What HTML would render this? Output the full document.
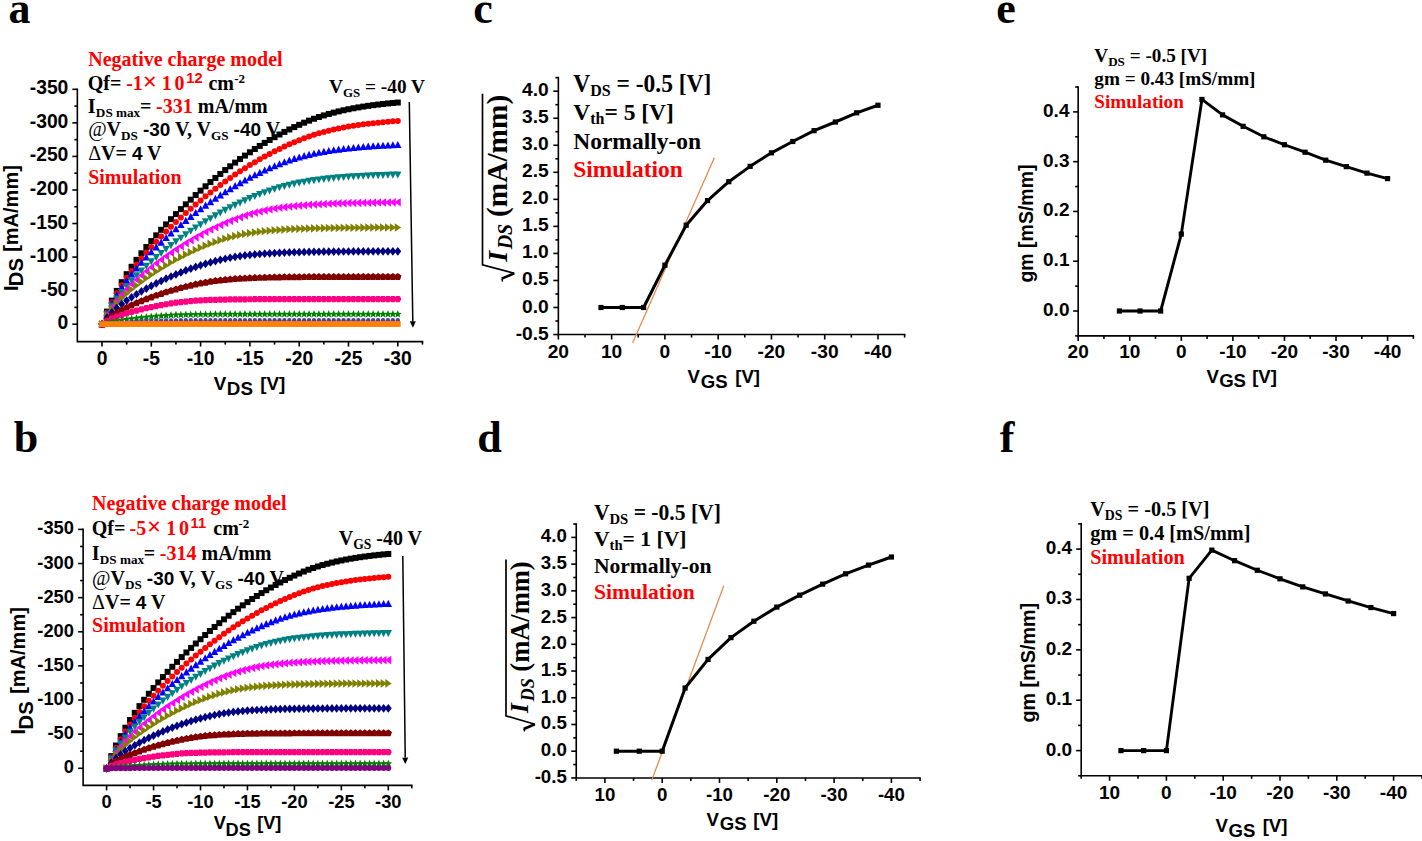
<!DOCTYPE html>
<html><head><meta charset="utf-8"><title>Figure</title>
<style>
html,body{margin:0;padding:0;background:#fff;}
body{width:1422px;height:841px;overflow:hidden;font-family:"Liberation Sans",sans-serif;}
svg{display:block;}
</style></head>
<body>
<svg width="1422" height="841" viewBox="0 0 1422 841">
<rect width="1422" height="841" fill="#fff"/>
<text x="8.58" y="23.3" font-family="'Liberation Serif', serif" font-size="44" font-weight="bold" font-style="normal" fill="#000" xml:space="preserve" >a</text>
<text x="13.74" y="452" font-family="'Liberation Serif', serif" font-size="44" font-weight="bold" font-style="normal" fill="#000" xml:space="preserve" >b</text>
<text x="473.3" y="23.3" font-family="'Liberation Serif', serif" font-size="44" font-weight="bold" font-style="normal" fill="#000" xml:space="preserve" >c</text>
<text x="477.32" y="451.5" font-family="'Liberation Serif', serif" font-size="44" font-weight="bold" font-style="normal" fill="#000" xml:space="preserve" >d</text>
<text x="996.3" y="23.3" font-family="'Liberation Serif', serif" font-size="44" font-weight="bold" font-style="normal" fill="#000" xml:space="preserve" >e</text>
<text x="999.78" y="452" font-family="'Liberation Serif', serif" font-size="44" font-weight="bold" font-style="normal" fill="#000" xml:space="preserve" >f</text>
<path d="M77.35,89.31 L77.35,341.58 L422.45,341.58" fill="none" stroke="#000" stroke-width="1.6" stroke-linecap="square"/>
<line x1="72.35" y1="324.2" x2="77.35" y2="324.2" stroke="#000" stroke-width="1.6" />
<text x="68.35" y="329.2" font-family="'Liberation Sans', sans-serif" font-size="19.3" font-weight="bold" fill="#000" text-anchor="end" >0</text>
<line x1="72.35" y1="290.64" x2="77.35" y2="290.64" stroke="#000" stroke-width="1.6" />
<text x="68.35" y="295.64" font-family="'Liberation Sans', sans-serif" font-size="19.3" font-weight="bold" fill="#000" text-anchor="end" >-50</text>
<line x1="72.35" y1="257.09" x2="77.35" y2="257.09" stroke="#000" stroke-width="1.6" />
<text x="68.35" y="262.09" font-family="'Liberation Sans', sans-serif" font-size="19.3" font-weight="bold" fill="#000" text-anchor="end" >-100</text>
<line x1="72.35" y1="223.53" x2="77.35" y2="223.53" stroke="#000" stroke-width="1.6" />
<text x="68.35" y="228.53" font-family="'Liberation Sans', sans-serif" font-size="19.3" font-weight="bold" fill="#000" text-anchor="end" >-150</text>
<line x1="72.35" y1="189.98" x2="77.35" y2="189.98" stroke="#000" stroke-width="1.6" />
<text x="68.35" y="194.98" font-family="'Liberation Sans', sans-serif" font-size="19.3" font-weight="bold" fill="#000" text-anchor="end" >-200</text>
<line x1="72.35" y1="156.42" x2="77.35" y2="156.42" stroke="#000" stroke-width="1.6" />
<text x="68.35" y="161.42" font-family="'Liberation Sans', sans-serif" font-size="19.3" font-weight="bold" fill="#000" text-anchor="end" >-250</text>
<line x1="72.35" y1="122.87" x2="77.35" y2="122.87" stroke="#000" stroke-width="1.6" />
<text x="68.35" y="127.87" font-family="'Liberation Sans', sans-serif" font-size="19.3" font-weight="bold" fill="#000" text-anchor="end" >-300</text>
<line x1="72.35" y1="89.31" x2="77.35" y2="89.31" stroke="#000" stroke-width="1.6" />
<text x="68.35" y="94.31" font-family="'Liberation Sans', sans-serif" font-size="19.3" font-weight="bold" fill="#000" text-anchor="end" >-350</text>
<line x1="74.35" y1="307.42" x2="77.35" y2="307.42" stroke="#000" stroke-width="1.6" />
<line x1="74.35" y1="273.87" x2="77.35" y2="273.87" stroke="#000" stroke-width="1.6" />
<line x1="74.35" y1="240.31" x2="77.35" y2="240.31" stroke="#000" stroke-width="1.6" />
<line x1="74.35" y1="206.76" x2="77.35" y2="206.76" stroke="#000" stroke-width="1.6" />
<line x1="74.35" y1="173.2" x2="77.35" y2="173.2" stroke="#000" stroke-width="1.6" />
<line x1="74.35" y1="139.65" x2="77.35" y2="139.65" stroke="#000" stroke-width="1.6" />
<line x1="74.35" y1="106.09" x2="77.35" y2="106.09" stroke="#000" stroke-width="1.6" />
<line x1="102" y1="341.58" x2="102" y2="346.58" stroke="#000" stroke-width="1.6" />
<text x="102" y="364.98" font-family="'Liberation Sans', sans-serif" font-size="19.3" font-weight="bold" fill="#000" text-anchor="middle" >0</text>
<line x1="151.3" y1="341.58" x2="151.3" y2="346.58" stroke="#000" stroke-width="1.6" />
<text x="151.3" y="364.98" font-family="'Liberation Sans', sans-serif" font-size="19.3" font-weight="bold" fill="#000" text-anchor="middle" >-5</text>
<line x1="200.6" y1="341.58" x2="200.6" y2="346.58" stroke="#000" stroke-width="1.6" />
<text x="200.6" y="364.98" font-family="'Liberation Sans', sans-serif" font-size="19.3" font-weight="bold" fill="#000" text-anchor="middle" >-10</text>
<line x1="249.9" y1="341.58" x2="249.9" y2="346.58" stroke="#000" stroke-width="1.6" />
<text x="249.9" y="364.98" font-family="'Liberation Sans', sans-serif" font-size="19.3" font-weight="bold" fill="#000" text-anchor="middle" >-15</text>
<line x1="299.2" y1="341.58" x2="299.2" y2="346.58" stroke="#000" stroke-width="1.6" />
<text x="299.2" y="364.98" font-family="'Liberation Sans', sans-serif" font-size="19.3" font-weight="bold" fill="#000" text-anchor="middle" >-20</text>
<line x1="348.5" y1="341.58" x2="348.5" y2="346.58" stroke="#000" stroke-width="1.6" />
<text x="348.5" y="364.98" font-family="'Liberation Sans', sans-serif" font-size="19.3" font-weight="bold" fill="#000" text-anchor="middle" >-25</text>
<line x1="397.8" y1="341.58" x2="397.8" y2="346.58" stroke="#000" stroke-width="1.6" />
<text x="397.8" y="364.98" font-family="'Liberation Sans', sans-serif" font-size="19.3" font-weight="bold" fill="#000" text-anchor="middle" >-30</text>
<line x1="126.65" y1="341.58" x2="126.65" y2="344.58" stroke="#000" stroke-width="1.6" />
<line x1="175.95" y1="341.58" x2="175.95" y2="344.58" stroke="#000" stroke-width="1.6" />
<line x1="225.25" y1="341.58" x2="225.25" y2="344.58" stroke="#000" stroke-width="1.6" />
<line x1="274.55" y1="341.58" x2="274.55" y2="344.58" stroke="#000" stroke-width="1.6" />
<line x1="323.85" y1="341.58" x2="323.85" y2="344.58" stroke="#000" stroke-width="1.6" />
<line x1="373.15" y1="341.58" x2="373.15" y2="344.58" stroke="#000" stroke-width="1.6" />
<line x1="422.45" y1="341.58" x2="422.45" y2="344.58" stroke="#000" stroke-width="1.6" />
<g>
<rect x="99" y="321.2" width="6" height="6" fill="#000000"/>
<rect x="103.93" y="308.61" width="6" height="6" fill="#000000"/>
<rect x="108.86" y="297.64" width="6" height="6" fill="#000000"/>
<rect x="113.79" y="287.93" width="6" height="6" fill="#000000"/>
<rect x="118.72" y="279.18" width="6" height="6" fill="#000000"/>
<rect x="123.65" y="271.19" width="6" height="6" fill="#000000"/>
<rect x="128.58" y="263.78" width="6" height="6" fill="#000000"/>
<rect x="133.51" y="256.85" width="6" height="6" fill="#000000"/>
<rect x="138.44" y="250.3" width="6" height="6" fill="#000000"/>
<rect x="143.37" y="244.06" width="6" height="6" fill="#000000"/>
<rect x="148.3" y="238.09" width="6" height="6" fill="#000000"/>
<rect x="153.23" y="232.34" width="6" height="6" fill="#000000"/>
<rect x="158.16" y="226.78" width="6" height="6" fill="#000000"/>
<rect x="163.09" y="221.4" width="6" height="6" fill="#000000"/>
<rect x="168.02" y="216.18" width="6" height="6" fill="#000000"/>
<rect x="172.95" y="211.1" width="6" height="6" fill="#000000"/>
<rect x="177.88" y="206.15" width="6" height="6" fill="#000000"/>
<rect x="182.81" y="201.34" width="6" height="6" fill="#000000"/>
<rect x="187.74" y="196.65" width="6" height="6" fill="#000000"/>
<rect x="192.67" y="192.08" width="6" height="6" fill="#000000"/>
<rect x="197.6" y="187.63" width="6" height="6" fill="#000000"/>
<rect x="202.53" y="183.29" width="6" height="6" fill="#000000"/>
<rect x="207.46" y="179.07" width="6" height="6" fill="#000000"/>
<rect x="212.39" y="174.96" width="6" height="6" fill="#000000"/>
<rect x="217.32" y="170.96" width="6" height="6" fill="#000000"/>
<rect x="222.25" y="167.07" width="6" height="6" fill="#000000"/>
<rect x="227.18" y="163.29" width="6" height="6" fill="#000000"/>
<rect x="232.11" y="159.62" width="6" height="6" fill="#000000"/>
<rect x="237.04" y="156.06" width="6" height="6" fill="#000000"/>
<rect x="241.97" y="152.61" width="6" height="6" fill="#000000"/>
<rect x="246.9" y="149.27" width="6" height="6" fill="#000000"/>
<rect x="251.83" y="146.04" width="6" height="6" fill="#000000"/>
<rect x="256.76" y="142.91" width="6" height="6" fill="#000000"/>
<rect x="261.69" y="139.9" width="6" height="6" fill="#000000"/>
<rect x="266.62" y="136.99" width="6" height="6" fill="#000000"/>
<rect x="271.55" y="134.19" width="6" height="6" fill="#000000"/>
<rect x="276.48" y="131.5" width="6" height="6" fill="#000000"/>
<rect x="281.41" y="128.92" width="6" height="6" fill="#000000"/>
<rect x="286.34" y="126.45" width="6" height="6" fill="#000000"/>
<rect x="291.27" y="124.09" width="6" height="6" fill="#000000"/>
<rect x="296.2" y="121.83" width="6" height="6" fill="#000000"/>
<rect x="301.13" y="119.69" width="6" height="6" fill="#000000"/>
<rect x="306.06" y="117.65" width="6" height="6" fill="#000000"/>
<rect x="310.99" y="115.76" width="6" height="6" fill="#000000"/>
<rect x="315.92" y="114.03" width="6" height="6" fill="#000000"/>
<rect x="320.85" y="112.43" width="6" height="6" fill="#000000"/>
<rect x="325.78" y="110.97" width="6" height="6" fill="#000000"/>
<rect x="330.71" y="109.63" width="6" height="6" fill="#000000"/>
<rect x="335.64" y="108.4" width="6" height="6" fill="#000000"/>
<rect x="340.57" y="107.27" width="6" height="6" fill="#000000"/>
<rect x="345.5" y="106.23" width="6" height="6" fill="#000000"/>
<rect x="350.43" y="105.27" width="6" height="6" fill="#000000"/>
<rect x="355.36" y="104.4" width="6" height="6" fill="#000000"/>
<rect x="360.29" y="103.59" width="6" height="6" fill="#000000"/>
<rect x="365.22" y="102.85" width="6" height="6" fill="#000000"/>
<rect x="370.15" y="102.18" width="6" height="6" fill="#000000"/>
<rect x="375.08" y="101.56" width="6" height="6" fill="#000000"/>
<rect x="380.01" y="100.98" width="6" height="6" fill="#000000"/>
<rect x="384.94" y="100.46" width="6" height="6" fill="#000000"/>
<rect x="389.87" y="99.98" width="6" height="6" fill="#000000"/>
<rect x="394.8" y="99.54" width="6" height="6" fill="#000000"/>
</g>
<g>
<circle cx="102" cy="324.2" r="3" fill="#ff0000"/>
<circle cx="106.93" cy="312.46" r="3" fill="#ff0000"/>
<circle cx="111.86" cy="302.27" r="3" fill="#ff0000"/>
<circle cx="116.79" cy="293.25" r="3" fill="#ff0000"/>
<circle cx="121.72" cy="285.14" r="3" fill="#ff0000"/>
<circle cx="126.65" cy="277.73" r="3" fill="#ff0000"/>
<circle cx="131.58" cy="270.88" r="3" fill="#ff0000"/>
<circle cx="136.51" cy="264.46" r="3" fill="#ff0000"/>
<circle cx="141.44" cy="258.39" r="3" fill="#ff0000"/>
<circle cx="146.37" cy="252.61" r="3" fill="#ff0000"/>
<circle cx="151.3" cy="247.08" r="3" fill="#ff0000"/>
<circle cx="156.23" cy="241.75" r="3" fill="#ff0000"/>
<circle cx="161.16" cy="236.61" r="3" fill="#ff0000"/>
<circle cx="166.09" cy="231.62" r="3" fill="#ff0000"/>
<circle cx="171.02" cy="226.78" r="3" fill="#ff0000"/>
<circle cx="175.95" cy="222.08" r="3" fill="#ff0000"/>
<circle cx="180.88" cy="217.5" r="3" fill="#ff0000"/>
<circle cx="185.81" cy="213.05" r="3" fill="#ff0000"/>
<circle cx="190.74" cy="208.71" r="3" fill="#ff0000"/>
<circle cx="195.67" cy="204.49" r="3" fill="#ff0000"/>
<circle cx="200.6" cy="200.38" r="3" fill="#ff0000"/>
<circle cx="205.53" cy="196.37" r="3" fill="#ff0000"/>
<circle cx="210.46" cy="192.48" r="3" fill="#ff0000"/>
<circle cx="215.39" cy="188.68" r="3" fill="#ff0000"/>
<circle cx="220.32" cy="185" r="3" fill="#ff0000"/>
<circle cx="225.25" cy="181.42" r="3" fill="#ff0000"/>
<circle cx="230.18" cy="177.95" r="3" fill="#ff0000"/>
<circle cx="235.11" cy="174.58" r="3" fill="#ff0000"/>
<circle cx="240.04" cy="171.31" r="3" fill="#ff0000"/>
<circle cx="244.97" cy="168.15" r="3" fill="#ff0000"/>
<circle cx="249.9" cy="165.09" r="3" fill="#ff0000"/>
<circle cx="254.83" cy="162.13" r="3" fill="#ff0000"/>
<circle cx="259.76" cy="159.28" r="3" fill="#ff0000"/>
<circle cx="264.69" cy="156.53" r="3" fill="#ff0000"/>
<circle cx="269.62" cy="153.89" r="3" fill="#ff0000"/>
<circle cx="274.55" cy="151.35" r="3" fill="#ff0000"/>
<circle cx="279.48" cy="148.91" r="3" fill="#ff0000"/>
<circle cx="284.41" cy="146.57" r="3" fill="#ff0000"/>
<circle cx="289.34" cy="144.34" r="3" fill="#ff0000"/>
<circle cx="294.27" cy="142.21" r="3" fill="#ff0000"/>
<circle cx="299.2" cy="140.19" r="3" fill="#ff0000"/>
<circle cx="304.13" cy="138.27" r="3" fill="#ff0000"/>
<circle cx="309.06" cy="136.48" r="3" fill="#ff0000"/>
<circle cx="313.99" cy="134.84" r="3" fill="#ff0000"/>
<circle cx="318.92" cy="133.34" r="3" fill="#ff0000"/>
<circle cx="323.85" cy="131.96" r="3" fill="#ff0000"/>
<circle cx="328.78" cy="130.7" r="3" fill="#ff0000"/>
<circle cx="333.71" cy="129.54" r="3" fill="#ff0000"/>
<circle cx="338.64" cy="128.48" r="3" fill="#ff0000"/>
<circle cx="343.57" cy="127.51" r="3" fill="#ff0000"/>
<circle cx="348.5" cy="126.62" r="3" fill="#ff0000"/>
<circle cx="353.43" cy="125.8" r="3" fill="#ff0000"/>
<circle cx="358.36" cy="125.05" r="3" fill="#ff0000"/>
<circle cx="363.29" cy="124.36" r="3" fill="#ff0000"/>
<circle cx="368.22" cy="123.74" r="3" fill="#ff0000"/>
<circle cx="373.15" cy="123.16" r="3" fill="#ff0000"/>
<circle cx="378.08" cy="122.63" r="3" fill="#ff0000"/>
<circle cx="383.01" cy="122.15" r="3" fill="#ff0000"/>
<circle cx="387.94" cy="121.7" r="3" fill="#ff0000"/>
<circle cx="392.87" cy="121.3" r="3" fill="#ff0000"/>
<circle cx="397.8" cy="120.92" r="3" fill="#ff0000"/>
</g>
<g>
<polygon points="102,320.24 105.7,327.33 98.3,327.33" fill="#0000ff"/>
<polygon points="106.93,309.06 110.63,316.15 103.23,316.15" fill="#0000ff"/>
<polygon points="111.86,299.46 115.56,306.55 108.16,306.55" fill="#0000ff"/>
<polygon points="116.79,291.04 120.49,298.13 113.09,298.13" fill="#0000ff"/>
<polygon points="121.72,283.5 125.42,290.6 118.02,290.6" fill="#0000ff"/>
<polygon points="126.65,276.64 130.35,283.73 122.95,283.73" fill="#0000ff"/>
<polygon points="131.58,270.29 135.28,277.39 127.88,277.39" fill="#0000ff"/>
<polygon points="136.51,264.35 140.21,271.45 132.81,271.45" fill="#0000ff"/>
<polygon points="141.44,258.74 145.14,265.83 137.74,265.83" fill="#0000ff"/>
<polygon points="146.37,253.39 150.07,260.49 142.67,260.49" fill="#0000ff"/>
<polygon points="151.3,248.26 155,255.36 147.6,255.36" fill="#0000ff"/>
<polygon points="156.23,243.33 159.93,250.42 152.53,250.42" fill="#0000ff"/>
<polygon points="161.16,238.56 164.86,245.66 157.46,245.66" fill="#0000ff"/>
<polygon points="166.09,233.95 169.79,241.04 162.39,241.04" fill="#0000ff"/>
<polygon points="171.02,229.47 174.72,236.57 167.32,236.57" fill="#0000ff"/>
<polygon points="175.95,225.13 179.65,232.22 172.25,232.22" fill="#0000ff"/>
<polygon points="180.88,220.91 184.58,228.01 177.18,228.01" fill="#0000ff"/>
<polygon points="185.81,216.82 189.51,223.91 182.11,223.91" fill="#0000ff"/>
<polygon points="190.74,212.84 194.44,219.93 187.04,219.93" fill="#0000ff"/>
<polygon points="195.67,208.97 199.37,216.07 191.97,216.07" fill="#0000ff"/>
<polygon points="200.6,205.22 204.3,212.32 196.9,212.32" fill="#0000ff"/>
<polygon points="205.53,201.58 209.23,208.68 201.83,208.68" fill="#0000ff"/>
<polygon points="210.46,198.05 214.16,205.15 206.76,205.15" fill="#0000ff"/>
<polygon points="215.39,194.64 219.09,201.73 211.69,201.73" fill="#0000ff"/>
<polygon points="220.32,191.33 224.02,198.42 216.62,198.42" fill="#0000ff"/>
<polygon points="225.25,188.13 228.95,195.23 221.55,195.23" fill="#0000ff"/>
<polygon points="230.18,185.04 233.88,192.14 226.48,192.14" fill="#0000ff"/>
<polygon points="235.11,182.06 238.81,189.16 231.41,189.16" fill="#0000ff"/>
<polygon points="240.04,179.19 243.74,186.29 236.34,186.29" fill="#0000ff"/>
<polygon points="244.97,176.43 248.67,183.53 241.27,183.53" fill="#0000ff"/>
<polygon points="249.9,173.78 253.6,180.87 246.2,180.87" fill="#0000ff"/>
<polygon points="254.83,171.23 258.53,178.33 251.13,178.33" fill="#0000ff"/>
<polygon points="259.76,168.8 263.46,175.89 256.06,175.89" fill="#0000ff"/>
<polygon points="264.69,166.47 268.39,173.57 260.99,173.57" fill="#0000ff"/>
<polygon points="269.62,164.26 273.32,171.35 265.92,171.35" fill="#0000ff"/>
<polygon points="274.55,162.15 278.25,169.24 270.85,169.24" fill="#0000ff"/>
<polygon points="279.48,160.15 283.18,167.24 275.78,167.24" fill="#0000ff"/>
<polygon points="284.41,158.25 288.11,165.35 280.71,165.35" fill="#0000ff"/>
<polygon points="289.34,156.48 293.04,163.58 285.64,163.58" fill="#0000ff"/>
<polygon points="294.27,154.87 297.97,161.96 290.57,161.96" fill="#0000ff"/>
<polygon points="299.2,153.4 302.9,160.49 295.5,160.49" fill="#0000ff"/>
<polygon points="304.13,152.07 307.83,159.16 300.43,159.16" fill="#0000ff"/>
<polygon points="309.06,150.85 312.76,157.95 305.36,157.95" fill="#0000ff"/>
<polygon points="313.99,149.75 317.69,156.85 310.29,156.85" fill="#0000ff"/>
<polygon points="318.92,148.75 322.62,155.84 315.22,155.84" fill="#0000ff"/>
<polygon points="323.85,147.84 327.55,154.93 320.15,154.93" fill="#0000ff"/>
<polygon points="328.78,147.01 332.48,154.11 325.08,154.11" fill="#0000ff"/>
<polygon points="333.71,146.26 337.41,153.35 330.01,153.35" fill="#0000ff"/>
<polygon points="338.64,145.57 342.34,152.67 334.94,152.67" fill="#0000ff"/>
<polygon points="343.57,144.95 347.27,152.05 339.87,152.05" fill="#0000ff"/>
<polygon points="348.5,144.39 352.2,151.48 344.8,151.48" fill="#0000ff"/>
<polygon points="353.43,143.88 357.13,150.97 349.73,150.97" fill="#0000ff"/>
<polygon points="358.36,143.41 362.06,150.5 354.66,150.5" fill="#0000ff"/>
<polygon points="363.29,142.98 366.99,150.08 359.59,150.08" fill="#0000ff"/>
<polygon points="368.22,142.6 371.92,149.69 364.52,149.69" fill="#0000ff"/>
<polygon points="373.15,142.25 376.85,149.34 369.45,149.34" fill="#0000ff"/>
<polygon points="378.08,141.93 381.78,149.03 374.38,149.03" fill="#0000ff"/>
<polygon points="383.01,141.64 386.71,148.74 379.31,148.74" fill="#0000ff"/>
<polygon points="387.94,141.38 391.64,148.47 384.24,148.47" fill="#0000ff"/>
<polygon points="392.87,141.14 396.57,148.23 389.17,148.23" fill="#0000ff"/>
<polygon points="397.8,140.92 401.5,148.02 394.1,148.02" fill="#0000ff"/>
</g>
<g>
<polygon points="102,328.16 105.7,321.06 98.3,321.06" fill="#008080"/>
<polygon points="106.93,318.27 110.63,311.17 103.23,311.17" fill="#008080"/>
<polygon points="111.86,309.85 115.56,302.76 108.16,302.76" fill="#008080"/>
<polygon points="116.79,302.51 120.49,295.42 113.09,295.42" fill="#008080"/>
<polygon points="121.72,295.97 125.42,288.88 118.02,288.88" fill="#008080"/>
<polygon points="126.65,290.03 130.35,282.93 122.95,282.93" fill="#008080"/>
<polygon points="131.58,284.53 135.28,277.44 127.88,277.44" fill="#008080"/>
<polygon points="136.51,279.39 140.21,272.29 132.81,272.29" fill="#008080"/>
<polygon points="141.44,274.52 145.14,267.43 137.74,267.43" fill="#008080"/>
<polygon points="146.37,269.89 150.07,262.79 142.67,262.79" fill="#008080"/>
<polygon points="151.3,265.44 155,258.35 147.6,258.35" fill="#008080"/>
<polygon points="156.23,261.17 159.93,254.07 152.53,254.07" fill="#008080"/>
<polygon points="161.16,257.04 164.86,249.94 157.46,249.94" fill="#008080"/>
<polygon points="166.09,253.04 169.79,245.95 162.39,245.95" fill="#008080"/>
<polygon points="171.02,249.17 174.72,242.08 167.32,242.08" fill="#008080"/>
<polygon points="175.95,245.43 179.65,238.33 172.25,238.33" fill="#008080"/>
<polygon points="180.88,241.79 184.58,234.7 177.18,234.7" fill="#008080"/>
<polygon points="185.81,238.27 189.51,231.17 182.11,231.17" fill="#008080"/>
<polygon points="190.74,234.86 194.44,227.76 187.04,227.76" fill="#008080"/>
<polygon points="195.67,231.55 199.37,224.45 191.97,224.45" fill="#008080"/>
<polygon points="200.6,228.35 204.3,221.25 196.9,221.25" fill="#008080"/>
<polygon points="205.53,225.26 209.23,218.16 201.83,218.16" fill="#008080"/>
<polygon points="210.46,222.27 214.16,215.17 206.76,215.17" fill="#008080"/>
<polygon points="215.39,219.38 219.09,212.29 211.69,212.29" fill="#008080"/>
<polygon points="220.32,216.6 224.02,209.51 216.62,209.51" fill="#008080"/>
<polygon points="225.25,213.92 228.95,206.83 221.55,206.83" fill="#008080"/>
<polygon points="230.18,211.35 233.88,204.26 226.48,204.26" fill="#008080"/>
<polygon points="235.11,208.88 238.81,201.79 231.41,201.79" fill="#008080"/>
<polygon points="240.04,206.52 243.74,199.42 236.34,199.42" fill="#008080"/>
<polygon points="244.97,204.26 248.67,197.16 241.27,197.16" fill="#008080"/>
<polygon points="249.9,202.1 253.6,195 246.2,195" fill="#008080"/>
<polygon points="254.83,200.04 258.53,192.95 251.13,192.95" fill="#008080"/>
<polygon points="259.76,198.09 263.46,191 256.06,191" fill="#008080"/>
<polygon points="264.69,196.24 268.39,189.15 260.99,189.15" fill="#008080"/>
<polygon points="269.62,194.5 273.32,187.41 265.92,187.41" fill="#008080"/>
<polygon points="274.55,192.86 278.25,185.77 270.85,185.77" fill="#008080"/>
<polygon points="279.48,191.35 283.18,184.26 275.78,184.26" fill="#008080"/>
<polygon points="284.41,189.99 288.11,182.9 280.71,182.9" fill="#008080"/>
<polygon points="289.34,188.77 293.04,181.67 285.64,181.67" fill="#008080"/>
<polygon points="294.27,187.66 297.97,180.56 290.57,180.56" fill="#008080"/>
<polygon points="299.2,186.66 302.9,179.56 295.5,179.56" fill="#008080"/>
<polygon points="304.13,185.76 307.83,178.66 300.43,178.66" fill="#008080"/>
<polygon points="309.06,184.94 312.76,177.85 305.36,177.85" fill="#008080"/>
<polygon points="313.99,184.21 317.69,177.11 310.29,177.11" fill="#008080"/>
<polygon points="318.92,183.54 322.62,176.45 315.22,176.45" fill="#008080"/>
<polygon points="323.85,182.94 327.55,175.85 320.15,175.85" fill="#008080"/>
<polygon points="328.78,182.4 332.48,175.3 325.08,175.3" fill="#008080"/>
<polygon points="333.71,181.91 337.41,174.82 330.01,174.82" fill="#008080"/>
<polygon points="338.64,181.47 342.34,174.37 334.94,174.37" fill="#008080"/>
<polygon points="343.57,181.07 347.27,173.98 339.87,173.98" fill="#008080"/>
<polygon points="348.5,180.71 352.2,173.62 344.8,173.62" fill="#008080"/>
<polygon points="353.43,180.39 357.13,173.29 349.73,173.29" fill="#008080"/>
<polygon points="358.36,180.09 362.06,173 354.66,173" fill="#008080"/>
<polygon points="363.29,179.83 366.99,172.73 359.59,172.73" fill="#008080"/>
<polygon points="368.22,179.59 371.92,172.49 364.52,172.49" fill="#008080"/>
<polygon points="373.15,179.37 376.85,172.28 369.45,172.28" fill="#008080"/>
<polygon points="378.08,179.18 381.78,172.08 374.38,172.08" fill="#008080"/>
<polygon points="383.01,179 386.71,171.91 379.31,171.91" fill="#008080"/>
<polygon points="387.94,178.84 391.64,171.75 384.24,171.75" fill="#008080"/>
<polygon points="392.87,178.7 396.57,171.61 389.17,171.61" fill="#008080"/>
<polygon points="397.8,178.57 401.5,171.48 394.1,171.48" fill="#008080"/>
</g>
<g>
<polygon points="98.7,324.2 104.97,328.49 104.97,319.91" fill="#ff00ff"/>
<polygon points="103.63,314.87 109.9,319.16 109.9,310.58" fill="#ff00ff"/>
<polygon points="108.56,307.12 114.83,311.41 114.83,302.83" fill="#ff00ff"/>
<polygon points="113.49,300.47 119.76,304.76 119.76,296.18" fill="#ff00ff"/>
<polygon points="118.42,294.58 124.69,298.87 124.69,290.29" fill="#ff00ff"/>
<polygon points="123.35,289.25 129.62,293.54 129.62,284.96" fill="#ff00ff"/>
<polygon points="128.28,284.32 134.55,288.61 134.55,280.03" fill="#ff00ff"/>
<polygon points="133.21,279.71 139.48,284 139.48,275.42" fill="#ff00ff"/>
<polygon points="138.14,275.34 144.41,279.63 144.41,271.05" fill="#ff00ff"/>
<polygon points="143.07,271.18 149.34,275.47 149.34,266.89" fill="#ff00ff"/>
<polygon points="148,267.18 154.27,271.47 154.27,262.89" fill="#ff00ff"/>
<polygon points="152.93,263.35 159.2,267.64 159.2,259.06" fill="#ff00ff"/>
<polygon points="157.86,259.65 164.13,263.94 164.13,255.36" fill="#ff00ff"/>
<polygon points="162.79,256.1 169.06,260.39 169.06,251.81" fill="#ff00ff"/>
<polygon points="167.72,252.66 173.99,256.95 173.99,248.37" fill="#ff00ff"/>
<polygon points="172.65,249.36 178.92,253.65 178.92,245.07" fill="#ff00ff"/>
<polygon points="177.58,246.17 183.85,250.46 183.85,241.88" fill="#ff00ff"/>
<polygon points="182.51,243.11 188.78,247.4 188.78,238.82" fill="#ff00ff"/>
<polygon points="187.44,240.17 193.71,244.46 193.71,235.88" fill="#ff00ff"/>
<polygon points="192.37,237.34 198.64,241.63 198.64,233.05" fill="#ff00ff"/>
<polygon points="197.3,234.63 203.57,238.92 203.57,230.34" fill="#ff00ff"/>
<polygon points="202.23,232.04 208.5,236.33 208.5,227.75" fill="#ff00ff"/>
<polygon points="207.16,229.57 213.43,233.86 213.43,225.28" fill="#ff00ff"/>
<polygon points="212.09,227.21 218.36,231.5 218.36,222.92" fill="#ff00ff"/>
<polygon points="217.02,224.97 223.29,229.26 223.29,220.68" fill="#ff00ff"/>
<polygon points="221.95,222.85 228.22,227.14 228.22,218.56" fill="#ff00ff"/>
<polygon points="226.88,220.85 233.15,225.14 233.15,216.56" fill="#ff00ff"/>
<polygon points="231.81,218.96 238.08,223.25 238.08,214.67" fill="#ff00ff"/>
<polygon points="236.74,217.19 243.01,221.48 243.01,212.9" fill="#ff00ff"/>
<polygon points="241.67,215.54 247.94,219.83 247.94,211.25" fill="#ff00ff"/>
<polygon points="246.6,214.01 252.87,218.3 252.87,209.72" fill="#ff00ff"/>
<polygon points="251.53,212.64 257.8,216.93 257.8,208.35" fill="#ff00ff"/>
<polygon points="256.46,211.43 262.73,215.72 262.73,207.14" fill="#ff00ff"/>
<polygon points="261.39,210.36 267.66,214.65 267.66,206.07" fill="#ff00ff"/>
<polygon points="266.32,209.41 272.59,213.7 272.59,205.12" fill="#ff00ff"/>
<polygon points="271.25,208.57 277.52,212.86 277.52,204.28" fill="#ff00ff"/>
<polygon points="276.18,207.82 282.45,212.11 282.45,203.53" fill="#ff00ff"/>
<polygon points="281.11,207.16 287.38,211.45 287.38,202.87" fill="#ff00ff"/>
<polygon points="286.04,206.57 292.31,210.86 292.31,202.28" fill="#ff00ff"/>
<polygon points="290.97,206.05 297.24,210.34 297.24,201.76" fill="#ff00ff"/>
<polygon points="295.9,205.59 302.17,209.88 302.17,201.3" fill="#ff00ff"/>
<polygon points="300.83,205.19 307.1,209.48 307.1,200.9" fill="#ff00ff"/>
<polygon points="305.76,204.82 312.03,209.11 312.03,200.53" fill="#ff00ff"/>
<polygon points="310.69,204.5 316.96,208.79 316.96,200.21" fill="#ff00ff"/>
<polygon points="315.62,204.22 321.89,208.51 321.89,199.93" fill="#ff00ff"/>
<polygon points="320.55,203.97 326.82,208.26 326.82,199.68" fill="#ff00ff"/>
<polygon points="325.48,203.75 331.75,208.04 331.75,199.46" fill="#ff00ff"/>
<polygon points="330.41,203.55 336.68,207.84 336.68,199.26" fill="#ff00ff"/>
<polygon points="335.34,203.37 341.61,207.66 341.61,199.08" fill="#ff00ff"/>
<polygon points="340.27,203.22 346.54,207.51 346.54,198.93" fill="#ff00ff"/>
<polygon points="345.2,203.08 351.47,207.37 351.47,198.79" fill="#ff00ff"/>
<polygon points="350.13,202.96 356.4,207.25 356.4,198.67" fill="#ff00ff"/>
<polygon points="355.06,202.85 361.33,207.14 361.33,198.56" fill="#ff00ff"/>
<polygon points="359.99,202.75 366.26,207.04 366.26,198.46" fill="#ff00ff"/>
<polygon points="364.92,202.67 371.19,206.96 371.19,198.38" fill="#ff00ff"/>
<polygon points="369.85,202.59 376.12,206.88 376.12,198.3" fill="#ff00ff"/>
<polygon points="374.78,202.53 381.05,206.82 381.05,198.24" fill="#ff00ff"/>
<polygon points="379.71,202.47 385.98,206.76 385.98,198.18" fill="#ff00ff"/>
<polygon points="384.64,202.42 390.91,206.71 390.91,198.13" fill="#ff00ff"/>
<polygon points="389.57,202.37 395.84,206.66 395.84,198.08" fill="#ff00ff"/>
<polygon points="394.5,202.33 400.77,206.62 400.77,198.04" fill="#ff00ff"/>
</g>
<g>
<polygon points="105.3,324.2 99.03,328.49 99.03,319.91" fill="#808000"/>
<polygon points="110.23,315.89 103.96,320.18 103.96,311.6" fill="#808000"/>
<polygon points="115.16,309.14 108.89,313.43 108.89,304.85" fill="#808000"/>
<polygon points="120.09,303.4 113.82,307.69 113.82,299.11" fill="#808000"/>
<polygon points="125.02,298.35 118.75,302.64 118.75,294.06" fill="#808000"/>
<polygon points="129.95,293.78 123.68,298.07 123.68,289.49" fill="#808000"/>
<polygon points="134.88,289.56 128.61,293.85 128.61,285.27" fill="#808000"/>
<polygon points="139.81,285.59 133.54,289.88 133.54,281.3" fill="#808000"/>
<polygon points="144.74,281.84 138.47,286.13 138.47,277.55" fill="#808000"/>
<polygon points="149.67,278.27 143.4,282.56 143.4,273.98" fill="#808000"/>
<polygon points="154.6,274.85 148.33,279.14 148.33,270.56" fill="#808000"/>
<polygon points="159.53,271.58 153.26,275.87 153.26,267.29" fill="#808000"/>
<polygon points="164.46,268.43 158.19,272.72 158.19,264.14" fill="#808000"/>
<polygon points="169.39,265.42 163.12,269.71 163.12,261.13" fill="#808000"/>
<polygon points="174.32,262.54 168.05,266.83 168.05,258.25" fill="#808000"/>
<polygon points="179.25,259.77 172.98,264.06 172.98,255.48" fill="#808000"/>
<polygon points="184.18,257.13 177.91,261.42 177.91,252.84" fill="#808000"/>
<polygon points="189.11,254.62 182.84,258.91 182.84,250.33" fill="#808000"/>
<polygon points="194.04,252.22 187.77,256.51 187.77,247.93" fill="#808000"/>
<polygon points="198.97,249.94 192.7,254.23 192.7,245.65" fill="#808000"/>
<polygon points="203.9,247.79 197.63,252.08 197.63,243.5" fill="#808000"/>
<polygon points="208.83,245.75 202.56,250.04 202.56,241.46" fill="#808000"/>
<polygon points="213.76,243.83 207.49,248.12 207.49,239.54" fill="#808000"/>
<polygon points="218.69,242.04 212.42,246.33 212.42,237.75" fill="#808000"/>
<polygon points="223.62,240.36 217.35,244.65 217.35,236.07" fill="#808000"/>
<polygon points="228.55,238.81 222.28,243.1 222.28,234.52" fill="#808000"/>
<polygon points="233.48,237.37 227.21,241.66 227.21,233.08" fill="#808000"/>
<polygon points="238.41,236.09 232.14,240.38 232.14,231.8" fill="#808000"/>
<polygon points="243.34,234.98 237.07,239.27 237.07,230.69" fill="#808000"/>
<polygon points="248.27,234 242,238.29 242,229.71" fill="#808000"/>
<polygon points="253.2,233.15 246.93,237.44 246.93,228.86" fill="#808000"/>
<polygon points="258.13,232.42 251.86,236.71 251.86,228.13" fill="#808000"/>
<polygon points="263.06,231.77 256.79,236.06 256.79,227.48" fill="#808000"/>
<polygon points="267.99,231.21 261.72,235.5 261.72,226.92" fill="#808000"/>
<polygon points="272.92,230.72 266.65,235.01 266.65,226.43" fill="#808000"/>
<polygon points="277.85,230.29 271.58,234.58 271.58,226" fill="#808000"/>
<polygon points="282.78,229.92 276.51,234.21 276.51,225.63" fill="#808000"/>
<polygon points="287.71,229.6 281.44,233.89 281.44,225.31" fill="#808000"/>
<polygon points="292.64,229.32 286.37,233.61 286.37,225.03" fill="#808000"/>
<polygon points="297.57,229.07 291.3,233.36 291.3,224.78" fill="#808000"/>
<polygon points="302.5,228.86 296.23,233.15 296.23,224.57" fill="#808000"/>
<polygon points="307.43,228.67 301.16,232.96 301.16,224.38" fill="#808000"/>
<polygon points="312.36,228.51 306.09,232.8 306.09,224.22" fill="#808000"/>
<polygon points="317.29,228.36 311.02,232.65 311.02,224.07" fill="#808000"/>
<polygon points="322.22,228.24 315.95,232.53 315.95,223.95" fill="#808000"/>
<polygon points="327.15,228.13 320.88,232.42 320.88,223.84" fill="#808000"/>
<polygon points="332.08,228.04 325.81,232.33 325.81,223.75" fill="#808000"/>
<polygon points="337.01,227.96 330.74,232.25 330.74,223.67" fill="#808000"/>
<polygon points="341.94,227.89 335.67,232.18 335.67,223.6" fill="#808000"/>
<polygon points="346.87,227.82 340.6,232.11 340.6,223.53" fill="#808000"/>
<polygon points="351.8,227.77 345.53,232.06 345.53,223.48" fill="#808000"/>
<polygon points="356.73,227.72 350.46,232.01 350.46,223.43" fill="#808000"/>
<polygon points="361.66,227.68 355.39,231.97 355.39,223.39" fill="#808000"/>
<polygon points="366.59,227.64 360.32,231.93 360.32,223.35" fill="#808000"/>
<polygon points="371.52,227.61 365.25,231.9 365.25,223.32" fill="#808000"/>
<polygon points="376.45,227.59 370.18,231.88 370.18,223.3" fill="#808000"/>
<polygon points="381.38,227.56 375.11,231.85 375.11,223.27" fill="#808000"/>
<polygon points="386.31,227.54 380.04,231.83 380.04,223.25" fill="#808000"/>
<polygon points="391.24,227.52 384.97,231.81 384.97,223.23" fill="#808000"/>
<polygon points="396.17,227.51 389.9,231.8 389.9,223.22" fill="#808000"/>
<polygon points="401.1,227.49 394.83,231.78 394.83,223.2" fill="#808000"/>
</g>
<g>
<polygon points="102,319.85 105.45,324.2 102,328.55 98.55,324.2" fill="#000080"/>
<polygon points="106.93,313.36 110.38,317.71 106.93,322.06 103.48,317.71" fill="#000080"/>
<polygon points="111.86,308.11 115.31,312.46 111.86,316.81 108.41,312.46" fill="#000080"/>
<polygon points="116.79,303.67 120.24,308.02 116.79,312.37 113.34,308.02" fill="#000080"/>
<polygon points="121.72,299.77 125.17,304.12 121.72,308.47 118.27,304.12" fill="#000080"/>
<polygon points="126.65,296.24 130.1,300.59 126.65,304.94 123.2,300.59" fill="#000080"/>
<polygon points="131.58,292.98 135.03,297.33 131.58,301.68 128.13,297.33" fill="#000080"/>
<polygon points="136.51,289.91 139.96,294.26 136.51,298.61 133.06,294.26" fill="#000080"/>
<polygon points="141.44,287.01 144.89,291.36 141.44,295.71 137.99,291.36" fill="#000080"/>
<polygon points="146.37,284.25 149.82,288.6 146.37,292.95 142.92,288.6" fill="#000080"/>
<polygon points="151.3,281.61 154.75,285.96 151.3,290.31 147.85,285.96" fill="#000080"/>
<polygon points="156.23,279.09 159.68,283.44 156.23,287.79 152.78,283.44" fill="#000080"/>
<polygon points="161.16,276.67 164.61,281.02 161.16,285.37 157.71,281.02" fill="#000080"/>
<polygon points="166.09,274.36 169.54,278.71 166.09,283.06 162.64,278.71" fill="#000080"/>
<polygon points="171.02,272.15 174.47,276.5 171.02,280.85 167.57,276.5" fill="#000080"/>
<polygon points="175.95,270.04 179.4,274.39 175.95,278.74 172.5,274.39" fill="#000080"/>
<polygon points="180.88,268.03 184.33,272.38 180.88,276.73 177.43,272.38" fill="#000080"/>
<polygon points="185.81,266.12 189.26,270.47 185.81,274.82 182.36,270.47" fill="#000080"/>
<polygon points="190.74,264.3 194.19,268.65 190.74,273 187.29,268.65" fill="#000080"/>
<polygon points="195.67,262.59 199.12,266.94 195.67,271.29 192.22,266.94" fill="#000080"/>
<polygon points="200.6,260.98 204.05,265.33 200.6,269.68 197.15,265.33" fill="#000080"/>
<polygon points="205.53,259.46 208.98,263.81 205.53,268.16 202.08,263.81" fill="#000080"/>
<polygon points="210.46,258.04 213.91,262.39 210.46,266.74 207.01,262.39" fill="#000080"/>
<polygon points="215.39,256.72 218.84,261.07 215.39,265.42 211.94,261.07" fill="#000080"/>
<polygon points="220.32,255.5 223.77,259.85 220.32,264.2 216.87,259.85" fill="#000080"/>
<polygon points="225.25,254.38 228.7,258.73 225.25,263.08 221.8,258.73" fill="#000080"/>
<polygon points="230.18,253.38 233.63,257.73 230.18,262.08 226.73,257.73" fill="#000080"/>
<polygon points="235.11,252.52 238.56,256.87 235.11,261.22 231.66,256.87" fill="#000080"/>
<polygon points="240.04,251.77 243.49,256.12 240.04,260.47 236.59,256.12" fill="#000080"/>
<polygon points="244.97,251.12 248.42,255.47 244.97,259.82 241.52,255.47" fill="#000080"/>
<polygon points="249.9,250.56 253.35,254.91 249.9,259.26 246.45,254.91" fill="#000080"/>
<polygon points="254.83,250.07 258.28,254.42 254.83,258.77 251.38,254.42" fill="#000080"/>
<polygon points="259.76,249.65 263.21,254 259.76,258.35 256.31,254" fill="#000080"/>
<polygon points="264.69,249.29 268.14,253.64 264.69,257.99 261.24,253.64" fill="#000080"/>
<polygon points="269.62,248.97 273.07,253.32 269.62,257.67 266.17,253.32" fill="#000080"/>
<polygon points="274.55,248.7 278,253.05 274.55,257.4 271.1,253.05" fill="#000080"/>
<polygon points="279.48,248.46 282.93,252.81 279.48,257.16 276.03,252.81" fill="#000080"/>
<polygon points="284.41,248.25 287.86,252.6 284.41,256.95 280.96,252.6" fill="#000080"/>
<polygon points="289.34,248.08 292.79,252.43 289.34,256.78 285.89,252.43" fill="#000080"/>
<polygon points="294.27,247.92 297.72,252.27 294.27,256.62 290.82,252.27" fill="#000080"/>
<polygon points="299.2,247.79 302.65,252.14 299.2,256.49 295.75,252.14" fill="#000080"/>
<polygon points="304.13,247.67 307.58,252.02 304.13,256.37 300.68,252.02" fill="#000080"/>
<polygon points="309.06,247.57 312.51,251.92 309.06,256.27 305.61,251.92" fill="#000080"/>
<polygon points="313.99,247.48 317.44,251.83 313.99,256.18 310.54,251.83" fill="#000080"/>
<polygon points="318.92,247.41 322.37,251.76 318.92,256.11 315.47,251.76" fill="#000080"/>
<polygon points="323.85,247.34 327.3,251.69 323.85,256.04 320.4,251.69" fill="#000080"/>
<polygon points="328.78,247.29 332.23,251.64 328.78,255.99 325.33,251.64" fill="#000080"/>
<polygon points="333.71,247.24 337.16,251.59 333.71,255.94 330.26,251.59" fill="#000080"/>
<polygon points="338.64,247.19 342.09,251.54 338.64,255.89 335.19,251.54" fill="#000080"/>
<polygon points="343.57,247.16 347.02,251.51 343.57,255.86 340.12,251.51" fill="#000080"/>
<polygon points="348.5,247.13 351.95,251.48 348.5,255.83 345.05,251.48" fill="#000080"/>
<polygon points="353.43,247.1 356.88,251.45 353.43,255.8 349.98,251.45" fill="#000080"/>
<polygon points="358.36,247.07 361.81,251.42 358.36,255.77 354.91,251.42" fill="#000080"/>
<polygon points="363.29,247.05 366.74,251.4 363.29,255.75 359.84,251.4" fill="#000080"/>
<polygon points="368.22,247.04 371.67,251.39 368.22,255.74 364.77,251.39" fill="#000080"/>
<polygon points="373.15,247.02 376.6,251.37 373.15,255.72 369.7,251.37" fill="#000080"/>
<polygon points="378.08,247.01 381.53,251.36 378.08,255.71 374.63,251.36" fill="#000080"/>
<polygon points="383.01,247 386.46,251.35 383.01,255.7 379.56,251.35" fill="#000080"/>
<polygon points="387.94,246.98 391.39,251.33 387.94,255.68 384.49,251.33" fill="#000080"/>
<polygon points="392.87,246.98 396.32,251.33 392.87,255.68 389.42,251.33" fill="#000080"/>
<polygon points="397.8,246.97 401.25,251.32 397.8,255.67 394.35,251.32" fill="#000080"/>
</g>
<g>
<polygon points="102,320.66 105.65,323.31 104.26,327.61 99.74,327.61 98.35,323.31" fill="#800000"/>
<polygon points="106.93,315.91 110.58,318.56 109.19,322.85 104.67,322.85 103.28,318.56" fill="#800000"/>
<polygon points="111.86,312.15 115.51,314.8 114.12,319.1 109.6,319.1 108.21,314.8" fill="#800000"/>
<polygon points="116.79,309.01 120.44,311.66 119.05,315.95 114.53,315.95 113.14,311.66" fill="#800000"/>
<polygon points="121.72,306.25 125.37,308.9 123.98,313.2 119.46,313.2 118.07,308.9" fill="#800000"/>
<polygon points="126.65,303.75 130.3,306.41 128.91,310.7 124.39,310.7 123,306.41" fill="#800000"/>
<polygon points="131.58,301.45 135.23,304.1 133.84,308.39 129.32,308.39 127.93,304.1" fill="#800000"/>
<polygon points="136.51,299.28 140.16,301.93 138.77,306.22 134.25,306.22 132.86,301.93" fill="#800000"/>
<polygon points="141.44,297.23 145.09,299.88 143.7,304.18 139.18,304.18 137.79,299.88" fill="#800000"/>
<polygon points="146.37,295.28 150.02,297.94 148.63,302.23 144.11,302.23 142.72,297.94" fill="#800000"/>
<polygon points="151.3,293.43 154.95,296.08 153.56,300.38 149.04,300.38 147.65,296.08" fill="#800000"/>
<polygon points="156.23,291.67 159.88,294.32 158.49,298.61 153.97,298.61 152.58,294.32" fill="#800000"/>
<polygon points="161.16,289.99 164.81,292.65 163.42,296.94 158.9,296.94 157.51,292.65" fill="#800000"/>
<polygon points="166.09,288.4 169.74,291.06 168.35,295.35 163.83,295.35 162.44,291.06" fill="#800000"/>
<polygon points="171.02,286.9 174.67,289.55 173.28,293.84 168.76,293.84 167.37,289.55" fill="#800000"/>
<polygon points="175.95,285.47 179.6,288.13 178.21,292.42 173.69,292.42 172.3,288.13" fill="#800000"/>
<polygon points="180.88,284.13 184.53,286.79 183.14,291.08 178.62,291.08 177.23,286.79" fill="#800000"/>
<polygon points="185.81,282.88 189.46,285.53 188.07,289.82 183.55,289.82 182.16,285.53" fill="#800000"/>
<polygon points="190.74,281.7 194.39,284.36 193,288.65 188.48,288.65 187.09,284.36" fill="#800000"/>
<polygon points="195.67,280.61 199.32,283.27 197.93,287.56 193.41,287.56 192.02,283.27" fill="#800000"/>
<polygon points="200.6,279.61 204.25,282.26 202.86,286.55 198.34,286.55 196.95,282.26" fill="#800000"/>
<polygon points="205.53,278.68 209.18,281.34 207.79,285.63 203.27,285.63 201.88,281.34" fill="#800000"/>
<polygon points="210.46,277.84 214.11,280.49 212.72,284.79 208.2,284.79 206.81,280.49" fill="#800000"/>
<polygon points="215.39,277.1 219.04,279.76 217.65,284.05 213.13,284.05 211.74,279.76" fill="#800000"/>
<polygon points="220.32,276.48 223.97,279.13 222.58,283.42 218.06,283.42 216.67,279.13" fill="#800000"/>
<polygon points="225.25,275.95 228.9,278.6 227.51,282.89 222.99,282.89 221.6,278.6" fill="#800000"/>
<polygon points="230.18,275.49 233.83,278.15 232.44,282.44 227.92,282.44 226.53,278.15" fill="#800000"/>
<polygon points="235.11,275.11 238.76,277.76 237.37,282.06 232.85,282.06 231.46,277.76" fill="#800000"/>
<polygon points="240.04,274.78 243.69,277.44 242.3,281.73 237.78,281.73 236.39,277.44" fill="#800000"/>
<polygon points="244.97,274.51 248.62,277.16 247.23,281.45 242.71,281.45 241.32,277.16" fill="#800000"/>
<polygon points="249.9,274.27 253.55,276.92 252.16,281.22 247.64,281.22 246.25,276.92" fill="#800000"/>
<polygon points="254.83,274.07 258.48,276.72 257.09,281.02 252.57,281.02 251.18,276.72" fill="#800000"/>
<polygon points="259.76,273.9 263.41,276.55 262.02,280.85 257.5,280.85 256.11,276.55" fill="#800000"/>
<polygon points="264.69,273.75 268.34,276.41 266.95,280.7 262.43,280.7 261.04,276.41" fill="#800000"/>
<polygon points="269.62,273.63 273.27,276.28 271.88,280.58 267.36,280.58 265.97,276.28" fill="#800000"/>
<polygon points="274.55,273.53 278.2,276.18 276.81,280.47 272.29,280.47 270.9,276.18" fill="#800000"/>
<polygon points="279.48,273.44 283.13,276.09 281.74,280.38 277.22,280.38 275.83,276.09" fill="#800000"/>
<polygon points="284.41,273.36 288.06,276.02 286.67,280.31 282.15,280.31 280.76,276.02" fill="#800000"/>
<polygon points="289.34,273.3 292.99,275.95 291.6,280.24 287.08,280.24 285.69,275.95" fill="#800000"/>
<polygon points="294.27,273.24 297.92,275.9 296.53,280.19 292.01,280.19 290.62,275.9" fill="#800000"/>
<polygon points="299.2,273.2 302.85,275.85 301.46,280.14 296.94,280.14 295.55,275.85" fill="#800000"/>
<polygon points="304.13,273.16 307.78,275.81 306.39,280.1 301.87,280.1 300.48,275.81" fill="#800000"/>
<polygon points="309.06,273.12 312.71,275.78 311.32,280.07 306.8,280.07 305.41,275.78" fill="#800000"/>
<polygon points="313.99,273.1 317.64,275.75 316.25,280.04 311.73,280.04 310.34,275.75" fill="#800000"/>
<polygon points="318.92,273.07 322.57,275.72 321.18,280.02 316.66,280.02 315.27,275.72" fill="#800000"/>
<polygon points="323.85,273.05 327.5,275.7 326.11,280 321.59,280 320.2,275.7" fill="#800000"/>
<polygon points="328.78,273.03 332.43,275.69 331.04,279.98 326.52,279.98 325.13,275.69" fill="#800000"/>
<polygon points="333.71,273.02 337.36,275.67 335.97,279.97 331.45,279.97 330.06,275.67" fill="#800000"/>
<polygon points="338.64,273.01 342.29,275.66 340.9,279.95 336.38,279.95 334.99,275.66" fill="#800000"/>
<polygon points="343.57,273 347.22,275.65 345.83,279.94 341.31,279.94 339.92,275.65" fill="#800000"/>
<polygon points="348.5,272.99 352.15,275.64 350.76,279.93 346.24,279.93 344.85,275.64" fill="#800000"/>
<polygon points="353.43,272.98 357.08,275.63 355.69,279.93 351.17,279.93 349.78,275.63" fill="#800000"/>
<polygon points="358.36,272.97 362.01,275.63 360.62,279.92 356.1,279.92 354.71,275.63" fill="#800000"/>
<polygon points="363.29,272.97 366.94,275.62 365.55,279.91 361.03,279.91 359.64,275.62" fill="#800000"/>
<polygon points="368.22,272.96 371.87,275.61 370.48,279.91 365.96,279.91 364.57,275.61" fill="#800000"/>
<polygon points="373.15,272.96 376.8,275.61 375.41,279.9 370.89,279.9 369.5,275.61" fill="#800000"/>
<polygon points="378.08,272.95 381.73,275.61 380.34,279.9 375.82,279.9 374.43,275.61" fill="#800000"/>
<polygon points="383.01,272.95 386.66,275.6 385.27,279.9 380.75,279.9 379.36,275.6" fill="#800000"/>
<polygon points="387.94,272.95 391.59,275.6 390.2,279.9 385.68,279.9 384.29,275.6" fill="#800000"/>
<polygon points="392.87,272.95 396.52,275.6 395.13,279.89 390.61,279.89 389.22,275.6" fill="#800000"/>
<polygon points="397.8,272.94 401.45,275.6 400.06,279.89 395.54,279.89 394.15,275.6" fill="#800000"/>
</g>
<g>
<polygon points="105.6,324.2 103.8,327.32 100.2,327.32 98.4,324.2 100.2,321.08 103.8,321.08" fill="#ff0080"/>
<polygon points="110.53,321.03 108.73,324.15 105.13,324.15 103.33,321.03 105.13,317.91 108.73,317.91" fill="#ff0080"/>
<polygon points="115.46,318.65 113.66,321.76 110.06,321.76 108.26,318.65 110.06,315.53 113.66,315.53" fill="#ff0080"/>
<polygon points="120.39,316.69 118.59,319.8 114.99,319.8 113.19,316.69 114.99,313.57 118.59,313.57" fill="#ff0080"/>
<polygon points="125.32,314.97 123.52,318.09 119.92,318.09 118.12,314.97 119.92,311.85 123.52,311.85" fill="#ff0080"/>
<polygon points="130.25,313.42 128.45,316.53 124.85,316.53 123.05,313.42 124.85,310.3 128.45,310.3" fill="#ff0080"/>
<polygon points="135.18,311.98 133.38,315.09 129.78,315.09 127.98,311.98 129.78,308.86 133.38,308.86" fill="#ff0080"/>
<polygon points="140.11,310.63 138.31,313.75 134.71,313.75 132.91,310.63 134.71,307.51 138.31,307.51" fill="#ff0080"/>
<polygon points="145.04,309.37 143.24,312.49 139.64,312.49 137.84,309.37 139.64,306.25 143.24,306.25" fill="#ff0080"/>
<polygon points="149.97,308.19 148.17,311.31 144.57,311.31 142.77,308.19 144.57,305.07 148.17,305.07" fill="#ff0080"/>
<polygon points="154.9,307.09 153.1,310.21 149.5,310.21 147.7,307.09 149.5,303.97 153.1,303.97" fill="#ff0080"/>
<polygon points="159.83,306.07 158.03,309.18 154.43,309.18 152.63,306.07 154.43,302.95 158.03,302.95" fill="#ff0080"/>
<polygon points="164.76,305.12 162.96,308.24 159.36,308.24 157.56,305.12 159.36,302 162.96,302" fill="#ff0080"/>
<polygon points="169.69,304.25 167.89,307.36 164.29,307.36 162.49,304.25 164.29,301.13 167.89,301.13" fill="#ff0080"/>
<polygon points="174.62,303.45 172.82,306.57 169.22,306.57 167.42,303.45 169.22,300.33 172.82,300.33" fill="#ff0080"/>
<polygon points="179.55,302.73 177.75,305.85 174.15,305.85 172.35,302.73 174.15,299.61 177.75,299.61" fill="#ff0080"/>
<polygon points="184.48,302.08 182.68,305.2 179.08,305.2 177.28,302.08 179.08,298.97 182.68,298.97" fill="#ff0080"/>
<polygon points="189.41,301.52 187.61,304.63 184.01,304.63 182.21,301.52 184.01,298.4 187.61,298.4" fill="#ff0080"/>
<polygon points="194.34,301.05 192.54,304.17 188.94,304.17 187.14,301.05 188.94,297.93 192.54,297.93" fill="#ff0080"/>
<polygon points="199.27,300.67 197.47,303.79 193.87,303.79 192.07,300.67 193.87,297.56 197.47,297.56" fill="#ff0080"/>
<polygon points="204.2,300.37 202.4,303.49 198.8,303.49 197,300.37 198.8,297.25 202.4,297.25" fill="#ff0080"/>
<polygon points="209.13,300.13 207.33,303.24 203.73,303.24 201.93,300.13 203.73,297.01 207.33,297.01" fill="#ff0080"/>
<polygon points="214.06,299.93 212.26,303.05 208.66,303.05 206.86,299.93 208.66,296.81 212.26,296.81" fill="#ff0080"/>
<polygon points="218.99,299.77 217.19,302.89 213.59,302.89 211.79,299.77 213.59,296.65 217.19,296.65" fill="#ff0080"/>
<polygon points="223.92,299.64 222.12,302.76 218.52,302.76 216.72,299.64 218.52,296.52 222.12,296.52" fill="#ff0080"/>
<polygon points="228.85,299.54 227.05,302.65 223.45,302.65 221.65,299.54 223.45,296.42 227.05,296.42" fill="#ff0080"/>
<polygon points="233.78,299.45 231.98,302.57 228.38,302.57 226.58,299.45 228.38,296.33 231.98,296.33" fill="#ff0080"/>
<polygon points="238.71,299.38 236.91,302.5 233.31,302.5 231.51,299.38 233.31,296.27 236.91,296.27" fill="#ff0080"/>
<polygon points="243.64,299.33 241.84,302.45 238.24,302.45 236.44,299.33 238.24,296.21 241.84,296.21" fill="#ff0080"/>
<polygon points="248.57,299.29 246.77,302.4 243.17,302.4 241.37,299.29 243.17,296.17 246.77,296.17" fill="#ff0080"/>
<polygon points="253.5,299.25 251.7,302.37 248.1,302.37 246.3,299.25 248.1,296.13 251.7,296.13" fill="#ff0080"/>
<polygon points="258.43,299.22 256.63,302.34 253.03,302.34 251.23,299.22 253.03,296.1 256.63,296.1" fill="#ff0080"/>
<polygon points="263.36,299.2 261.56,302.32 257.96,302.32 256.16,299.2 257.96,296.08 261.56,296.08" fill="#ff0080"/>
<polygon points="268.29,299.18 266.49,302.3 262.89,302.3 261.09,299.18 262.89,296.06 266.49,296.06" fill="#ff0080"/>
<polygon points="273.22,299.16 271.42,302.28 267.82,302.28 266.02,299.16 267.82,296.05 271.42,296.05" fill="#ff0080"/>
<polygon points="278.15,299.15 276.35,302.27 272.75,302.27 270.95,299.15 272.75,296.03 276.35,296.03" fill="#ff0080"/>
<polygon points="283.08,299.14 281.28,302.26 277.68,302.26 275.88,299.14 277.68,296.02 281.28,296.02" fill="#ff0080"/>
<polygon points="288.01,299.13 286.21,302.25 282.61,302.25 280.81,299.13 282.61,296.02 286.21,296.02" fill="#ff0080"/>
<polygon points="292.94,299.13 291.14,302.25 287.54,302.25 285.74,299.13 287.54,296.01 291.14,296.01" fill="#ff0080"/>
<polygon points="297.87,299.12 296.07,302.24 292.47,302.24 290.67,299.12 292.47,296 296.07,296" fill="#ff0080"/>
<polygon points="302.8,299.12 301,302.24 297.4,302.24 295.6,299.12 297.4,296 301,296" fill="#ff0080"/>
<polygon points="307.73,299.11 305.93,302.23 302.33,302.23 300.53,299.11 302.33,296 305.93,296" fill="#ff0080"/>
<polygon points="312.66,299.11 310.86,302.23 307.26,302.23 305.46,299.11 307.26,295.99 310.86,295.99" fill="#ff0080"/>
<polygon points="317.59,299.11 315.79,302.23 312.19,302.23 310.39,299.11 312.19,295.99 315.79,295.99" fill="#ff0080"/>
<polygon points="322.52,299.11 320.72,302.23 317.12,302.23 315.32,299.11 317.12,295.99 320.72,295.99" fill="#ff0080"/>
<polygon points="327.45,299.11 325.65,302.22 322.05,302.22 320.25,299.11 322.05,295.99 325.65,295.99" fill="#ff0080"/>
<polygon points="332.38,299.11 330.58,302.22 326.98,302.22 325.18,299.11 326.98,295.99 330.58,295.99" fill="#ff0080"/>
<polygon points="337.31,299.1 335.51,302.22 331.91,302.22 330.11,299.1 331.91,295.99 335.51,295.99" fill="#ff0080"/>
<polygon points="342.24,299.1 340.44,302.22 336.84,302.22 335.04,299.1 336.84,295.99 340.44,295.99" fill="#ff0080"/>
<polygon points="347.17,299.1 345.37,302.22 341.77,302.22 339.97,299.1 341.77,295.99 345.37,295.99" fill="#ff0080"/>
<polygon points="352.1,299.1 350.3,302.22 346.7,302.22 344.9,299.1 346.7,295.98 350.3,295.98" fill="#ff0080"/>
<polygon points="357.03,299.1 355.23,302.22 351.63,302.22 349.83,299.1 351.63,295.98 355.23,295.98" fill="#ff0080"/>
<polygon points="361.96,299.1 360.16,302.22 356.56,302.22 354.76,299.1 356.56,295.98 360.16,295.98" fill="#ff0080"/>
<polygon points="366.89,299.1 365.09,302.22 361.49,302.22 359.69,299.1 361.49,295.98 365.09,295.98" fill="#ff0080"/>
<polygon points="371.82,299.1 370.02,302.22 366.42,302.22 364.62,299.1 366.42,295.98 370.02,295.98" fill="#ff0080"/>
<polygon points="376.75,299.1 374.95,302.22 371.35,302.22 369.55,299.1 371.35,295.98 374.95,295.98" fill="#ff0080"/>
<polygon points="381.68,299.1 379.88,302.22 376.28,302.22 374.48,299.1 376.28,295.98 379.88,295.98" fill="#ff0080"/>
<polygon points="386.61,299.1 384.81,302.22 381.21,302.22 379.41,299.1 381.21,295.98 384.81,295.98" fill="#ff0080"/>
<polygon points="391.54,299.1 389.74,302.22 386.14,302.22 384.34,299.1 386.14,295.98 389.74,295.98" fill="#ff0080"/>
<polygon points="396.47,299.1 394.67,302.22 391.07,302.22 389.27,299.1 391.07,295.98 394.67,295.98" fill="#ff0080"/>
<polygon points="401.4,299.1 399.6,302.22 396,302.22 394.2,299.1 396,295.98 399.6,295.98" fill="#ff0080"/>
</g>
<g>
<polygon points="102,320 103.06,322.74 105.99,322.9 103.71,324.76 104.47,327.6 102,326 99.53,327.6 100.29,324.76 98.01,322.9 100.94,322.74" fill="#008000"/>
<polygon points="106.93,318.55 107.99,321.3 110.92,321.46 108.64,323.31 109.4,326.15 106.93,324.55 104.46,326.15 105.22,323.31 102.94,321.46 105.87,321.3" fill="#008000"/>
<polygon points="111.86,317.5 112.92,320.25 115.85,320.4 113.57,322.26 114.33,325.1 111.86,323.5 109.39,325.1 110.15,322.26 107.87,320.4 110.8,320.25" fill="#008000"/>
<polygon points="116.79,316.64 117.85,319.38 120.78,319.54 118.5,321.4 119.26,324.24 116.79,322.64 114.32,324.24 115.08,321.4 112.8,319.54 115.73,319.38" fill="#008000"/>
<polygon points="121.72,315.89 122.78,318.63 125.71,318.79 123.43,320.64 124.19,323.49 121.72,321.89 119.25,323.49 120.01,320.64 117.73,318.79 120.66,318.63" fill="#008000"/>
<polygon points="126.65,315.2 127.71,317.95 130.64,318.1 128.36,319.96 129.12,322.8 126.65,321.2 124.18,322.8 124.94,319.96 122.66,318.1 125.59,317.95" fill="#008000"/>
<polygon points="131.58,314.57 132.64,317.32 135.57,317.47 133.29,319.33 134.05,322.17 131.58,320.57 129.11,322.17 129.87,319.33 127.59,317.47 130.52,317.32" fill="#008000"/>
<polygon points="136.51,313.99 137.57,316.73 140.5,316.89 138.22,318.74 138.98,321.59 136.51,319.99 134.04,321.59 134.8,318.74 132.52,316.89 135.45,316.73" fill="#008000"/>
<polygon points="141.44,313.45 142.5,316.19 145.43,316.35 143.15,318.2 143.91,321.05 141.44,319.45 138.97,321.05 139.73,318.2 137.45,316.35 140.38,316.19" fill="#008000"/>
<polygon points="146.37,312.95 147.43,315.69 150.36,315.85 148.08,317.71 148.84,320.55 146.37,318.95 143.9,320.55 144.66,317.71 142.38,315.85 145.31,315.69" fill="#008000"/>
<polygon points="151.3,312.49 152.36,315.24 155.29,315.4 153.01,317.25 153.77,320.09 151.3,318.49 148.83,320.09 149.59,317.25 147.31,315.4 150.24,315.24" fill="#008000"/>
<polygon points="156.23,312.08 157.29,314.82 160.22,314.98 157.94,316.84 158.7,319.68 156.23,318.08 153.76,319.68 154.52,316.84 152.24,314.98 155.17,314.82" fill="#008000"/>
<polygon points="161.16,311.71 162.22,314.45 165.15,314.61 162.87,316.46 163.63,319.31 161.16,317.71 158.69,319.31 159.45,316.46 157.17,314.61 160.1,314.45" fill="#008000"/>
<polygon points="166.09,311.38 167.15,314.12 170.08,314.28 167.8,316.13 168.56,318.97 166.09,317.38 163.62,318.97 164.38,316.13 162.1,314.28 165.03,314.12" fill="#008000"/>
<polygon points="171.02,311.09 172.08,313.83 175.01,313.99 172.73,315.84 173.49,318.69 171.02,317.09 168.55,318.69 169.31,315.84 167.03,313.99 169.96,313.83" fill="#008000"/>
<polygon points="175.95,310.85 177.01,313.59 179.94,313.75 177.66,315.6 178.42,318.44 175.95,316.85 173.48,318.44 174.24,315.6 171.96,313.75 174.89,313.59" fill="#008000"/>
<polygon points="180.88,310.66 181.94,313.4 184.87,313.56 182.59,315.41 183.35,318.26 180.88,316.66 178.41,318.26 179.17,315.41 176.89,313.56 179.82,313.4" fill="#008000"/>
<polygon points="185.81,310.51 186.87,313.26 189.8,313.41 187.52,315.27 188.28,318.11 185.81,316.51 183.34,318.11 184.1,315.27 181.82,313.41 184.75,313.26" fill="#008000"/>
<polygon points="190.74,310.4 191.8,313.14 194.73,313.3 192.45,315.15 193.21,318 190.74,316.4 188.27,318 189.03,315.15 186.75,313.3 189.68,313.14" fill="#008000"/>
<polygon points="195.67,310.31 196.73,313.05 199.66,313.21 197.38,315.07 198.14,317.91 195.67,316.31 193.2,317.91 193.96,315.07 191.68,313.21 194.61,313.05" fill="#008000"/>
<polygon points="200.6,310.24 201.66,312.98 204.59,313.14 202.31,315 203.07,317.84 200.6,316.24 198.13,317.84 198.89,315 196.61,313.14 199.54,312.98" fill="#008000"/>
<polygon points="205.53,310.19 206.59,312.93 209.52,313.09 207.24,314.94 208,317.79 205.53,316.19 203.06,317.79 203.82,314.94 201.54,313.09 204.47,312.93" fill="#008000"/>
<polygon points="210.46,310.15 211.52,312.89 214.45,313.05 212.17,314.9 212.93,317.74 210.46,316.15 207.99,317.74 208.75,314.9 206.47,313.05 209.4,312.89" fill="#008000"/>
<polygon points="215.39,310.11 216.45,312.86 219.38,313.02 217.1,314.87 217.86,317.71 215.39,316.11 212.92,317.71 213.68,314.87 211.4,313.02 214.33,312.86" fill="#008000"/>
<polygon points="220.32,310.09 221.38,312.83 224.31,312.99 222.03,314.84 222.79,317.69 220.32,316.09 217.85,317.69 218.61,314.84 216.33,312.99 219.26,312.83" fill="#008000"/>
<polygon points="225.25,310.07 226.31,312.81 229.24,312.97 226.96,314.83 227.72,317.67 225.25,316.07 222.78,317.67 223.54,314.83 221.26,312.97 224.19,312.81" fill="#008000"/>
<polygon points="230.18,310.05 231.24,312.8 234.17,312.96 231.89,314.81 232.65,317.65 230.18,316.05 227.71,317.65 228.47,314.81 226.19,312.96 229.12,312.8" fill="#008000"/>
<polygon points="235.11,310.04 236.17,312.79 239.1,312.94 236.82,314.8 237.58,317.64 235.11,316.04 232.64,317.64 233.4,314.8 231.12,312.94 234.05,312.79" fill="#008000"/>
<polygon points="240.04,310.03 241.1,312.78 244.03,312.93 241.75,314.79 242.51,317.63 240.04,316.03 237.57,317.63 238.33,314.79 236.05,312.93 238.98,312.78" fill="#008000"/>
<polygon points="244.97,310.03 246.03,312.77 248.96,312.93 246.68,314.78 247.44,317.62 244.97,316.03 242.5,317.62 243.26,314.78 240.98,312.93 243.91,312.77" fill="#008000"/>
<polygon points="249.9,310.02 250.96,312.76 253.89,312.92 251.61,314.78 252.37,317.62 249.9,316.02 247.43,317.62 248.19,314.78 245.91,312.92 248.84,312.76" fill="#008000"/>
<polygon points="254.83,310.02 255.89,312.76 258.82,312.92 256.54,314.77 257.3,317.61 254.83,316.02 252.36,317.61 253.12,314.77 250.84,312.92 253.77,312.76" fill="#008000"/>
<polygon points="259.76,310.01 260.82,312.76 263.75,312.91 261.47,314.77 262.23,317.61 259.76,316.01 257.29,317.61 258.05,314.77 255.77,312.91 258.7,312.76" fill="#008000"/>
<polygon points="264.69,310.01 265.75,312.75 268.68,312.91 266.4,314.77 267.16,317.61 264.69,316.01 262.22,317.61 262.98,314.77 260.7,312.91 263.63,312.75" fill="#008000"/>
<polygon points="269.62,310.01 270.68,312.75 273.61,312.91 271.33,314.76 272.09,317.61 269.62,316.01 267.15,317.61 267.91,314.76 265.63,312.91 268.56,312.75" fill="#008000"/>
<polygon points="274.55,310.01 275.61,312.75 278.54,312.91 276.26,314.76 277.02,317.6 274.55,316.01 272.08,317.6 272.84,314.76 270.56,312.91 273.49,312.75" fill="#008000"/>
<polygon points="279.48,310 280.54,312.75 283.47,312.91 281.19,314.76 281.95,317.6 279.48,316 277.01,317.6 277.77,314.76 275.49,312.91 278.42,312.75" fill="#008000"/>
<polygon points="284.41,310 285.47,312.75 288.4,312.91 286.12,314.76 286.88,317.6 284.41,316 281.94,317.6 282.7,314.76 280.42,312.91 283.35,312.75" fill="#008000"/>
<polygon points="289.34,310 290.4,312.75 293.33,312.91 291.05,314.76 291.81,317.6 289.34,316 286.87,317.6 287.63,314.76 285.35,312.91 288.28,312.75" fill="#008000"/>
<polygon points="294.27,310 295.33,312.75 298.26,312.9 295.98,314.76 296.74,317.6 294.27,316 291.8,317.6 292.56,314.76 290.28,312.9 293.21,312.75" fill="#008000"/>
<polygon points="299.2,310 300.26,312.75 303.19,312.9 300.91,314.76 301.67,317.6 299.2,316 296.73,317.6 297.49,314.76 295.21,312.9 298.14,312.75" fill="#008000"/>
<polygon points="304.13,310 305.19,312.75 308.12,312.9 305.84,314.76 306.6,317.6 304.13,316 301.66,317.6 302.42,314.76 300.14,312.9 303.07,312.75" fill="#008000"/>
<polygon points="309.06,310 310.12,312.75 313.05,312.9 310.77,314.76 311.53,317.6 309.06,316 306.59,317.6 307.35,314.76 305.07,312.9 308,312.75" fill="#008000"/>
<polygon points="313.99,310 315.05,312.75 317.98,312.9 315.7,314.76 316.46,317.6 313.99,316 311.52,317.6 312.28,314.76 310,312.9 312.93,312.75" fill="#008000"/>
<polygon points="318.92,310 319.98,312.74 322.91,312.9 320.63,314.76 321.39,317.6 318.92,316 316.45,317.6 317.21,314.76 314.93,312.9 317.86,312.74" fill="#008000"/>
<polygon points="323.85,310 324.91,312.74 327.84,312.9 325.56,314.76 326.32,317.6 323.85,316 321.38,317.6 322.14,314.76 319.86,312.9 322.79,312.74" fill="#008000"/>
<polygon points="328.78,310 329.84,312.74 332.77,312.9 330.49,314.76 331.25,317.6 328.78,316 326.31,317.6 327.07,314.76 324.79,312.9 327.72,312.74" fill="#008000"/>
<polygon points="333.71,310 334.77,312.74 337.7,312.9 335.42,314.76 336.18,317.6 333.71,316 331.24,317.6 332,314.76 329.72,312.9 332.65,312.74" fill="#008000"/>
<polygon points="338.64,310 339.7,312.74 342.63,312.9 340.35,314.76 341.11,317.6 338.64,316 336.17,317.6 336.93,314.76 334.65,312.9 337.58,312.74" fill="#008000"/>
<polygon points="343.57,310 344.63,312.74 347.56,312.9 345.28,314.76 346.04,317.6 343.57,316 341.1,317.6 341.86,314.76 339.58,312.9 342.51,312.74" fill="#008000"/>
<polygon points="348.5,310 349.56,312.74 352.49,312.9 350.21,314.76 350.97,317.6 348.5,316 346.03,317.6 346.79,314.76 344.51,312.9 347.44,312.74" fill="#008000"/>
<polygon points="353.43,310 354.49,312.74 357.42,312.9 355.14,314.76 355.9,317.6 353.43,316 350.96,317.6 351.72,314.76 349.44,312.9 352.37,312.74" fill="#008000"/>
<polygon points="358.36,310 359.42,312.74 362.35,312.9 360.07,314.76 360.83,317.6 358.36,316 355.89,317.6 356.65,314.76 354.37,312.9 357.3,312.74" fill="#008000"/>
<polygon points="363.29,310 364.35,312.74 367.28,312.9 365,314.76 365.76,317.6 363.29,316 360.82,317.6 361.58,314.76 359.3,312.9 362.23,312.74" fill="#008000"/>
<polygon points="368.22,310 369.28,312.74 372.21,312.9 369.93,314.76 370.69,317.6 368.22,316 365.75,317.6 366.51,314.76 364.23,312.9 367.16,312.74" fill="#008000"/>
<polygon points="373.15,310 374.21,312.74 377.14,312.9 374.86,314.76 375.62,317.6 373.15,316 370.68,317.6 371.44,314.76 369.16,312.9 372.09,312.74" fill="#008000"/>
<polygon points="378.08,310 379.14,312.74 382.07,312.9 379.79,314.76 380.55,317.6 378.08,316 375.61,317.6 376.37,314.76 374.09,312.9 377.02,312.74" fill="#008000"/>
<polygon points="383.01,310 384.07,312.74 387,312.9 384.72,314.76 385.48,317.6 383.01,316 380.54,317.6 381.3,314.76 379.02,312.9 381.95,312.74" fill="#008000"/>
<polygon points="387.94,310 389,312.74 391.93,312.9 389.65,314.76 390.41,317.6 387.94,316 385.47,317.6 386.23,314.76 383.95,312.9 386.88,312.74" fill="#008000"/>
<polygon points="392.87,310 393.93,312.74 396.86,312.9 394.58,314.76 395.34,317.6 392.87,316 390.4,317.6 391.16,314.76 388.88,312.9 391.81,312.74" fill="#008000"/>
<polygon points="397.8,310 398.86,312.74 401.79,312.9 399.51,314.76 400.27,317.6 397.8,316 395.33,317.6 396.09,314.76 393.81,312.9 396.74,312.74" fill="#008000"/>
</g>
<g>
<circle cx="102" cy="324.2" r="2.2" fill="#4b3fae"/>
<circle cx="106.93" cy="323.53" r="2.2" fill="#4b3fae"/>
<circle cx="111.86" cy="323.06" r="2.2" fill="#4b3fae"/>
<circle cx="116.79" cy="322.67" r="2.2" fill="#4b3fae"/>
<circle cx="121.72" cy="322.33" r="2.2" fill="#4b3fae"/>
<circle cx="126.65" cy="322.03" r="2.2" fill="#4b3fae"/>
<circle cx="131.58" cy="321.75" r="2.2" fill="#4b3fae"/>
<circle cx="136.51" cy="321.5" r="2.2" fill="#4b3fae"/>
<circle cx="141.44" cy="321.27" r="2.2" fill="#4b3fae"/>
<circle cx="146.37" cy="321.06" r="2.2" fill="#4b3fae"/>
<circle cx="151.3" cy="320.88" r="2.2" fill="#4b3fae"/>
<circle cx="156.23" cy="320.72" r="2.2" fill="#4b3fae"/>
<circle cx="161.16" cy="320.58" r="2.2" fill="#4b3fae"/>
<circle cx="166.09" cy="320.48" r="2.2" fill="#4b3fae"/>
<circle cx="171.02" cy="320.4" r="2.2" fill="#4b3fae"/>
<circle cx="175.95" cy="320.34" r="2.2" fill="#4b3fae"/>
<circle cx="180.88" cy="320.3" r="2.2" fill="#4b3fae"/>
<circle cx="185.81" cy="320.27" r="2.2" fill="#4b3fae"/>
<circle cx="190.74" cy="320.24" r="2.2" fill="#4b3fae"/>
<circle cx="195.67" cy="320.22" r="2.2" fill="#4b3fae"/>
<circle cx="200.6" cy="320.21" r="2.2" fill="#4b3fae"/>
<circle cx="205.53" cy="320.2" r="2.2" fill="#4b3fae"/>
<circle cx="210.46" cy="320.19" r="2.2" fill="#4b3fae"/>
<circle cx="215.39" cy="320.19" r="2.2" fill="#4b3fae"/>
<circle cx="220.32" cy="320.18" r="2.2" fill="#4b3fae"/>
<circle cx="225.25" cy="320.18" r="2.2" fill="#4b3fae"/>
<circle cx="230.18" cy="320.18" r="2.2" fill="#4b3fae"/>
<circle cx="235.11" cy="320.18" r="2.2" fill="#4b3fae"/>
<circle cx="240.04" cy="320.18" r="2.2" fill="#4b3fae"/>
<circle cx="244.97" cy="320.18" r="2.2" fill="#4b3fae"/>
<circle cx="249.9" cy="320.18" r="2.2" fill="#4b3fae"/>
<circle cx="254.83" cy="320.17" r="2.2" fill="#4b3fae"/>
<circle cx="259.76" cy="320.17" r="2.2" fill="#4b3fae"/>
<circle cx="264.69" cy="320.17" r="2.2" fill="#4b3fae"/>
<circle cx="269.62" cy="320.17" r="2.2" fill="#4b3fae"/>
<circle cx="274.55" cy="320.17" r="2.2" fill="#4b3fae"/>
<circle cx="279.48" cy="320.17" r="2.2" fill="#4b3fae"/>
<circle cx="284.41" cy="320.17" r="2.2" fill="#4b3fae"/>
<circle cx="289.34" cy="320.17" r="2.2" fill="#4b3fae"/>
<circle cx="294.27" cy="320.17" r="2.2" fill="#4b3fae"/>
<circle cx="299.2" cy="320.17" r="2.2" fill="#4b3fae"/>
<circle cx="304.13" cy="320.17" r="2.2" fill="#4b3fae"/>
<circle cx="309.06" cy="320.17" r="2.2" fill="#4b3fae"/>
<circle cx="313.99" cy="320.17" r="2.2" fill="#4b3fae"/>
<circle cx="318.92" cy="320.17" r="2.2" fill="#4b3fae"/>
<circle cx="323.85" cy="320.17" r="2.2" fill="#4b3fae"/>
<circle cx="328.78" cy="320.17" r="2.2" fill="#4b3fae"/>
<circle cx="333.71" cy="320.17" r="2.2" fill="#4b3fae"/>
<circle cx="338.64" cy="320.17" r="2.2" fill="#4b3fae"/>
<circle cx="343.57" cy="320.17" r="2.2" fill="#4b3fae"/>
<circle cx="348.5" cy="320.17" r="2.2" fill="#4b3fae"/>
<circle cx="353.43" cy="320.17" r="2.2" fill="#4b3fae"/>
<circle cx="358.36" cy="320.17" r="2.2" fill="#4b3fae"/>
<circle cx="363.29" cy="320.17" r="2.2" fill="#4b3fae"/>
<circle cx="368.22" cy="320.17" r="2.2" fill="#4b3fae"/>
<circle cx="373.15" cy="320.17" r="2.2" fill="#4b3fae"/>
<circle cx="378.08" cy="320.17" r="2.2" fill="#4b3fae"/>
<circle cx="383.01" cy="320.17" r="2.2" fill="#4b3fae"/>
<circle cx="387.94" cy="320.17" r="2.2" fill="#4b3fae"/>
<circle cx="392.87" cy="320.17" r="2.2" fill="#4b3fae"/>
<circle cx="397.8" cy="320.17" r="2.2" fill="#4b3fae"/>
</g>
<g>
<rect x="99.1" y="321.3" width="5.8" height="5.8" fill="#ff8000"/>
<rect x="104.03" y="321.26" width="5.8" height="5.8" fill="#ff8000"/>
<rect x="108.96" y="321.24" width="5.8" height="5.8" fill="#ff8000"/>
<rect x="113.89" y="321.22" width="5.8" height="5.8" fill="#ff8000"/>
<rect x="118.82" y="321.2" width="5.8" height="5.8" fill="#ff8000"/>
<rect x="123.75" y="321.18" width="5.8" height="5.8" fill="#ff8000"/>
<rect x="128.68" y="321.17" width="5.8" height="5.8" fill="#ff8000"/>
<rect x="133.61" y="321.15" width="5.8" height="5.8" fill="#ff8000"/>
<rect x="138.54" y="321.14" width="5.8" height="5.8" fill="#ff8000"/>
<rect x="143.47" y="321.13" width="5.8" height="5.8" fill="#ff8000"/>
<rect x="148.4" y="321.12" width="5.8" height="5.8" fill="#ff8000"/>
<rect x="153.33" y="321.12" width="5.8" height="5.8" fill="#ff8000"/>
<rect x="158.26" y="321.11" width="5.8" height="5.8" fill="#ff8000"/>
<rect x="163.19" y="321.11" width="5.8" height="5.8" fill="#ff8000"/>
<rect x="168.12" y="321.1" width="5.8" height="5.8" fill="#ff8000"/>
<rect x="173.05" y="321.1" width="5.8" height="5.8" fill="#ff8000"/>
<rect x="177.98" y="321.1" width="5.8" height="5.8" fill="#ff8000"/>
<rect x="182.91" y="321.1" width="5.8" height="5.8" fill="#ff8000"/>
<rect x="187.84" y="321.1" width="5.8" height="5.8" fill="#ff8000"/>
<rect x="192.77" y="321.1" width="5.8" height="5.8" fill="#ff8000"/>
<rect x="197.7" y="321.1" width="5.8" height="5.8" fill="#ff8000"/>
<rect x="202.63" y="321.1" width="5.8" height="5.8" fill="#ff8000"/>
<rect x="207.56" y="321.1" width="5.8" height="5.8" fill="#ff8000"/>
<rect x="212.49" y="321.1" width="5.8" height="5.8" fill="#ff8000"/>
<rect x="217.42" y="321.1" width="5.8" height="5.8" fill="#ff8000"/>
<rect x="222.35" y="321.1" width="5.8" height="5.8" fill="#ff8000"/>
<rect x="227.28" y="321.1" width="5.8" height="5.8" fill="#ff8000"/>
<rect x="232.21" y="321.1" width="5.8" height="5.8" fill="#ff8000"/>
<rect x="237.14" y="321.1" width="5.8" height="5.8" fill="#ff8000"/>
<rect x="242.07" y="321.1" width="5.8" height="5.8" fill="#ff8000"/>
<rect x="247" y="321.1" width="5.8" height="5.8" fill="#ff8000"/>
<rect x="251.93" y="321.1" width="5.8" height="5.8" fill="#ff8000"/>
<rect x="256.86" y="321.1" width="5.8" height="5.8" fill="#ff8000"/>
<rect x="261.79" y="321.1" width="5.8" height="5.8" fill="#ff8000"/>
<rect x="266.72" y="321.1" width="5.8" height="5.8" fill="#ff8000"/>
<rect x="271.65" y="321.1" width="5.8" height="5.8" fill="#ff8000"/>
<rect x="276.58" y="321.1" width="5.8" height="5.8" fill="#ff8000"/>
<rect x="281.51" y="321.1" width="5.8" height="5.8" fill="#ff8000"/>
<rect x="286.44" y="321.1" width="5.8" height="5.8" fill="#ff8000"/>
<rect x="291.37" y="321.1" width="5.8" height="5.8" fill="#ff8000"/>
<rect x="296.3" y="321.1" width="5.8" height="5.8" fill="#ff8000"/>
<rect x="301.23" y="321.1" width="5.8" height="5.8" fill="#ff8000"/>
<rect x="306.16" y="321.1" width="5.8" height="5.8" fill="#ff8000"/>
<rect x="311.09" y="321.1" width="5.8" height="5.8" fill="#ff8000"/>
<rect x="316.02" y="321.1" width="5.8" height="5.8" fill="#ff8000"/>
<rect x="320.95" y="321.1" width="5.8" height="5.8" fill="#ff8000"/>
<rect x="325.88" y="321.1" width="5.8" height="5.8" fill="#ff8000"/>
<rect x="330.81" y="321.1" width="5.8" height="5.8" fill="#ff8000"/>
<rect x="335.74" y="321.1" width="5.8" height="5.8" fill="#ff8000"/>
<rect x="340.67" y="321.1" width="5.8" height="5.8" fill="#ff8000"/>
<rect x="345.6" y="321.1" width="5.8" height="5.8" fill="#ff8000"/>
<rect x="350.53" y="321.1" width="5.8" height="5.8" fill="#ff8000"/>
<rect x="355.46" y="321.1" width="5.8" height="5.8" fill="#ff8000"/>
<rect x="360.39" y="321.1" width="5.8" height="5.8" fill="#ff8000"/>
<rect x="365.32" y="321.1" width="5.8" height="5.8" fill="#ff8000"/>
<rect x="370.25" y="321.1" width="5.8" height="5.8" fill="#ff8000"/>
<rect x="375.18" y="321.1" width="5.8" height="5.8" fill="#ff8000"/>
<rect x="380.11" y="321.1" width="5.8" height="5.8" fill="#ff8000"/>
<rect x="385.04" y="321.1" width="5.8" height="5.8" fill="#ff8000"/>
<rect x="389.97" y="321.1" width="5.8" height="5.8" fill="#ff8000"/>
<rect x="394.9" y="321.1" width="5.8" height="5.8" fill="#ff8000"/>
</g>
<path d="M83.12,529.39 L83.12,785.37 L411.77,785.37" fill="none" stroke="#000" stroke-width="1.6" stroke-linecap="square"/>
<line x1="78.12" y1="768.3" x2="83.12" y2="768.3" stroke="#000" stroke-width="1.6" />
<text x="73.92" y="773.3" font-family="'Liberation Sans', sans-serif" font-size="18.3" font-weight="bold" fill="#000" text-anchor="end" >0</text>
<line x1="78.12" y1="734.17" x2="83.12" y2="734.17" stroke="#000" stroke-width="1.6" />
<text x="73.92" y="739.17" font-family="'Liberation Sans', sans-serif" font-size="18.3" font-weight="bold" fill="#000" text-anchor="end" >-50</text>
<line x1="78.12" y1="700.04" x2="83.12" y2="700.04" stroke="#000" stroke-width="1.6" />
<text x="73.92" y="705.04" font-family="'Liberation Sans', sans-serif" font-size="18.3" font-weight="bold" fill="#000" text-anchor="end" >-100</text>
<line x1="78.12" y1="665.91" x2="83.12" y2="665.91" stroke="#000" stroke-width="1.6" />
<text x="73.92" y="670.91" font-family="'Liberation Sans', sans-serif" font-size="18.3" font-weight="bold" fill="#000" text-anchor="end" >-150</text>
<line x1="78.12" y1="631.78" x2="83.12" y2="631.78" stroke="#000" stroke-width="1.6" />
<text x="73.92" y="636.78" font-family="'Liberation Sans', sans-serif" font-size="18.3" font-weight="bold" fill="#000" text-anchor="end" >-200</text>
<line x1="78.12" y1="597.65" x2="83.12" y2="597.65" stroke="#000" stroke-width="1.6" />
<text x="73.92" y="602.65" font-family="'Liberation Sans', sans-serif" font-size="18.3" font-weight="bold" fill="#000" text-anchor="end" >-250</text>
<line x1="78.12" y1="563.52" x2="83.12" y2="563.52" stroke="#000" stroke-width="1.6" />
<text x="73.92" y="568.52" font-family="'Liberation Sans', sans-serif" font-size="18.3" font-weight="bold" fill="#000" text-anchor="end" >-300</text>
<line x1="78.12" y1="529.39" x2="83.12" y2="529.39" stroke="#000" stroke-width="1.6" />
<text x="73.92" y="534.39" font-family="'Liberation Sans', sans-serif" font-size="18.3" font-weight="bold" fill="#000" text-anchor="end" >-350</text>
<line x1="80.12" y1="751.23" x2="83.12" y2="751.23" stroke="#000" stroke-width="1.6" />
<line x1="80.12" y1="717.1" x2="83.12" y2="717.1" stroke="#000" stroke-width="1.6" />
<line x1="80.12" y1="682.97" x2="83.12" y2="682.97" stroke="#000" stroke-width="1.6" />
<line x1="80.12" y1="648.84" x2="83.12" y2="648.84" stroke="#000" stroke-width="1.6" />
<line x1="80.12" y1="614.71" x2="83.12" y2="614.71" stroke="#000" stroke-width="1.6" />
<line x1="80.12" y1="580.58" x2="83.12" y2="580.58" stroke="#000" stroke-width="1.6" />
<line x1="80.12" y1="546.45" x2="83.12" y2="546.45" stroke="#000" stroke-width="1.6" />
<line x1="106.6" y1="785.37" x2="106.6" y2="790.37" stroke="#000" stroke-width="1.6" />
<text x="106.6" y="808.37" font-family="'Liberation Sans', sans-serif" font-size="18.3" font-weight="bold" fill="#000" text-anchor="middle" >0</text>
<line x1="153.55" y1="785.37" x2="153.55" y2="790.37" stroke="#000" stroke-width="1.6" />
<text x="153.55" y="808.37" font-family="'Liberation Sans', sans-serif" font-size="18.3" font-weight="bold" fill="#000" text-anchor="middle" >-5</text>
<line x1="200.5" y1="785.37" x2="200.5" y2="790.37" stroke="#000" stroke-width="1.6" />
<text x="200.5" y="808.37" font-family="'Liberation Sans', sans-serif" font-size="18.3" font-weight="bold" fill="#000" text-anchor="middle" >-10</text>
<line x1="247.45" y1="785.37" x2="247.45" y2="790.37" stroke="#000" stroke-width="1.6" />
<text x="247.45" y="808.37" font-family="'Liberation Sans', sans-serif" font-size="18.3" font-weight="bold" fill="#000" text-anchor="middle" >-15</text>
<line x1="294.4" y1="785.37" x2="294.4" y2="790.37" stroke="#000" stroke-width="1.6" />
<text x="294.4" y="808.37" font-family="'Liberation Sans', sans-serif" font-size="18.3" font-weight="bold" fill="#000" text-anchor="middle" >-20</text>
<line x1="341.35" y1="785.37" x2="341.35" y2="790.37" stroke="#000" stroke-width="1.6" />
<text x="341.35" y="808.37" font-family="'Liberation Sans', sans-serif" font-size="18.3" font-weight="bold" fill="#000" text-anchor="middle" >-25</text>
<line x1="388.3" y1="785.37" x2="388.3" y2="790.37" stroke="#000" stroke-width="1.6" />
<text x="388.3" y="808.37" font-family="'Liberation Sans', sans-serif" font-size="18.3" font-weight="bold" fill="#000" text-anchor="middle" >-30</text>
<line x1="130.07" y1="785.37" x2="130.07" y2="788.37" stroke="#000" stroke-width="1.6" />
<line x1="177.03" y1="785.37" x2="177.03" y2="788.37" stroke="#000" stroke-width="1.6" />
<line x1="223.97" y1="785.37" x2="223.97" y2="788.37" stroke="#000" stroke-width="1.6" />
<line x1="270.93" y1="785.37" x2="270.93" y2="788.37" stroke="#000" stroke-width="1.6" />
<line x1="317.88" y1="785.37" x2="317.88" y2="788.37" stroke="#000" stroke-width="1.6" />
<line x1="364.83" y1="785.37" x2="364.83" y2="788.37" stroke="#000" stroke-width="1.6" />
<line x1="411.77" y1="785.37" x2="411.77" y2="788.37" stroke="#000" stroke-width="1.6" />
<g>
<rect x="103.6" y="765.3" width="6" height="6" fill="#000000"/>
<rect x="108.29" y="753.13" width="6" height="6" fill="#000000"/>
<rect x="112.99" y="742.54" width="6" height="6" fill="#000000"/>
<rect x="117.69" y="733.15" width="6" height="6" fill="#000000"/>
<rect x="122.38" y="724.7" width="6" height="6" fill="#000000"/>
<rect x="127.07" y="716.97" width="6" height="6" fill="#000000"/>
<rect x="131.77" y="709.82" width="6" height="6" fill="#000000"/>
<rect x="136.47" y="703.12" width="6" height="6" fill="#000000"/>
<rect x="141.16" y="696.79" width="6" height="6" fill="#000000"/>
<rect x="145.85" y="690.76" width="6" height="6" fill="#000000"/>
<rect x="150.55" y="684.98" width="6" height="6" fill="#000000"/>
<rect x="155.25" y="679.43" width="6" height="6" fill="#000000"/>
<rect x="159.94" y="674.06" width="6" height="6" fill="#000000"/>
<rect x="164.63" y="668.85" width="6" height="6" fill="#000000"/>
<rect x="169.33" y="663.81" width="6" height="6" fill="#000000"/>
<rect x="174.03" y="658.9" width="6" height="6" fill="#000000"/>
<rect x="178.72" y="654.12" width="6" height="6" fill="#000000"/>
<rect x="183.41" y="649.47" width="6" height="6" fill="#000000"/>
<rect x="188.11" y="644.93" width="6" height="6" fill="#000000"/>
<rect x="192.81" y="640.52" width="6" height="6" fill="#000000"/>
<rect x="197.5" y="636.22" width="6" height="6" fill="#000000"/>
<rect x="202.19" y="632.02" width="6" height="6" fill="#000000"/>
<rect x="206.89" y="627.94" width="6" height="6" fill="#000000"/>
<rect x="211.59" y="623.97" width="6" height="6" fill="#000000"/>
<rect x="216.28" y="620.1" width="6" height="6" fill="#000000"/>
<rect x="220.97" y="616.34" width="6" height="6" fill="#000000"/>
<rect x="225.67" y="612.69" width="6" height="6" fill="#000000"/>
<rect x="230.37" y="609.14" width="6" height="6" fill="#000000"/>
<rect x="235.06" y="605.7" width="6" height="6" fill="#000000"/>
<rect x="239.75" y="602.36" width="6" height="6" fill="#000000"/>
<rect x="244.45" y="599.13" width="6" height="6" fill="#000000"/>
<rect x="249.15" y="596" width="6" height="6" fill="#000000"/>
<rect x="253.84" y="592.98" width="6" height="6" fill="#000000"/>
<rect x="258.53" y="590.07" width="6" height="6" fill="#000000"/>
<rect x="263.23" y="587.25" width="6" height="6" fill="#000000"/>
<rect x="267.93" y="584.55" width="6" height="6" fill="#000000"/>
<rect x="272.62" y="581.95" width="6" height="6" fill="#000000"/>
<rect x="277.31" y="579.45" width="6" height="6" fill="#000000"/>
<rect x="282.01" y="577.06" width="6" height="6" fill="#000000"/>
<rect x="286.71" y="574.77" width="6" height="6" fill="#000000"/>
<rect x="291.4" y="572.59" width="6" height="6" fill="#000000"/>
<rect x="296.1" y="570.51" width="6" height="6" fill="#000000"/>
<rect x="300.79" y="568.54" width="6" height="6" fill="#000000"/>
<rect x="305.49" y="566.71" width="6" height="6" fill="#000000"/>
<rect x="310.18" y="565.02" width="6" height="6" fill="#000000"/>
<rect x="314.88" y="563.48" width="6" height="6" fill="#000000"/>
<rect x="319.57" y="562.06" width="6" height="6" fill="#000000"/>
<rect x="324.26" y="560.76" width="6" height="6" fill="#000000"/>
<rect x="328.96" y="559.56" width="6" height="6" fill="#000000"/>
<rect x="333.65" y="558.47" width="6" height="6" fill="#000000"/>
<rect x="338.35" y="557.46" width="6" height="6" fill="#000000"/>
<rect x="343.05" y="556.53" width="6" height="6" fill="#000000"/>
<rect x="347.74" y="555.68" width="6" height="6" fill="#000000"/>
<rect x="352.44" y="554.9" width="6" height="6" fill="#000000"/>
<rect x="357.13" y="554.19" width="6" height="6" fill="#000000"/>
<rect x="361.83" y="553.53" width="6" height="6" fill="#000000"/>
<rect x="366.52" y="552.92" width="6" height="6" fill="#000000"/>
<rect x="371.22" y="552.37" width="6" height="6" fill="#000000"/>
<rect x="375.91" y="551.86" width="6" height="6" fill="#000000"/>
<rect x="380.61" y="551.39" width="6" height="6" fill="#000000"/>
<rect x="385.3" y="550.96" width="6" height="6" fill="#000000"/>
</g>
<g>
<circle cx="106.6" cy="768.3" r="3" fill="#ff0000"/>
<circle cx="111.29" cy="757.25" r="3" fill="#ff0000"/>
<circle cx="115.99" cy="747.64" r="3" fill="#ff0000"/>
<circle cx="120.69" cy="739.15" r="3" fill="#ff0000"/>
<circle cx="125.38" cy="731.51" r="3" fill="#ff0000"/>
<circle cx="130.07" cy="724.53" r="3" fill="#ff0000"/>
<circle cx="134.77" cy="718.08" r="3" fill="#ff0000"/>
<circle cx="139.47" cy="712.03" r="3" fill="#ff0000"/>
<circle cx="144.16" cy="706.31" r="3" fill="#ff0000"/>
<circle cx="148.85" cy="700.87" r="3" fill="#ff0000"/>
<circle cx="153.55" cy="695.66" r="3" fill="#ff0000"/>
<circle cx="158.25" cy="690.64" r="3" fill="#ff0000"/>
<circle cx="162.94" cy="685.79" r="3" fill="#ff0000"/>
<circle cx="167.63" cy="681.1" r="3" fill="#ff0000"/>
<circle cx="172.33" cy="676.54" r="3" fill="#ff0000"/>
<circle cx="177.03" cy="672.11" r="3" fill="#ff0000"/>
<circle cx="181.72" cy="667.8" r="3" fill="#ff0000"/>
<circle cx="186.41" cy="663.61" r="3" fill="#ff0000"/>
<circle cx="191.11" cy="659.52" r="3" fill="#ff0000"/>
<circle cx="195.81" cy="655.54" r="3" fill="#ff0000"/>
<circle cx="200.5" cy="651.67" r="3" fill="#ff0000"/>
<circle cx="205.19" cy="647.9" r="3" fill="#ff0000"/>
<circle cx="209.89" cy="644.23" r="3" fill="#ff0000"/>
<circle cx="214.59" cy="640.66" r="3" fill="#ff0000"/>
<circle cx="219.28" cy="637.19" r="3" fill="#ff0000"/>
<circle cx="223.97" cy="633.81" r="3" fill="#ff0000"/>
<circle cx="228.67" cy="630.54" r="3" fill="#ff0000"/>
<circle cx="233.37" cy="627.37" r="3" fill="#ff0000"/>
<circle cx="238.06" cy="624.29" r="3" fill="#ff0000"/>
<circle cx="242.75" cy="621.31" r="3" fill="#ff0000"/>
<circle cx="247.45" cy="618.43" r="3" fill="#ff0000"/>
<circle cx="252.15" cy="615.65" r="3" fill="#ff0000"/>
<circle cx="256.84" cy="612.96" r="3" fill="#ff0000"/>
<circle cx="261.53" cy="610.37" r="3" fill="#ff0000"/>
<circle cx="266.23" cy="607.88" r="3" fill="#ff0000"/>
<circle cx="270.93" cy="605.49" r="3" fill="#ff0000"/>
<circle cx="275.62" cy="603.19" r="3" fill="#ff0000"/>
<circle cx="280.31" cy="600.99" r="3" fill="#ff0000"/>
<circle cx="285.01" cy="598.89" r="3" fill="#ff0000"/>
<circle cx="289.71" cy="596.88" r="3" fill="#ff0000"/>
<circle cx="294.4" cy="594.98" r="3" fill="#ff0000"/>
<circle cx="299.1" cy="593.17" r="3" fill="#ff0000"/>
<circle cx="303.79" cy="591.48" r="3" fill="#ff0000"/>
<circle cx="308.49" cy="589.94" r="3" fill="#ff0000"/>
<circle cx="313.18" cy="588.52" r="3" fill="#ff0000"/>
<circle cx="317.88" cy="587.23" r="3" fill="#ff0000"/>
<circle cx="322.57" cy="586.04" r="3" fill="#ff0000"/>
<circle cx="327.26" cy="584.95" r="3" fill="#ff0000"/>
<circle cx="331.96" cy="583.95" r="3" fill="#ff0000"/>
<circle cx="336.65" cy="583.03" r="3" fill="#ff0000"/>
<circle cx="341.35" cy="582.19" r="3" fill="#ff0000"/>
<circle cx="346.05" cy="581.42" r="3" fill="#ff0000"/>
<circle cx="350.74" cy="580.72" r="3" fill="#ff0000"/>
<circle cx="355.44" cy="580.07" r="3" fill="#ff0000"/>
<circle cx="360.13" cy="579.48" r="3" fill="#ff0000"/>
<circle cx="364.83" cy="578.94" r="3" fill="#ff0000"/>
<circle cx="369.52" cy="578.44" r="3" fill="#ff0000"/>
<circle cx="374.22" cy="577.98" r="3" fill="#ff0000"/>
<circle cx="378.91" cy="577.56" r="3" fill="#ff0000"/>
<circle cx="383.61" cy="577.18" r="3" fill="#ff0000"/>
<circle cx="388.3" cy="576.83" r="3" fill="#ff0000"/>
</g>
<g>
<polygon points="106.6,764.34 110.3,771.43 102.9,771.43" fill="#0000ff"/>
<polygon points="111.29,753.9 114.99,761 107.6,761" fill="#0000ff"/>
<polygon points="115.99,744.96 119.69,752.06 112.29,752.06" fill="#0000ff"/>
<polygon points="120.69,737.14 124.38,744.23 116.99,744.23" fill="#0000ff"/>
<polygon points="125.38,730.14 129.08,737.24 121.68,737.24" fill="#0000ff"/>
<polygon points="130.07,723.78 133.77,730.87 126.38,730.87" fill="#0000ff"/>
<polygon points="134.77,717.89 138.47,724.99 131.07,724.99" fill="#0000ff"/>
<polygon points="139.47,712.38 143.16,719.48 135.77,719.48" fill="#0000ff"/>
<polygon points="144.16,707.17 147.86,714.27 140.46,714.27" fill="#0000ff"/>
<polygon points="148.85,702.21 152.55,709.31 145.16,709.31" fill="#0000ff"/>
<polygon points="153.55,697.45 157.25,704.55 149.85,704.55" fill="#0000ff"/>
<polygon points="158.25,692.87 161.94,699.97 154.55,699.97" fill="#0000ff"/>
<polygon points="162.94,688.45 166.64,695.55 159.24,695.55" fill="#0000ff"/>
<polygon points="167.63,684.17 171.33,691.27 163.94,691.27" fill="#0000ff"/>
<polygon points="172.33,680.02 176.03,687.12 168.63,687.12" fill="#0000ff"/>
<polygon points="177.03,676 180.72,683.09 173.33,683.09" fill="#0000ff"/>
<polygon points="181.72,672.09 185.42,679.19 178.02,679.19" fill="#0000ff"/>
<polygon points="186.41,668.3 190.11,675.39 182.72,675.39" fill="#0000ff"/>
<polygon points="191.11,664.62 194.81,671.71 187.41,671.71" fill="#0000ff"/>
<polygon points="195.81,661.04 199.5,668.14 192.11,668.14" fill="#0000ff"/>
<polygon points="200.5,657.58 204.2,664.67 196.8,664.67" fill="#0000ff"/>
<polygon points="205.19,654.22 208.89,661.32 201.5,661.32" fill="#0000ff"/>
<polygon points="209.89,650.97 213.59,658.06 206.19,658.06" fill="#0000ff"/>
<polygon points="214.59,647.82 218.28,654.91 210.89,654.91" fill="#0000ff"/>
<polygon points="219.28,644.78 222.98,651.87 215.58,651.87" fill="#0000ff"/>
<polygon points="223.97,641.84 227.67,648.93 220.28,648.93" fill="#0000ff"/>
<polygon points="228.67,639 232.37,646.1 224.97,646.1" fill="#0000ff"/>
<polygon points="233.37,636.27 237.06,643.37 229.67,643.37" fill="#0000ff"/>
<polygon points="238.06,633.65 241.76,640.74 234.36,640.74" fill="#0000ff"/>
<polygon points="242.75,631.13 246.45,638.22 239.06,638.22" fill="#0000ff"/>
<polygon points="247.45,628.71 251.15,635.8 243.75,635.8" fill="#0000ff"/>
<polygon points="252.15,626.39 255.84,633.49 248.45,633.49" fill="#0000ff"/>
<polygon points="256.84,624.18 260.54,631.28 253.14,631.28" fill="#0000ff"/>
<polygon points="261.53,622.07 265.23,629.17 257.84,629.17" fill="#0000ff"/>
<polygon points="266.23,620.07 269.93,627.16 262.53,627.16" fill="#0000ff"/>
<polygon points="270.93,618.17 274.62,625.26 267.23,625.26" fill="#0000ff"/>
<polygon points="275.62,616.37 279.32,623.47 271.92,623.47" fill="#0000ff"/>
<polygon points="280.31,614.68 284.01,621.78 276.62,621.78" fill="#0000ff"/>
<polygon points="285.01,613.14 288.71,620.24 281.31,620.24" fill="#0000ff"/>
<polygon points="289.71,611.74 293.4,618.84 286.01,618.84" fill="#0000ff"/>
<polygon points="294.4,610.47 298.1,617.57 290.7,617.57" fill="#0000ff"/>
<polygon points="299.1,609.32 302.79,616.41 295.4,616.41" fill="#0000ff"/>
<polygon points="303.79,608.27 307.49,615.37 300.09,615.37" fill="#0000ff"/>
<polygon points="308.49,607.33 312.18,614.42 304.79,614.42" fill="#0000ff"/>
<polygon points="313.18,606.47 316.88,613.56 309.48,613.56" fill="#0000ff"/>
<polygon points="317.88,605.69 321.57,612.78 314.18,612.78" fill="#0000ff"/>
<polygon points="322.57,604.98 326.27,612.07 318.87,612.07" fill="#0000ff"/>
<polygon points="327.26,604.34 330.96,611.43 323.57,611.43" fill="#0000ff"/>
<polygon points="331.96,603.75 335.66,610.85 328.26,610.85" fill="#0000ff"/>
<polygon points="336.65,603.23 340.35,610.32 332.96,610.32" fill="#0000ff"/>
<polygon points="341.35,602.75 345.05,609.84 337.65,609.84" fill="#0000ff"/>
<polygon points="346.05,602.31 349.74,609.41 342.35,609.41" fill="#0000ff"/>
<polygon points="350.74,601.92 354.44,609.01 347.04,609.01" fill="#0000ff"/>
<polygon points="355.44,601.56 359.13,608.66 351.74,608.66" fill="#0000ff"/>
<polygon points="360.13,601.24 363.83,608.33 356.43,608.33" fill="#0000ff"/>
<polygon points="364.83,600.94 368.52,608.04 361.13,608.04" fill="#0000ff"/>
<polygon points="369.52,600.68 373.22,607.77 365.82,607.77" fill="#0000ff"/>
<polygon points="374.22,600.43 377.91,607.53 370.52,607.53" fill="#0000ff"/>
<polygon points="378.91,600.21 382.61,607.31 375.21,607.31" fill="#0000ff"/>
<polygon points="383.61,600.01 387.3,607.11 379.91,607.11" fill="#0000ff"/>
<polygon points="388.3,599.83 392,606.93 384.6,606.93" fill="#0000ff"/>
</g>
<g>
<polygon points="106.6,772.26 110.3,765.16 102.9,765.16" fill="#008080"/>
<polygon points="111.29,762.69 114.99,755.6 107.6,755.6" fill="#008080"/>
<polygon points="115.99,754.64 119.69,747.55 112.29,747.55" fill="#008080"/>
<polygon points="120.69,747.67 124.38,740.58 116.99,740.58" fill="#008080"/>
<polygon points="125.38,741.48 129.08,734.39 121.68,734.39" fill="#008080"/>
<polygon points="130.07,735.87 133.77,728.77 126.38,728.77" fill="#008080"/>
<polygon points="134.77,730.68 138.47,723.58 131.07,723.58" fill="#008080"/>
<polygon points="139.47,725.82 143.16,718.73 135.77,718.73" fill="#008080"/>
<polygon points="144.16,721.22 147.86,714.13 140.46,714.13" fill="#008080"/>
<polygon points="148.85,716.84 152.55,709.75 145.16,709.75" fill="#008080"/>
<polygon points="153.55,712.64 157.25,705.55 149.85,705.55" fill="#008080"/>
<polygon points="158.25,708.6 161.94,701.5 154.55,701.5" fill="#008080"/>
<polygon points="162.94,704.7 166.64,697.61 159.24,697.61" fill="#008080"/>
<polygon points="167.63,700.94 171.33,693.84 163.94,693.84" fill="#008080"/>
<polygon points="172.33,697.3 176.03,690.2 168.63,690.2" fill="#008080"/>
<polygon points="177.03,693.78 180.72,686.68 173.33,686.68" fill="#008080"/>
<polygon points="181.72,690.37 185.42,683.28 178.02,683.28" fill="#008080"/>
<polygon points="186.41,687.09 190.11,679.99 182.72,679.99" fill="#008080"/>
<polygon points="191.11,683.91 194.81,676.82 187.41,676.82" fill="#008080"/>
<polygon points="195.81,680.85 199.5,673.75 192.11,673.75" fill="#008080"/>
<polygon points="200.5,677.89 204.2,670.8 196.8,670.8" fill="#008080"/>
<polygon points="205.19,675.05 208.89,667.96 201.5,667.96" fill="#008080"/>
<polygon points="209.89,672.32 213.59,665.22 206.19,665.22" fill="#008080"/>
<polygon points="214.59,669.69 218.28,662.6 210.89,662.6" fill="#008080"/>
<polygon points="219.28,667.18 222.98,660.08 215.58,660.08" fill="#008080"/>
<polygon points="223.97,664.77 227.67,657.68 220.28,657.68" fill="#008080"/>
<polygon points="228.67,662.48 232.37,655.38 224.97,655.38" fill="#008080"/>
<polygon points="233.37,660.29 237.06,653.19 229.67,653.19" fill="#008080"/>
<polygon points="238.06,658.21 241.76,651.12 234.36,651.12" fill="#008080"/>
<polygon points="242.75,656.24 246.45,649.15 239.06,649.15" fill="#008080"/>
<polygon points="247.45,654.38 251.15,647.29 243.75,647.29" fill="#008080"/>
<polygon points="252.15,652.63 255.84,645.54 248.45,645.54" fill="#008080"/>
<polygon points="256.84,650.99 260.54,643.89 253.14,643.89" fill="#008080"/>
<polygon points="261.53,649.47 265.23,642.37 257.84,642.37" fill="#008080"/>
<polygon points="266.23,648.11 269.93,641.01 262.53,641.01" fill="#008080"/>
<polygon points="270.93,646.89 274.62,639.79 267.23,639.79" fill="#008080"/>
<polygon points="275.62,645.79 279.32,638.7 271.92,638.7" fill="#008080"/>
<polygon points="280.31,644.82 284.01,637.72 276.62,637.72" fill="#008080"/>
<polygon points="285.01,643.94 288.71,636.84 281.31,636.84" fill="#008080"/>
<polygon points="289.71,643.16 293.4,636.06 286.01,636.06" fill="#008080"/>
<polygon points="294.4,642.45 298.1,635.36 290.7,635.36" fill="#008080"/>
<polygon points="299.1,641.82 302.79,634.73 295.4,634.73" fill="#008080"/>
<polygon points="303.79,641.26 307.49,634.17 300.09,634.17" fill="#008080"/>
<polygon points="308.49,640.76 312.18,633.66 304.79,633.66" fill="#008080"/>
<polygon points="313.18,640.31 316.88,633.21 309.48,633.21" fill="#008080"/>
<polygon points="317.88,639.9 321.57,632.81 314.18,632.81" fill="#008080"/>
<polygon points="322.57,639.54 326.27,632.45 318.87,632.45" fill="#008080"/>
<polygon points="327.26,639.22 330.96,632.12 323.57,632.12" fill="#008080"/>
<polygon points="331.96,638.93 335.66,631.83 328.26,631.83" fill="#008080"/>
<polygon points="336.65,638.67 340.35,631.57 332.96,631.57" fill="#008080"/>
<polygon points="341.35,638.44 345.05,631.34 337.65,631.34" fill="#008080"/>
<polygon points="346.05,638.23 349.74,631.13 342.35,631.13" fill="#008080"/>
<polygon points="350.74,638.04 354.44,630.95 347.04,630.95" fill="#008080"/>
<polygon points="355.44,637.87 359.13,630.78 351.74,630.78" fill="#008080"/>
<polygon points="360.13,637.72 363.83,630.63 356.43,630.63" fill="#008080"/>
<polygon points="364.83,637.59 368.52,630.5 361.13,630.5" fill="#008080"/>
<polygon points="369.52,637.47 373.22,630.38 365.82,630.38" fill="#008080"/>
<polygon points="374.22,637.36 377.91,630.27 370.52,630.27" fill="#008080"/>
<polygon points="378.91,637.27 382.61,630.17 375.21,630.17" fill="#008080"/>
<polygon points="383.61,637.18 387.3,630.09 379.91,630.09" fill="#008080"/>
<polygon points="388.3,637.11 392,630.01 384.6,630.01" fill="#008080"/>
</g>
<g>
<polygon points="103.3,768.3 109.57,772.59 109.57,764.01" fill="#ff00ff"/>
<polygon points="107.99,759.68 114.26,763.97 114.26,755.39" fill="#ff00ff"/>
<polygon points="112.69,752.57 118.96,756.86 118.96,748.28" fill="#ff00ff"/>
<polygon points="117.39,746.49 123.66,750.78 123.66,742.2" fill="#ff00ff"/>
<polygon points="122.08,741.12 128.35,745.41 128.35,736.83" fill="#ff00ff"/>
<polygon points="126.77,736.26 133.04,740.55 133.04,731.97" fill="#ff00ff"/>
<polygon points="131.47,731.77 137.74,736.06 137.74,727.48" fill="#ff00ff"/>
<polygon points="136.16,727.56 142.44,731.85 142.44,723.27" fill="#ff00ff"/>
<polygon points="140.86,723.58 147.13,727.87 147.13,719.29" fill="#ff00ff"/>
<polygon points="145.55,719.78 151.82,724.07 151.82,715.49" fill="#ff00ff"/>
<polygon points="150.25,716.14 156.52,720.43 156.52,711.85" fill="#ff00ff"/>
<polygon points="154.94,712.65 161.22,716.94 161.22,708.36" fill="#ff00ff"/>
<polygon points="159.64,709.29 165.91,713.58 165.91,705" fill="#ff00ff"/>
<polygon points="164.33,706.05 170.6,710.34 170.6,701.76" fill="#ff00ff"/>
<polygon points="169.03,702.94 175.3,707.23 175.3,698.65" fill="#ff00ff"/>
<polygon points="173.72,699.95 180,704.24 180,695.66" fill="#ff00ff"/>
<polygon points="178.42,697.07 184.69,701.36 184.69,692.78" fill="#ff00ff"/>
<polygon points="183.11,694.32 189.38,698.61 189.38,690.03" fill="#ff00ff"/>
<polygon points="187.81,691.67 194.08,695.96 194.08,687.38" fill="#ff00ff"/>
<polygon points="192.5,689.14 198.78,693.43 198.78,684.85" fill="#ff00ff"/>
<polygon points="197.2,686.73 203.47,691.02 203.47,682.44" fill="#ff00ff"/>
<polygon points="201.89,684.43 208.16,688.72 208.16,680.14" fill="#ff00ff"/>
<polygon points="206.59,682.24 212.86,686.53 212.86,677.95" fill="#ff00ff"/>
<polygon points="211.28,680.17 217.56,684.46 217.56,675.88" fill="#ff00ff"/>
<polygon points="215.98,678.21 222.25,682.5 222.25,673.92" fill="#ff00ff"/>
<polygon points="220.67,676.36 226.94,680.65 226.94,672.07" fill="#ff00ff"/>
<polygon points="225.37,674.63 231.64,678.92 231.64,670.34" fill="#ff00ff"/>
<polygon points="230.06,673.01 236.34,677.3 236.34,668.72" fill="#ff00ff"/>
<polygon points="234.76,671.51 241.03,675.8 241.03,667.22" fill="#ff00ff"/>
<polygon points="239.45,670.13 245.72,674.42 245.72,665.84" fill="#ff00ff"/>
<polygon points="244.15,668.92 250.42,673.21 250.42,664.63" fill="#ff00ff"/>
<polygon points="248.84,667.85 255.12,672.14 255.12,663.56" fill="#ff00ff"/>
<polygon points="253.54,666.9 259.81,671.19 259.81,662.61" fill="#ff00ff"/>
<polygon points="258.23,666.07 264.5,670.36 264.5,661.78" fill="#ff00ff"/>
<polygon points="262.93,665.34 269.2,669.63 269.2,661.05" fill="#ff00ff"/>
<polygon points="267.62,664.7 273.9,668.99 273.9,660.41" fill="#ff00ff"/>
<polygon points="272.32,664.13 278.59,668.42 278.59,659.84" fill="#ff00ff"/>
<polygon points="277.01,663.63 283.29,667.92 283.29,659.34" fill="#ff00ff"/>
<polygon points="281.71,663.18 287.98,667.47 287.98,658.89" fill="#ff00ff"/>
<polygon points="286.41,662.79 292.68,667.08 292.68,658.5" fill="#ff00ff"/>
<polygon points="291.1,662.45 297.37,666.74 297.37,658.16" fill="#ff00ff"/>
<polygon points="295.8,662.15 302.07,666.44 302.07,657.86" fill="#ff00ff"/>
<polygon points="300.49,661.88 306.76,666.17 306.76,657.59" fill="#ff00ff"/>
<polygon points="305.19,661.65 311.46,665.94 311.46,657.36" fill="#ff00ff"/>
<polygon points="309.88,661.44 316.15,665.73 316.15,657.15" fill="#ff00ff"/>
<polygon points="314.57,661.26 320.85,665.55 320.85,656.97" fill="#ff00ff"/>
<polygon points="319.27,661.1 325.54,665.39 325.54,656.81" fill="#ff00ff"/>
<polygon points="323.96,660.96 330.24,665.25 330.24,656.67" fill="#ff00ff"/>
<polygon points="328.66,660.83 334.93,665.12 334.93,656.54" fill="#ff00ff"/>
<polygon points="333.35,660.72 339.62,665.01 339.62,656.43" fill="#ff00ff"/>
<polygon points="338.05,660.62 344.32,664.91 344.32,656.33" fill="#ff00ff"/>
<polygon points="342.75,660.54 349.02,664.83 349.02,656.25" fill="#ff00ff"/>
<polygon points="347.44,660.46 353.71,664.75 353.71,656.17" fill="#ff00ff"/>
<polygon points="352.13,660.4 358.41,664.69 358.41,656.11" fill="#ff00ff"/>
<polygon points="356.83,660.34 363.1,664.63 363.1,656.05" fill="#ff00ff"/>
<polygon points="361.53,660.29 367.8,664.58 367.8,656" fill="#ff00ff"/>
<polygon points="366.22,660.24 372.49,664.53 372.49,655.95" fill="#ff00ff"/>
<polygon points="370.92,660.2 377.19,664.49 377.19,655.91" fill="#ff00ff"/>
<polygon points="375.61,660.17 381.88,664.46 381.88,655.88" fill="#ff00ff"/>
<polygon points="380.31,660.14 386.58,664.43 386.58,655.85" fill="#ff00ff"/>
<polygon points="385,660.11 391.27,664.4 391.27,655.82" fill="#ff00ff"/>
</g>
<g>
<polygon points="109.9,768.3 103.63,772.59 103.63,764.01" fill="#808000"/>
<polygon points="114.59,760.82 108.32,765.11 108.32,756.53" fill="#808000"/>
<polygon points="119.29,754.77 113.02,759.06 113.02,750.48" fill="#808000"/>
<polygon points="123.98,749.64 117.72,753.93 117.72,745.35" fill="#808000"/>
<polygon points="128.68,745.13 122.41,749.42 122.41,740.84" fill="#808000"/>
<polygon points="133.38,741.05 127.1,745.34 127.1,736.76" fill="#808000"/>
<polygon points="138.07,737.27 131.8,741.56 131.8,732.98" fill="#808000"/>
<polygon points="142.77,733.74 136.5,738.03 136.5,729.45" fill="#808000"/>
<polygon points="147.46,730.39 141.19,734.68 141.19,726.1" fill="#808000"/>
<polygon points="152.16,727.19 145.88,731.48 145.88,722.9" fill="#808000"/>
<polygon points="156.85,724.14 150.58,728.43 150.58,719.85" fill="#808000"/>
<polygon points="161.55,721.22 155.28,725.51 155.28,716.93" fill="#808000"/>
<polygon points="166.24,718.42 159.97,722.71 159.97,714.13" fill="#808000"/>
<polygon points="170.94,715.75 164.66,720.04 164.66,711.46" fill="#808000"/>
<polygon points="175.63,713.18 169.36,717.47 169.36,708.89" fill="#808000"/>
<polygon points="180.33,710.73 174.06,715.02 174.06,706.44" fill="#808000"/>
<polygon points="185.02,708.4 178.75,712.69 178.75,704.11" fill="#808000"/>
<polygon points="189.72,706.18 183.44,710.47 183.44,701.89" fill="#808000"/>
<polygon points="194.41,704.07 188.14,708.36 188.14,699.78" fill="#808000"/>
<polygon points="199.11,702.07 192.84,706.36 192.84,697.78" fill="#808000"/>
<polygon points="203.8,700.18 197.53,704.47 197.53,695.89" fill="#808000"/>
<polygon points="208.5,698.41 202.22,702.7 202.22,694.12" fill="#808000"/>
<polygon points="213.19,696.74 206.92,701.03 206.92,692.45" fill="#808000"/>
<polygon points="217.89,695.19 211.62,699.48 211.62,690.9" fill="#808000"/>
<polygon points="222.58,693.75 216.31,698.04 216.31,689.46" fill="#808000"/>
<polygon points="227.28,692.42 221,696.71 221,688.13" fill="#808000"/>
<polygon points="231.97,691.23 225.7,695.52 225.7,686.94" fill="#808000"/>
<polygon points="236.67,690.18 230.4,694.47 230.4,685.89" fill="#808000"/>
<polygon points="241.36,689.28 235.09,693.57 235.09,684.99" fill="#808000"/>
<polygon points="246.06,688.49 239.78,692.78 239.78,684.2" fill="#808000"/>
<polygon points="250.75,687.81 244.48,692.1 244.48,683.52" fill="#808000"/>
<polygon points="255.45,687.22 249.18,691.51 249.18,682.93" fill="#808000"/>
<polygon points="260.14,686.7 253.87,690.99 253.87,682.41" fill="#808000"/>
<polygon points="264.83,686.26 258.56,690.55 258.56,681.97" fill="#808000"/>
<polygon points="269.53,685.87 263.26,690.16 263.26,681.58" fill="#808000"/>
<polygon points="274.23,685.53 267.95,689.82 267.95,681.24" fill="#808000"/>
<polygon points="278.92,685.24 272.65,689.53 272.65,680.95" fill="#808000"/>
<polygon points="283.62,684.99 277.34,689.28 277.34,680.7" fill="#808000"/>
<polygon points="288.31,684.77 282.04,689.06 282.04,680.48" fill="#808000"/>
<polygon points="293.01,684.58 286.74,688.87 286.74,680.29" fill="#808000"/>
<polygon points="297.7,684.41 291.43,688.7 291.43,680.12" fill="#808000"/>
<polygon points="302.4,684.27 296.12,688.56 296.12,679.98" fill="#808000"/>
<polygon points="307.09,684.14 300.82,688.43 300.82,679.85" fill="#808000"/>
<polygon points="311.79,684.03 305.51,688.32 305.51,679.74" fill="#808000"/>
<polygon points="316.48,683.94 310.21,688.23 310.21,679.65" fill="#808000"/>
<polygon points="321.18,683.86 314.9,688.15 314.9,679.57" fill="#808000"/>
<polygon points="325.87,683.79 319.6,688.08 319.6,679.5" fill="#808000"/>
<polygon points="330.56,683.73 324.29,688.02 324.29,679.44" fill="#808000"/>
<polygon points="335.26,683.67 328.99,687.96 328.99,679.38" fill="#808000"/>
<polygon points="339.95,683.63 333.68,687.92 333.68,679.34" fill="#808000"/>
<polygon points="344.65,683.59 338.38,687.88 338.38,679.3" fill="#808000"/>
<polygon points="349.35,683.55 343.07,687.84 343.07,679.26" fill="#808000"/>
<polygon points="354.04,683.52 347.77,687.81 347.77,679.23" fill="#808000"/>
<polygon points="358.74,683.49 352.46,687.78 352.46,679.2" fill="#808000"/>
<polygon points="363.43,683.47 357.16,687.76 357.16,679.18" fill="#808000"/>
<polygon points="368.13,683.45 361.86,687.74 361.86,679.16" fill="#808000"/>
<polygon points="372.82,683.43 366.55,687.72 366.55,679.14" fill="#808000"/>
<polygon points="377.52,683.42 371.25,687.71 371.25,679.13" fill="#808000"/>
<polygon points="382.21,683.41 375.94,687.7 375.94,679.12" fill="#808000"/>
<polygon points="386.91,683.39 380.63,687.68 380.63,679.1" fill="#808000"/>
<polygon points="391.6,683.38 385.33,687.67 385.33,679.09" fill="#808000"/>
</g>
<g>
<polygon points="106.6,763.95 110.05,768.3 106.6,772.65 103.15,768.3" fill="#000080"/>
<polygon points="111.29,758.33 114.74,762.68 111.29,767.03 107.84,762.68" fill="#000080"/>
<polygon points="115.99,753.83 119.44,758.18 115.99,762.53 112.54,758.18" fill="#000080"/>
<polygon points="120.69,750.04 124.14,754.39 120.69,758.74 117.23,754.39" fill="#000080"/>
<polygon points="125.38,746.71 128.83,751.06 125.38,755.41 121.93,751.06" fill="#000080"/>
<polygon points="130.07,743.7 133.52,748.05 130.07,752.4 126.62,748.05" fill="#000080"/>
<polygon points="134.77,740.92 138.22,745.27 134.77,749.62 131.32,745.27" fill="#000080"/>
<polygon points="139.47,738.31 142.91,742.66 139.47,747.01 136.02,742.66" fill="#000080"/>
<polygon points="144.16,735.84 147.61,740.19 144.16,744.54 140.71,740.19" fill="#000080"/>
<polygon points="148.85,733.49 152.3,737.84 148.85,742.19 145.41,737.84" fill="#000080"/>
<polygon points="153.55,731.24 157,735.59 153.55,739.94 150.1,735.59" fill="#000080"/>
<polygon points="158.25,729.1 161.69,733.45 158.25,737.8 154.8,733.45" fill="#000080"/>
<polygon points="162.94,727.06 166.39,731.41 162.94,735.76 159.49,731.41" fill="#000080"/>
<polygon points="167.63,725.11 171.08,729.46 167.63,733.81 164.19,729.46" fill="#000080"/>
<polygon points="172.33,723.25 175.78,727.6 172.33,731.95 168.88,727.6" fill="#000080"/>
<polygon points="177.03,721.48 180.47,725.83 177.03,730.18 173.58,725.83" fill="#000080"/>
<polygon points="181.72,719.81 185.17,724.16 181.72,728.51 178.27,724.16" fill="#000080"/>
<polygon points="186.41,718.23 189.86,722.58 186.41,726.93 182.97,722.58" fill="#000080"/>
<polygon points="191.11,716.74 194.56,721.09 191.11,725.44 187.66,721.09" fill="#000080"/>
<polygon points="195.81,715.34 199.25,719.69 195.81,724.04 192.36,719.69" fill="#000080"/>
<polygon points="200.5,714.03 203.95,718.38 200.5,722.73 197.05,718.38" fill="#000080"/>
<polygon points="205.19,712.81 208.64,717.16 205.19,721.51 201.75,717.16" fill="#000080"/>
<polygon points="209.89,711.68 213.34,716.03 209.89,720.38 206.44,716.03" fill="#000080"/>
<polygon points="214.59,710.65 218.03,715 214.59,719.35 211.14,715" fill="#000080"/>
<polygon points="219.28,709.71 222.73,714.06 219.28,718.41 215.83,714.06" fill="#000080"/>
<polygon points="223.97,708.89 227.42,713.24 223.97,717.59 220.53,713.24" fill="#000080"/>
<polygon points="228.67,708.19 232.12,712.54 228.67,716.89 225.22,712.54" fill="#000080"/>
<polygon points="233.37,707.59 236.81,711.94 233.37,716.29 229.92,711.94" fill="#000080"/>
<polygon points="238.06,707.08 241.51,711.43 238.06,715.78 234.61,711.43" fill="#000080"/>
<polygon points="242.75,706.63 246.2,710.98 242.75,715.33 239.31,710.98" fill="#000080"/>
<polygon points="247.45,706.25 250.9,710.6 247.45,714.95 244,710.6" fill="#000080"/>
<polygon points="252.15,705.92 255.59,710.27 252.15,714.62 248.7,710.27" fill="#000080"/>
<polygon points="256.84,705.64 260.29,709.99 256.84,714.34 253.39,709.99" fill="#000080"/>
<polygon points="261.53,705.4 264.98,709.75 261.53,714.1 258.08,709.75" fill="#000080"/>
<polygon points="266.23,705.19 269.68,709.54 266.23,713.89 262.78,709.54" fill="#000080"/>
<polygon points="270.93,705.01 274.38,709.36 270.93,713.71 267.48,709.36" fill="#000080"/>
<polygon points="275.62,704.86 279.07,709.21 275.62,713.56 272.17,709.21" fill="#000080"/>
<polygon points="280.31,704.73 283.76,709.08 280.31,713.43 276.87,709.08" fill="#000080"/>
<polygon points="285.01,704.62 288.46,708.97 285.01,713.32 281.56,708.97" fill="#000080"/>
<polygon points="289.71,704.52 293.16,708.87 289.71,713.22 286.26,708.87" fill="#000080"/>
<polygon points="294.4,704.43 297.85,708.78 294.4,713.13 290.95,708.78" fill="#000080"/>
<polygon points="299.1,704.36 302.55,708.71 299.1,713.06 295.65,708.71" fill="#000080"/>
<polygon points="303.79,704.3 307.24,708.65 303.79,713 300.34,708.65" fill="#000080"/>
<polygon points="308.49,704.25 311.94,708.6 308.49,712.95 305.04,708.6" fill="#000080"/>
<polygon points="313.18,704.2 316.63,708.55 313.18,712.9 309.73,708.55" fill="#000080"/>
<polygon points="317.88,704.16 321.32,708.51 317.88,712.86 314.43,708.51" fill="#000080"/>
<polygon points="322.57,704.13 326.02,708.48 322.57,712.83 319.12,708.48" fill="#000080"/>
<polygon points="327.26,704.1 330.71,708.45 327.26,712.8 323.81,708.45" fill="#000080"/>
<polygon points="331.96,704.08 335.41,708.43 331.96,712.78 328.51,708.43" fill="#000080"/>
<polygon points="336.65,704.05 340.1,708.4 336.65,712.75 333.2,708.4" fill="#000080"/>
<polygon points="341.35,704.04 344.8,708.39 341.35,712.74 337.9,708.39" fill="#000080"/>
<polygon points="346.05,704.02 349.5,708.37 346.05,712.72 342.6,708.37" fill="#000080"/>
<polygon points="350.74,704.01 354.19,708.36 350.74,712.71 347.29,708.36" fill="#000080"/>
<polygon points="355.44,704 358.88,708.35 355.44,712.7 351.99,708.35" fill="#000080"/>
<polygon points="360.13,703.99 363.58,708.34 360.13,712.69 356.68,708.34" fill="#000080"/>
<polygon points="364.83,703.98 368.28,708.33 364.83,712.68 361.38,708.33" fill="#000080"/>
<polygon points="369.52,703.97 372.97,708.32 369.52,712.67 366.07,708.32" fill="#000080"/>
<polygon points="374.22,703.96 377.67,708.31 374.22,712.66 370.77,708.31" fill="#000080"/>
<polygon points="378.91,703.96 382.36,708.31 378.91,712.66 375.46,708.31" fill="#000080"/>
<polygon points="383.61,703.95 387.06,708.3 383.61,712.65 380.16,708.3" fill="#000080"/>
<polygon points="388.3,703.95 391.75,708.3 388.3,712.65 384.85,708.3" fill="#000080"/>
</g>
<g>
<polygon points="106.6,764.76 110.25,767.41 108.86,771.71 104.34,771.71 102.95,767.41" fill="#800000"/>
<polygon points="111.29,760.84 114.95,763.49 113.55,767.78 109.04,767.78 107.64,763.49" fill="#800000"/>
<polygon points="115.99,757.8 119.64,760.46 118.25,764.75 113.73,764.75 112.34,760.46" fill="#800000"/>
<polygon points="120.69,755.29 124.34,757.94 122.94,762.23 118.43,762.23 117.03,757.94" fill="#800000"/>
<polygon points="125.38,753.09 129.03,755.74 127.64,760.03 123.12,760.03 121.73,755.74" fill="#800000"/>
<polygon points="130.07,751.09 133.73,753.74 132.33,758.04 127.82,758.04 126.42,753.74" fill="#800000"/>
<polygon points="134.77,749.24 138.42,751.89 137.03,756.19 132.51,756.19 131.12,751.89" fill="#800000"/>
<polygon points="139.47,747.51 143.12,750.16 141.72,754.45 137.21,754.45 135.81,750.16" fill="#800000"/>
<polygon points="144.16,745.87 147.81,748.53 146.42,752.82 141.9,752.82 140.51,748.53" fill="#800000"/>
<polygon points="148.85,744.33 152.51,746.98 151.11,751.28 146.6,751.28 145.2,746.98" fill="#800000"/>
<polygon points="153.55,742.87 157.2,745.52 155.81,749.81 151.29,749.81 149.9,745.52" fill="#800000"/>
<polygon points="158.25,741.49 161.9,744.14 160.5,748.44 155.99,748.44 154.59,744.14" fill="#800000"/>
<polygon points="162.94,740.19 166.59,742.84 165.2,747.14 160.68,747.14 159.29,742.84" fill="#800000"/>
<polygon points="167.63,738.97 171.29,741.62 169.89,745.92 165.38,745.92 163.98,741.62" fill="#800000"/>
<polygon points="172.33,737.83 175.98,740.48 174.59,744.78 170.07,744.78 168.68,740.48" fill="#800000"/>
<polygon points="177.03,736.77 180.68,739.42 179.28,743.71 174.77,743.71 173.37,739.42" fill="#800000"/>
<polygon points="181.72,735.78 185.37,738.44 183.98,742.73 179.46,742.73 178.07,738.44" fill="#800000"/>
<polygon points="186.41,734.88 190.07,737.53 188.67,741.83 184.16,741.83 182.76,737.53" fill="#800000"/>
<polygon points="191.11,734.05 194.76,736.71 193.37,741 188.85,741 187.46,736.71" fill="#800000"/>
<polygon points="195.81,733.31 199.46,735.96 198.06,740.25 193.55,740.25 192.15,735.96" fill="#800000"/>
<polygon points="200.5,732.64 204.15,735.3 202.76,739.59 198.24,739.59 196.85,735.3" fill="#800000"/>
<polygon points="205.19,732.09 208.85,734.74 207.45,739.03 202.94,739.03 201.54,734.74" fill="#800000"/>
<polygon points="209.89,731.62 213.54,734.28 212.15,738.57 207.63,738.57 206.24,734.28" fill="#800000"/>
<polygon points="214.59,731.24 218.24,733.89 216.84,738.19 212.33,738.19 210.93,733.89" fill="#800000"/>
<polygon points="219.28,730.92 222.93,733.57 221.54,737.87 217.02,737.87 215.63,733.57" fill="#800000"/>
<polygon points="223.97,730.65 227.63,733.31 226.23,737.6 221.72,737.6 220.32,733.31" fill="#800000"/>
<polygon points="228.67,730.43 232.32,733.08 230.93,737.38 226.41,737.38 225.02,733.08" fill="#800000"/>
<polygon points="233.37,730.25 237.02,732.9 235.62,737.19 231.11,737.19 229.71,732.9" fill="#800000"/>
<polygon points="238.06,730.09 241.71,732.75 240.32,737.04 235.8,737.04 234.41,732.75" fill="#800000"/>
<polygon points="242.75,729.96 246.41,732.62 245.01,736.91 240.5,736.91 239.1,732.62" fill="#800000"/>
<polygon points="247.45,729.86 251.1,732.51 249.71,736.81 245.19,736.81 243.8,732.51" fill="#800000"/>
<polygon points="252.15,729.77 255.8,732.42 254.4,736.72 249.89,736.72 248.49,732.42" fill="#800000"/>
<polygon points="256.84,729.7 260.49,732.35 259.1,736.64 254.58,736.64 253.19,732.35" fill="#800000"/>
<polygon points="261.53,729.63 265.19,732.29 263.79,736.58 259.28,736.58 257.88,732.29" fill="#800000"/>
<polygon points="266.23,729.58 269.88,732.24 268.49,736.53 263.97,736.53 262.58,732.24" fill="#800000"/>
<polygon points="270.93,729.54 274.58,732.19 273.18,736.49 268.67,736.49 267.27,732.19" fill="#800000"/>
<polygon points="275.62,729.51 279.27,732.16 277.88,736.45 273.36,736.45 271.97,732.16" fill="#800000"/>
<polygon points="280.31,729.48 283.97,732.13 282.57,736.42 278.06,736.42 276.66,732.13" fill="#800000"/>
<polygon points="285.01,729.45 288.66,732.11 287.27,736.4 282.75,736.4 281.36,732.11" fill="#800000"/>
<polygon points="289.71,729.43 293.36,732.09 291.96,736.38 287.45,736.38 286.05,732.09" fill="#800000"/>
<polygon points="294.4,729.41 298.05,732.07 296.66,736.36 292.14,736.36 290.75,732.07" fill="#800000"/>
<polygon points="299.1,729.4 302.75,732.05 301.35,736.35 296.84,736.35 295.44,732.05" fill="#800000"/>
<polygon points="303.79,729.39 307.44,732.04 306.05,736.34 301.53,736.34 300.14,732.04" fill="#800000"/>
<polygon points="308.49,729.38 312.14,732.03 310.74,736.33 306.23,736.33 304.83,732.03" fill="#800000"/>
<polygon points="313.18,729.37 316.83,732.02 315.44,736.32 310.92,736.32 309.53,732.02" fill="#800000"/>
<polygon points="317.88,729.36 321.53,732.02 320.13,736.31 315.62,736.31 314.22,732.02" fill="#800000"/>
<polygon points="322.57,729.36 326.22,732.01 324.83,736.31 320.31,736.31 318.92,732.01" fill="#800000"/>
<polygon points="327.26,729.35 330.92,732.01 329.52,736.3 325.01,736.3 323.61,732.01" fill="#800000"/>
<polygon points="331.96,729.35 335.61,732 334.22,736.3 329.7,736.3 328.31,732" fill="#800000"/>
<polygon points="336.65,729.35 340.31,732 338.91,736.29 334.4,736.29 333,732" fill="#800000"/>
<polygon points="341.35,729.34 345,732 343.61,736.29 339.09,736.29 337.7,732" fill="#800000"/>
<polygon points="346.05,729.34 349.7,732 348.3,736.29 343.79,736.29 342.39,732" fill="#800000"/>
<polygon points="350.74,729.34 354.39,731.99 353,736.29 348.48,736.29 347.09,731.99" fill="#800000"/>
<polygon points="355.44,729.34 359.09,731.99 357.69,736.29 353.18,736.29 351.78,731.99" fill="#800000"/>
<polygon points="360.13,729.34 363.78,731.99 362.39,736.28 357.87,736.28 356.48,731.99" fill="#800000"/>
<polygon points="364.83,729.34 368.48,731.99 367.08,736.28 362.57,736.28 361.17,731.99" fill="#800000"/>
<polygon points="369.52,729.34 373.17,731.99 371.78,736.28 367.26,736.28 365.87,731.99" fill="#800000"/>
<polygon points="374.22,729.33 377.87,731.99 376.47,736.28 371.96,736.28 370.56,731.99" fill="#800000"/>
<polygon points="378.91,729.33 382.56,731.99 381.17,736.28 376.65,736.28 375.26,731.99" fill="#800000"/>
<polygon points="383.61,729.33 387.26,731.99 385.86,736.28 381.35,736.28 379.95,731.99" fill="#800000"/>
<polygon points="388.3,729.33 391.95,731.99 390.56,736.28 386.04,736.28 384.65,731.99" fill="#800000"/>
</g>
<g>
<polygon points="110.2,768.3 108.4,771.42 104.8,771.42 103,768.3 104.8,765.18 108.4,765.18" fill="#ff0080"/>
<polygon points="114.89,766.08 113.09,769.2 109.49,769.2 107.69,766.08 109.49,762.96 113.09,762.96" fill="#ff0080"/>
<polygon points="119.59,764.45 117.79,767.56 114.19,767.56 112.39,764.45 114.19,761.33 117.79,761.33" fill="#ff0080"/>
<polygon points="124.28,763.11 122.48,766.22 118.89,766.22 117.09,763.11 118.89,759.99 122.48,759.99" fill="#ff0080"/>
<polygon points="128.98,761.93 127.18,765.05 123.58,765.05 121.78,761.93 123.58,758.82 127.18,758.82" fill="#ff0080"/>
<polygon points="133.67,760.87 131.88,763.99 128.27,763.99 126.47,760.87 128.27,757.75 131.88,757.75" fill="#ff0080"/>
<polygon points="138.37,759.89 136.57,763 132.97,763 131.17,759.89 132.97,756.77 136.57,756.77" fill="#ff0080"/>
<polygon points="143.06,758.97 141.27,762.09 137.66,762.09 135.87,758.97 137.66,755.85 141.27,755.85" fill="#ff0080"/>
<polygon points="147.76,758.12 145.96,761.24 142.36,761.24 140.56,758.12 142.36,755 145.96,755" fill="#ff0080"/>
<polygon points="152.45,757.33 150.66,760.45 147.05,760.45 145.25,757.33 147.05,754.21 150.66,754.21" fill="#ff0080"/>
<polygon points="157.15,756.6 155.35,759.72 151.75,759.72 149.95,756.6 151.75,753.48 155.35,753.48" fill="#ff0080"/>
<polygon points="161.84,755.93 160.05,759.05 156.44,759.05 154.65,755.93 156.44,752.81 160.05,752.81" fill="#ff0080"/>
<polygon points="166.54,755.32 164.74,758.44 161.14,758.44 159.34,755.32 161.14,752.2 164.74,752.2" fill="#ff0080"/>
<polygon points="171.23,754.77 169.44,757.89 165.83,757.89 164.03,754.77 165.83,751.65 169.44,751.65" fill="#ff0080"/>
<polygon points="175.93,754.28 174.13,757.4 170.53,757.4 168.73,754.28 170.53,751.16 174.13,751.16" fill="#ff0080"/>
<polygon points="180.62,753.85 178.83,756.96 175.22,756.96 173.43,753.85 175.22,750.73 178.83,750.73" fill="#ff0080"/>
<polygon points="185.32,753.48 183.52,756.6 179.92,756.6 178.12,753.48 179.92,750.37 183.52,750.37" fill="#ff0080"/>
<polygon points="190.01,753.2 188.22,756.32 184.61,756.32 182.81,753.2 184.61,750.08 188.22,750.08" fill="#ff0080"/>
<polygon points="194.71,752.97 192.91,756.09 189.31,756.09 187.51,752.97 189.31,749.85 192.91,749.85" fill="#ff0080"/>
<polygon points="199.41,752.79 197.61,755.91 194,755.91 192.21,752.79 194,749.68 197.61,749.68" fill="#ff0080"/>
<polygon points="204.1,752.65 202.3,755.77 198.7,755.77 196.9,752.65 198.7,749.53 202.3,749.53" fill="#ff0080"/>
<polygon points="208.79,752.54 207,755.66 203.39,755.66 201.59,752.54 203.39,749.42 207,749.42" fill="#ff0080"/>
<polygon points="213.49,752.45 211.69,755.57 208.09,755.57 206.29,752.45 208.09,749.33 211.69,749.33" fill="#ff0080"/>
<polygon points="218.19,752.38 216.39,755.5 212.78,755.5 210.99,752.38 212.78,749.27 216.39,749.27" fill="#ff0080"/>
<polygon points="222.88,752.33 221.08,755.45 217.48,755.45 215.68,752.33 217.48,749.21 221.08,749.21" fill="#ff0080"/>
<polygon points="227.57,752.28 225.78,755.4 222.17,755.4 220.38,752.28 222.17,749.17 225.78,749.17" fill="#ff0080"/>
<polygon points="232.27,752.25 230.47,755.37 226.87,755.37 225.07,752.25 226.87,749.13 230.47,749.13" fill="#ff0080"/>
<polygon points="236.97,752.22 235.17,755.34 231.56,755.34 229.77,752.22 231.56,749.11 235.17,749.11" fill="#ff0080"/>
<polygon points="241.66,752.2 239.86,755.32 236.26,755.32 234.46,752.2 236.26,749.08 239.86,749.08" fill="#ff0080"/>
<polygon points="246.35,752.19 244.56,755.3 240.95,755.3 239.16,752.19 240.95,749.07 244.56,749.07" fill="#ff0080"/>
<polygon points="251.05,752.17 249.25,755.29 245.65,755.29 243.85,752.17 245.65,749.05 249.25,749.05" fill="#ff0080"/>
<polygon points="255.75,752.16 253.95,755.28 250.34,755.28 248.55,752.16 250.34,749.04 253.95,749.04" fill="#ff0080"/>
<polygon points="260.44,752.15 258.64,755.27 255.04,755.27 253.24,752.15 255.04,749.04 258.64,749.04" fill="#ff0080"/>
<polygon points="265.13,752.15 263.33,755.26 259.73,755.26 257.93,752.15 259.73,749.03 263.33,749.03" fill="#ff0080"/>
<polygon points="269.83,752.14 268.03,755.26 264.43,755.26 262.63,752.14 264.43,749.02 268.03,749.02" fill="#ff0080"/>
<polygon points="274.53,752.14 272.73,755.26 269.12,755.26 267.32,752.14 269.12,749.02 272.73,749.02" fill="#ff0080"/>
<polygon points="279.22,752.13 277.42,755.25 273.82,755.25 272.02,752.13 273.82,749.02 277.42,749.02" fill="#ff0080"/>
<polygon points="283.92,752.13 282.12,755.25 278.51,755.25 276.71,752.13 278.51,749.01 282.12,749.01" fill="#ff0080"/>
<polygon points="288.61,752.13 286.81,755.25 283.21,755.25 281.41,752.13 283.21,749.01 286.81,749.01" fill="#ff0080"/>
<polygon points="293.31,752.13 291.51,755.25 287.91,755.25 286.11,752.13 287.91,749.01 291.51,749.01" fill="#ff0080"/>
<polygon points="298,752.13 296.2,755.24 292.6,755.24 290.8,752.13 292.6,749.01 296.2,749.01" fill="#ff0080"/>
<polygon points="302.7,752.13 300.9,755.24 297.3,755.24 295.5,752.13 297.3,749.01 300.9,749.01" fill="#ff0080"/>
<polygon points="307.39,752.13 305.59,755.24 301.99,755.24 300.19,752.13 301.99,749.01 305.59,749.01" fill="#ff0080"/>
<polygon points="312.09,752.12 310.29,755.24 306.69,755.24 304.88,752.12 306.69,749.01 310.29,749.01" fill="#ff0080"/>
<polygon points="316.78,752.12 314.98,755.24 311.38,755.24 309.58,752.12 311.38,749.01 314.98,749.01" fill="#ff0080"/>
<polygon points="321.48,752.12 319.68,755.24 316.07,755.24 314.27,752.12 316.07,749.01 319.68,749.01" fill="#ff0080"/>
<polygon points="326.17,752.12 324.37,755.24 320.77,755.24 318.97,752.12 320.77,749.01 324.37,749.01" fill="#ff0080"/>
<polygon points="330.87,752.12 329.06,755.24 325.46,755.24 323.66,752.12 325.46,749.01 329.06,749.01" fill="#ff0080"/>
<polygon points="335.56,752.12 333.76,755.24 330.16,755.24 328.36,752.12 330.16,749.01 333.76,749.01" fill="#ff0080"/>
<polygon points="340.25,752.12 338.45,755.24 334.85,755.24 333.05,752.12 334.85,749.01 338.45,749.01" fill="#ff0080"/>
<polygon points="344.95,752.12 343.15,755.24 339.55,755.24 337.75,752.12 339.55,749.01 343.15,749.01" fill="#ff0080"/>
<polygon points="349.65,752.12 347.85,755.24 344.25,755.24 342.44,752.12 344.25,749 347.85,749" fill="#ff0080"/>
<polygon points="354.34,752.12 352.54,755.24 348.94,755.24 347.14,752.12 348.94,749 352.54,749" fill="#ff0080"/>
<polygon points="359.04,752.12 357.24,755.24 353.63,755.24 351.83,752.12 353.63,749 357.24,749" fill="#ff0080"/>
<polygon points="363.73,752.12 361.93,755.24 358.33,755.24 356.53,752.12 358.33,749 361.93,749" fill="#ff0080"/>
<polygon points="368.43,752.12 366.63,755.24 363.03,755.24 361.23,752.12 363.03,749 366.63,749" fill="#ff0080"/>
<polygon points="373.12,752.12 371.32,755.24 367.72,755.24 365.92,752.12 367.72,749 371.32,749" fill="#ff0080"/>
<polygon points="377.82,752.12 376.02,755.24 372.42,755.24 370.62,752.12 372.42,749 376.02,749" fill="#ff0080"/>
<polygon points="382.51,752.12 380.71,755.24 377.11,755.24 375.31,752.12 377.11,749 380.71,749" fill="#ff0080"/>
<polygon points="387.21,752.12 385.41,755.24 381.81,755.24 380,752.12 381.81,749 385.41,749" fill="#ff0080"/>
<polygon points="391.9,752.12 390.1,755.24 386.5,755.24 384.7,752.12 386.5,749 390.1,749" fill="#ff0080"/>
</g>
<g>
<polygon points="106.6,764.1 107.66,766.84 110.59,767 108.31,768.86 109.07,771.7 106.6,770.1 104.13,771.7 104.89,768.86 102.61,767 105.54,766.84" fill="#008000"/>
<polygon points="111.29,763.37 112.35,766.12 115.29,766.28 113.01,768.13 113.76,770.97 111.29,769.37 108.83,770.97 109.58,768.13 107.3,766.28 110.24,766.12" fill="#008000"/>
<polygon points="115.99,762.86 117.05,765.6 119.98,765.76 117.7,767.61 118.46,770.45 115.99,768.86 113.52,770.45 114.28,767.61 112,765.76 114.93,765.6" fill="#008000"/>
<polygon points="120.69,762.43 121.74,765.18 124.68,765.34 122.4,767.19 123.15,770.03 120.69,768.43 118.22,770.03 118.97,767.19 116.69,765.34 119.63,765.18" fill="#008000"/>
<polygon points="125.38,762.06 126.44,764.81 129.37,764.97 127.09,766.82 127.85,769.66 125.38,768.06 122.91,769.66 123.67,766.82 121.39,764.97 124.32,764.81" fill="#008000"/>
<polygon points="130.07,761.73 131.13,764.47 134.07,764.63 131.79,766.49 132.54,769.33 130.07,767.73 127.61,769.33 128.36,766.49 126.08,764.63 129.02,764.47" fill="#008000"/>
<polygon points="134.77,761.42 135.83,764.17 138.76,764.32 136.48,766.18 137.24,769.02 134.77,767.42 132.3,769.02 133.06,766.18 130.78,764.32 133.71,764.17" fill="#008000"/>
<polygon points="139.47,761.14 140.52,763.88 143.46,764.04 141.18,765.9 141.93,768.74 139.47,767.14 137,768.74 137.75,765.9 135.47,764.04 138.41,763.88" fill="#008000"/>
<polygon points="144.16,760.88 145.22,763.63 148.15,763.79 145.87,765.64 146.63,768.48 144.16,766.88 141.69,768.48 142.45,765.64 140.17,763.79 143.1,763.63" fill="#008000"/>
<polygon points="148.85,760.65 149.91,763.39 152.85,763.55 150.57,765.41 151.32,768.25 148.85,766.65 146.39,768.25 147.14,765.41 144.86,763.55 147.8,763.39" fill="#008000"/>
<polygon points="153.55,760.44 154.61,763.18 157.54,763.34 155.26,765.2 156.02,768.04 153.55,766.44 151.08,768.04 151.84,765.2 149.56,763.34 152.49,763.18" fill="#008000"/>
<polygon points="158.25,760.26 159.3,763 162.24,763.16 159.96,765.01 160.71,767.85 158.25,766.26 155.78,767.85 156.53,765.01 154.25,763.16 157.19,763" fill="#008000"/>
<polygon points="162.94,760.09 164,762.84 166.93,763 164.65,764.85 165.41,767.69 162.94,766.09 160.47,767.69 161.23,764.85 158.95,763 161.88,762.84" fill="#008000"/>
<polygon points="167.63,759.96 168.69,762.7 171.63,762.86 169.35,764.71 170.1,767.56 167.63,765.96 165.17,767.56 165.92,764.71 163.64,762.86 166.58,762.7" fill="#008000"/>
<polygon points="172.33,759.85 173.39,762.6 176.32,762.75 174.04,764.61 174.8,767.45 172.33,765.85 169.86,767.45 170.62,764.61 168.34,762.75 171.27,762.6" fill="#008000"/>
<polygon points="177.03,759.77 178.08,762.52 181.02,762.67 178.74,764.53 179.49,767.37 177.03,765.77 174.56,767.37 175.31,764.53 173.03,762.67 175.97,762.52" fill="#008000"/>
<polygon points="181.72,759.71 182.78,762.46 185.71,762.61 183.43,764.47 184.19,767.31 181.72,765.71 179.25,767.31 180.01,764.47 177.73,762.61 180.66,762.46" fill="#008000"/>
<polygon points="186.41,759.67 187.47,762.41 190.41,762.57 188.13,764.42 188.88,767.26 186.41,765.67 183.95,767.26 184.7,764.42 182.42,762.57 185.36,762.41" fill="#008000"/>
<polygon points="191.11,759.63 192.17,762.38 195.1,762.53 192.82,764.39 193.58,767.23 191.11,765.63 188.64,767.23 189.4,764.39 187.12,762.53 190.05,762.38" fill="#008000"/>
<polygon points="195.81,759.61 196.86,762.35 199.8,762.51 197.52,764.36 198.27,767.2 195.81,765.61 193.34,767.2 194.09,764.36 191.81,762.51 194.75,762.35" fill="#008000"/>
<polygon points="200.5,759.59 201.56,762.33 204.49,762.49 202.21,764.34 202.97,767.18 200.5,765.59 198.03,767.18 198.79,764.34 196.51,762.49 199.44,762.33" fill="#008000"/>
<polygon points="205.19,759.57 206.25,762.32 209.19,762.47 206.91,764.33 207.66,767.17 205.19,765.57 202.73,767.17 203.48,764.33 201.2,762.47 204.14,762.32" fill="#008000"/>
<polygon points="209.89,759.56 210.95,762.3 213.88,762.46 211.6,764.32 212.36,767.16 209.89,765.56 207.42,767.16 208.18,764.32 205.9,762.46 208.83,762.3" fill="#008000"/>
<polygon points="214.59,759.55 215.64,762.3 218.58,762.45 216.3,764.31 217.05,767.15 214.59,765.55 212.12,767.15 212.87,764.31 210.59,762.45 213.53,762.3" fill="#008000"/>
<polygon points="219.28,759.55 220.34,762.29 223.27,762.45 220.99,764.3 221.75,767.14 219.28,765.55 216.81,767.14 217.57,764.3 215.29,762.45 218.22,762.29" fill="#008000"/>
<polygon points="223.97,759.54 225.03,762.28 227.97,762.44 225.69,764.3 226.44,767.14 223.97,765.54 221.51,767.14 222.26,764.3 219.98,762.44 222.92,762.28" fill="#008000"/>
<polygon points="228.67,759.54 229.73,762.28 232.66,762.44 230.38,764.29 231.14,767.14 228.67,765.54 226.2,767.14 226.96,764.29 224.68,762.44 227.61,762.28" fill="#008000"/>
<polygon points="233.37,759.53 234.42,762.28 237.36,762.44 235.08,764.29 235.83,767.13 233.37,765.53 230.9,767.13 231.65,764.29 229.37,762.44 232.31,762.28" fill="#008000"/>
<polygon points="238.06,759.53 239.12,762.28 242.05,762.43 239.77,764.29 240.53,767.13 238.06,765.53 235.59,767.13 236.35,764.29 234.07,762.43 237,762.28" fill="#008000"/>
<polygon points="242.75,759.53 243.81,762.28 246.75,762.43 244.47,764.29 245.22,767.13 242.75,765.53 240.29,767.13 241.04,764.29 238.76,762.43 241.7,762.28" fill="#008000"/>
<polygon points="247.45,759.53 248.51,762.27 251.44,762.43 249.16,764.29 249.92,767.13 247.45,765.53 244.98,767.13 245.74,764.29 243.46,762.43 246.39,762.27" fill="#008000"/>
<polygon points="252.15,759.53 253.2,762.27 256.14,762.43 253.86,764.29 254.61,767.13 252.15,765.53 249.68,767.13 250.43,764.29 248.15,762.43 251.09,762.27" fill="#008000"/>
<polygon points="256.84,759.53 257.9,762.27 260.83,762.43 258.55,764.28 259.31,767.13 256.84,765.53 254.37,767.13 255.13,764.28 252.85,762.43 255.78,762.27" fill="#008000"/>
<polygon points="261.53,759.53 262.59,762.27 265.53,762.43 263.25,764.28 264,767.13 261.53,765.53 259.07,767.13 259.82,764.28 257.54,762.43 260.48,762.27" fill="#008000"/>
<polygon points="266.23,759.53 267.29,762.27 270.22,762.43 267.94,764.28 268.7,767.13 266.23,765.53 263.76,767.13 264.52,764.28 262.24,762.43 265.17,762.27" fill="#008000"/>
<polygon points="270.93,759.53 271.98,762.27 274.92,762.43 272.64,764.28 273.39,767.13 270.93,765.53 268.46,767.13 269.21,764.28 266.93,762.43 269.87,762.27" fill="#008000"/>
<polygon points="275.62,759.53 276.68,762.27 279.61,762.43 277.33,764.28 278.09,767.13 275.62,765.53 273.15,767.13 273.91,764.28 271.63,762.43 274.56,762.27" fill="#008000"/>
<polygon points="280.31,759.53 281.37,762.27 284.31,762.43 282.03,764.28 282.78,767.12 280.31,765.53 277.85,767.12 278.6,764.28 276.32,762.43 279.26,762.27" fill="#008000"/>
<polygon points="285.01,759.53 286.07,762.27 289,762.43 286.72,764.28 287.48,767.12 285.01,765.53 282.54,767.12 283.3,764.28 281.02,762.43 283.95,762.27" fill="#008000"/>
<polygon points="289.71,759.53 290.76,762.27 293.7,762.43 291.42,764.28 292.17,767.12 289.71,765.53 287.24,767.12 287.99,764.28 285.71,762.43 288.65,762.27" fill="#008000"/>
<polygon points="294.4,759.53 295.46,762.27 298.39,762.43 296.11,764.28 296.87,767.12 294.4,765.53 291.93,767.12 292.69,764.28 290.41,762.43 293.34,762.27" fill="#008000"/>
<polygon points="299.1,759.53 300.15,762.27 303.09,762.43 300.81,764.28 301.56,767.12 299.1,765.53 296.63,767.12 297.38,764.28 295.1,762.43 298.04,762.27" fill="#008000"/>
<polygon points="303.79,759.53 304.85,762.27 307.78,762.43 305.5,764.28 306.26,767.12 303.79,765.53 301.32,767.12 302.08,764.28 299.8,762.43 302.73,762.27" fill="#008000"/>
<polygon points="308.49,759.53 309.54,762.27 312.48,762.43 310.2,764.28 310.95,767.12 308.49,765.53 306.02,767.12 306.77,764.28 304.49,762.43 307.43,762.27" fill="#008000"/>
<polygon points="313.18,759.53 314.24,762.27 317.17,762.43 314.89,764.28 315.65,767.12 313.18,765.53 310.71,767.12 311.47,764.28 309.19,762.43 312.12,762.27" fill="#008000"/>
<polygon points="317.88,759.53 318.93,762.27 321.87,762.43 319.59,764.28 320.34,767.12 317.88,765.53 315.41,767.12 316.16,764.28 313.88,762.43 316.82,762.27" fill="#008000"/>
<polygon points="322.57,759.53 323.63,762.27 326.56,762.43 324.28,764.28 325.04,767.12 322.57,765.53 320.1,767.12 320.86,764.28 318.58,762.43 321.51,762.27" fill="#008000"/>
<polygon points="327.26,759.53 328.32,762.27 331.26,762.43 328.98,764.28 329.73,767.12 327.26,765.53 324.8,767.12 325.55,764.28 323.27,762.43 326.21,762.27" fill="#008000"/>
<polygon points="331.96,759.53 333.02,762.27 335.95,762.43 333.67,764.28 334.43,767.12 331.96,765.53 329.49,767.12 330.25,764.28 327.97,762.43 330.9,762.27" fill="#008000"/>
<polygon points="336.65,759.53 337.71,762.27 340.65,762.43 338.37,764.28 339.12,767.12 336.65,765.53 334.19,767.12 334.94,764.28 332.66,762.43 335.6,762.27" fill="#008000"/>
<polygon points="341.35,759.53 342.41,762.27 345.34,762.43 343.06,764.28 343.82,767.12 341.35,765.53 338.88,767.12 339.64,764.28 337.36,762.43 340.29,762.27" fill="#008000"/>
<polygon points="346.05,759.53 347.1,762.27 350.04,762.43 347.76,764.28 348.51,767.12 346.05,765.53 343.58,767.12 344.33,764.28 342.05,762.43 344.99,762.27" fill="#008000"/>
<polygon points="350.74,759.53 351.8,762.27 354.73,762.43 352.45,764.28 353.21,767.12 350.74,765.53 348.27,767.12 349.03,764.28 346.75,762.43 349.68,762.27" fill="#008000"/>
<polygon points="355.44,759.53 356.49,762.27 359.43,762.43 357.15,764.28 357.9,767.12 355.44,765.53 352.97,767.12 353.72,764.28 351.44,762.43 354.38,762.27" fill="#008000"/>
<polygon points="360.13,759.53 361.19,762.27 364.12,762.43 361.84,764.28 362.6,767.12 360.13,765.53 357.66,767.12 358.42,764.28 356.14,762.43 359.07,762.27" fill="#008000"/>
<polygon points="364.83,759.53 365.88,762.27 368.82,762.43 366.54,764.28 367.29,767.12 364.83,765.53 362.36,767.12 363.11,764.28 360.83,762.43 363.77,762.27" fill="#008000"/>
<polygon points="369.52,759.53 370.58,762.27 373.51,762.43 371.23,764.28 371.99,767.12 369.52,765.53 367.05,767.12 367.81,764.28 365.53,762.43 368.46,762.27" fill="#008000"/>
<polygon points="374.22,759.53 375.27,762.27 378.21,762.43 375.93,764.28 376.68,767.12 374.22,765.53 371.75,767.12 372.5,764.28 370.22,762.43 373.16,762.27" fill="#008000"/>
<polygon points="378.91,759.53 379.97,762.27 382.9,762.43 380.62,764.28 381.38,767.12 378.91,765.53 376.44,767.12 377.2,764.28 374.92,762.43 377.85,762.27" fill="#008000"/>
<polygon points="383.61,759.53 384.66,762.27 387.6,762.43 385.32,764.28 386.07,767.12 383.61,765.53 381.14,767.12 381.89,764.28 379.61,762.43 382.55,762.27" fill="#008000"/>
<polygon points="388.3,759.53 389.36,762.27 392.29,762.43 390.01,764.28 390.77,767.12 388.3,765.53 385.83,767.12 386.59,764.28 384.31,762.43 387.24,762.27" fill="#008000"/>
</g>
<g>
<circle cx="106.6" cy="768.3" r="3" fill="#800080"/>
<circle cx="111.29" cy="768.25" r="3" fill="#800080"/>
<circle cx="115.99" cy="768.21" r="3" fill="#800080"/>
<circle cx="120.69" cy="768.19" r="3" fill="#800080"/>
<circle cx="125.38" cy="768.16" r="3" fill="#800080"/>
<circle cx="130.07" cy="768.14" r="3" fill="#800080"/>
<circle cx="134.77" cy="768.12" r="3" fill="#800080"/>
<circle cx="139.47" cy="768.1" r="3" fill="#800080"/>
<circle cx="144.16" cy="768.09" r="3" fill="#800080"/>
<circle cx="148.85" cy="768.07" r="3" fill="#800080"/>
<circle cx="153.55" cy="768.06" r="3" fill="#800080"/>
<circle cx="158.25" cy="768.05" r="3" fill="#800080"/>
<circle cx="162.94" cy="768.04" r="3" fill="#800080"/>
<circle cx="167.63" cy="768.04" r="3" fill="#800080"/>
<circle cx="172.33" cy="768.04" r="3" fill="#800080"/>
<circle cx="177.03" cy="768.03" r="3" fill="#800080"/>
<circle cx="181.72" cy="768.03" r="3" fill="#800080"/>
<circle cx="186.41" cy="768.03" r="3" fill="#800080"/>
<circle cx="191.11" cy="768.03" r="3" fill="#800080"/>
<circle cx="195.81" cy="768.03" r="3" fill="#800080"/>
<circle cx="200.5" cy="768.03" r="3" fill="#800080"/>
<circle cx="205.19" cy="768.03" r="3" fill="#800080"/>
<circle cx="209.89" cy="768.03" r="3" fill="#800080"/>
<circle cx="214.59" cy="768.03" r="3" fill="#800080"/>
<circle cx="219.28" cy="768.03" r="3" fill="#800080"/>
<circle cx="223.97" cy="768.03" r="3" fill="#800080"/>
<circle cx="228.67" cy="768.03" r="3" fill="#800080"/>
<circle cx="233.37" cy="768.03" r="3" fill="#800080"/>
<circle cx="238.06" cy="768.03" r="3" fill="#800080"/>
<circle cx="242.75" cy="768.03" r="3" fill="#800080"/>
<circle cx="247.45" cy="768.03" r="3" fill="#800080"/>
<circle cx="252.15" cy="768.03" r="3" fill="#800080"/>
<circle cx="256.84" cy="768.03" r="3" fill="#800080"/>
<circle cx="261.53" cy="768.03" r="3" fill="#800080"/>
<circle cx="266.23" cy="768.03" r="3" fill="#800080"/>
<circle cx="270.93" cy="768.03" r="3" fill="#800080"/>
<circle cx="275.62" cy="768.03" r="3" fill="#800080"/>
<circle cx="280.31" cy="768.03" r="3" fill="#800080"/>
<circle cx="285.01" cy="768.03" r="3" fill="#800080"/>
<circle cx="289.71" cy="768.03" r="3" fill="#800080"/>
<circle cx="294.4" cy="768.03" r="3" fill="#800080"/>
<circle cx="299.1" cy="768.03" r="3" fill="#800080"/>
<circle cx="303.79" cy="768.03" r="3" fill="#800080"/>
<circle cx="308.49" cy="768.03" r="3" fill="#800080"/>
<circle cx="313.18" cy="768.03" r="3" fill="#800080"/>
<circle cx="317.88" cy="768.03" r="3" fill="#800080"/>
<circle cx="322.57" cy="768.03" r="3" fill="#800080"/>
<circle cx="327.26" cy="768.03" r="3" fill="#800080"/>
<circle cx="331.96" cy="768.03" r="3" fill="#800080"/>
<circle cx="336.65" cy="768.03" r="3" fill="#800080"/>
<circle cx="341.35" cy="768.03" r="3" fill="#800080"/>
<circle cx="346.05" cy="768.03" r="3" fill="#800080"/>
<circle cx="350.74" cy="768.03" r="3" fill="#800080"/>
<circle cx="355.44" cy="768.03" r="3" fill="#800080"/>
<circle cx="360.13" cy="768.03" r="3" fill="#800080"/>
<circle cx="364.83" cy="768.03" r="3" fill="#800080"/>
<circle cx="369.52" cy="768.03" r="3" fill="#800080"/>
<circle cx="374.22" cy="768.03" r="3" fill="#800080"/>
<circle cx="378.91" cy="768.03" r="3" fill="#800080"/>
<circle cx="383.61" cy="768.03" r="3" fill="#800080"/>
<circle cx="388.3" cy="768.03" r="3" fill="#800080"/>
</g>
<path d="M558.36,77.66 L558.36,334.54 L904.62,334.54" fill="none" stroke="#000" stroke-width="1.6" stroke-linecap="square"/>
<line x1="553.36" y1="334.54" x2="558.36" y2="334.54" stroke="#000" stroke-width="1.6" />
<text x="548.76" y="339.54" font-family="'Liberation Sans', sans-serif" font-size="19.2" font-weight="bold" fill="#000" text-anchor="end" >-0.5</text>
<line x1="553.36" y1="307.5" x2="558.36" y2="307.5" stroke="#000" stroke-width="1.6" />
<text x="548.76" y="312.5" font-family="'Liberation Sans', sans-serif" font-size="19.2" font-weight="bold" fill="#000" text-anchor="end" >0.0</text>
<line x1="553.36" y1="280.46" x2="558.36" y2="280.46" stroke="#000" stroke-width="1.6" />
<text x="548.76" y="285.46" font-family="'Liberation Sans', sans-serif" font-size="19.2" font-weight="bold" fill="#000" text-anchor="end" >0.5</text>
<line x1="553.36" y1="253.42" x2="558.36" y2="253.42" stroke="#000" stroke-width="1.6" />
<text x="548.76" y="258.42" font-family="'Liberation Sans', sans-serif" font-size="19.2" font-weight="bold" fill="#000" text-anchor="end" >1.0</text>
<line x1="553.36" y1="226.38" x2="558.36" y2="226.38" stroke="#000" stroke-width="1.6" />
<text x="548.76" y="231.38" font-family="'Liberation Sans', sans-serif" font-size="19.2" font-weight="bold" fill="#000" text-anchor="end" >1.5</text>
<line x1="553.36" y1="199.34" x2="558.36" y2="199.34" stroke="#000" stroke-width="1.6" />
<text x="548.76" y="204.34" font-family="'Liberation Sans', sans-serif" font-size="19.2" font-weight="bold" fill="#000" text-anchor="end" >2.0</text>
<line x1="553.36" y1="172.3" x2="558.36" y2="172.3" stroke="#000" stroke-width="1.6" />
<text x="548.76" y="177.3" font-family="'Liberation Sans', sans-serif" font-size="19.2" font-weight="bold" fill="#000" text-anchor="end" >2.5</text>
<line x1="553.36" y1="145.26" x2="558.36" y2="145.26" stroke="#000" stroke-width="1.6" />
<text x="548.76" y="150.26" font-family="'Liberation Sans', sans-serif" font-size="19.2" font-weight="bold" fill="#000" text-anchor="end" >3.0</text>
<line x1="553.36" y1="118.22" x2="558.36" y2="118.22" stroke="#000" stroke-width="1.6" />
<text x="548.76" y="123.22" font-family="'Liberation Sans', sans-serif" font-size="19.2" font-weight="bold" fill="#000" text-anchor="end" >3.5</text>
<line x1="553.36" y1="91.18" x2="558.36" y2="91.18" stroke="#000" stroke-width="1.6" />
<text x="548.76" y="96.18" font-family="'Liberation Sans', sans-serif" font-size="19.2" font-weight="bold" fill="#000" text-anchor="end" >4.0</text>
<line x1="555.36" y1="321.02" x2="558.36" y2="321.02" stroke="#000" stroke-width="1.6" />
<line x1="555.36" y1="293.98" x2="558.36" y2="293.98" stroke="#000" stroke-width="1.6" />
<line x1="555.36" y1="266.94" x2="558.36" y2="266.94" stroke="#000" stroke-width="1.6" />
<line x1="555.36" y1="239.9" x2="558.36" y2="239.9" stroke="#000" stroke-width="1.6" />
<line x1="555.36" y1="212.86" x2="558.36" y2="212.86" stroke="#000" stroke-width="1.6" />
<line x1="555.36" y1="185.82" x2="558.36" y2="185.82" stroke="#000" stroke-width="1.6" />
<line x1="555.36" y1="158.78" x2="558.36" y2="158.78" stroke="#000" stroke-width="1.6" />
<line x1="555.36" y1="131.74" x2="558.36" y2="131.74" stroke="#000" stroke-width="1.6" />
<line x1="555.36" y1="104.7" x2="558.36" y2="104.7" stroke="#000" stroke-width="1.6" />
<line x1="555.36" y1="77.66" x2="558.36" y2="77.66" stroke="#000" stroke-width="1.6" />
<line x1="558.36" y1="334.54" x2="558.36" y2="339.54" stroke="#000" stroke-width="1.6" />
<text x="558.36" y="358.14" font-family="'Liberation Sans', sans-serif" font-size="19.2" font-weight="bold" fill="#000" text-anchor="middle" >20</text>
<line x1="611.63" y1="334.54" x2="611.63" y2="339.54" stroke="#000" stroke-width="1.6" />
<text x="611.63" y="358.14" font-family="'Liberation Sans', sans-serif" font-size="19.2" font-weight="bold" fill="#000" text-anchor="middle" >10</text>
<line x1="664.9" y1="334.54" x2="664.9" y2="339.54" stroke="#000" stroke-width="1.6" />
<text x="664.9" y="358.14" font-family="'Liberation Sans', sans-serif" font-size="19.2" font-weight="bold" fill="#000" text-anchor="middle" >0</text>
<line x1="718.17" y1="334.54" x2="718.17" y2="339.54" stroke="#000" stroke-width="1.6" />
<text x="718.17" y="358.14" font-family="'Liberation Sans', sans-serif" font-size="19.2" font-weight="bold" fill="#000" text-anchor="middle" >-10</text>
<line x1="771.44" y1="334.54" x2="771.44" y2="339.54" stroke="#000" stroke-width="1.6" />
<text x="771.44" y="358.14" font-family="'Liberation Sans', sans-serif" font-size="19.2" font-weight="bold" fill="#000" text-anchor="middle" >-20</text>
<line x1="824.71" y1="334.54" x2="824.71" y2="339.54" stroke="#000" stroke-width="1.6" />
<text x="824.71" y="358.14" font-family="'Liberation Sans', sans-serif" font-size="19.2" font-weight="bold" fill="#000" text-anchor="middle" >-30</text>
<line x1="877.98" y1="334.54" x2="877.98" y2="339.54" stroke="#000" stroke-width="1.6" />
<text x="877.98" y="358.14" font-family="'Liberation Sans', sans-serif" font-size="19.2" font-weight="bold" fill="#000" text-anchor="middle" >-40</text>
<line x1="585" y1="334.54" x2="585" y2="337.54" stroke="#000" stroke-width="1.6" />
<line x1="638.26" y1="334.54" x2="638.26" y2="337.54" stroke="#000" stroke-width="1.6" />
<line x1="691.53" y1="334.54" x2="691.53" y2="337.54" stroke="#000" stroke-width="1.6" />
<line x1="744.8" y1="334.54" x2="744.8" y2="337.54" stroke="#000" stroke-width="1.6" />
<line x1="798.08" y1="334.54" x2="798.08" y2="337.54" stroke="#000" stroke-width="1.6" />
<line x1="851.35" y1="334.54" x2="851.35" y2="337.54" stroke="#000" stroke-width="1.6" />
<line x1="904.62" y1="334.54" x2="904.62" y2="337.54" stroke="#000" stroke-width="1.6" />
<line x1="632.7" y1="342.8" x2="714.3" y2="157.7" stroke="#e8874a" stroke-width="1.25" />
<path d="M600.98,307.5 L622.28,307.5 L643.59,307.5 L664.9,265.21 L686.21,225.19 L707.52,200.58 L728.82,181.71 L750.13,166.35 L771.44,152.83 L792.75,141.47 L814.06,130.66 L835.36,122.01 L856.67,112.81 L877.98,105.24" fill="none" stroke="#000" stroke-width="3" stroke-linejoin="round"/>
<rect x="598.38" y="304.9" width="5.2" height="5.2" fill="#000"/>
<rect x="619.68" y="304.9" width="5.2" height="5.2" fill="#000"/>
<rect x="640.99" y="304.9" width="5.2" height="5.2" fill="#000"/>
<rect x="662.3" y="262.61" width="5.2" height="5.2" fill="#000"/>
<rect x="683.61" y="222.59" width="5.2" height="5.2" fill="#000"/>
<rect x="704.92" y="197.98" width="5.2" height="5.2" fill="#000"/>
<rect x="726.22" y="179.11" width="5.2" height="5.2" fill="#000"/>
<rect x="747.53" y="163.75" width="5.2" height="5.2" fill="#000"/>
<rect x="768.84" y="150.23" width="5.2" height="5.2" fill="#000"/>
<rect x="790.15" y="138.87" width="5.2" height="5.2" fill="#000"/>
<rect x="811.46" y="128.06" width="5.2" height="5.2" fill="#000"/>
<rect x="832.76" y="119.41" width="5.2" height="5.2" fill="#000"/>
<rect x="854.07" y="110.21" width="5.2" height="5.2" fill="#000"/>
<rect x="875.38" y="102.64" width="5.2" height="5.2" fill="#000"/>
<path d="M576.25,524.04 L576.25,777.93 L920.05,777.93" fill="none" stroke="#000" stroke-width="1.6" stroke-linecap="square"/>
<line x1="571.25" y1="777.93" x2="576.25" y2="777.93" stroke="#000" stroke-width="1.6" />
<text x="566.85" y="782.93" font-family="'Liberation Sans', sans-serif" font-size="18.7" font-weight="bold" fill="#000" text-anchor="end" >-0.5</text>
<line x1="571.25" y1="751.2" x2="576.25" y2="751.2" stroke="#000" stroke-width="1.6" />
<text x="566.85" y="756.2" font-family="'Liberation Sans', sans-serif" font-size="18.7" font-weight="bold" fill="#000" text-anchor="end" >0.0</text>
<line x1="571.25" y1="724.48" x2="576.25" y2="724.48" stroke="#000" stroke-width="1.6" />
<text x="566.85" y="729.48" font-family="'Liberation Sans', sans-serif" font-size="18.7" font-weight="bold" fill="#000" text-anchor="end" >0.5</text>
<line x1="571.25" y1="697.75" x2="576.25" y2="697.75" stroke="#000" stroke-width="1.6" />
<text x="566.85" y="702.75" font-family="'Liberation Sans', sans-serif" font-size="18.7" font-weight="bold" fill="#000" text-anchor="end" >1.0</text>
<line x1="571.25" y1="671.03" x2="576.25" y2="671.03" stroke="#000" stroke-width="1.6" />
<text x="566.85" y="676.03" font-family="'Liberation Sans', sans-serif" font-size="18.7" font-weight="bold" fill="#000" text-anchor="end" >1.5</text>
<line x1="571.25" y1="644.3" x2="576.25" y2="644.3" stroke="#000" stroke-width="1.6" />
<text x="566.85" y="649.3" font-family="'Liberation Sans', sans-serif" font-size="18.7" font-weight="bold" fill="#000" text-anchor="end" >2.0</text>
<line x1="571.25" y1="617.58" x2="576.25" y2="617.58" stroke="#000" stroke-width="1.6" />
<text x="566.85" y="622.58" font-family="'Liberation Sans', sans-serif" font-size="18.7" font-weight="bold" fill="#000" text-anchor="end" >2.5</text>
<line x1="571.25" y1="590.85" x2="576.25" y2="590.85" stroke="#000" stroke-width="1.6" />
<text x="566.85" y="595.85" font-family="'Liberation Sans', sans-serif" font-size="18.7" font-weight="bold" fill="#000" text-anchor="end" >3.0</text>
<line x1="571.25" y1="564.12" x2="576.25" y2="564.12" stroke="#000" stroke-width="1.6" />
<text x="566.85" y="569.12" font-family="'Liberation Sans', sans-serif" font-size="18.7" font-weight="bold" fill="#000" text-anchor="end" >3.5</text>
<line x1="571.25" y1="537.4" x2="576.25" y2="537.4" stroke="#000" stroke-width="1.6" />
<text x="566.85" y="542.4" font-family="'Liberation Sans', sans-serif" font-size="18.7" font-weight="bold" fill="#000" text-anchor="end" >4.0</text>
<line x1="573.25" y1="764.56" x2="576.25" y2="764.56" stroke="#000" stroke-width="1.6" />
<line x1="573.25" y1="737.84" x2="576.25" y2="737.84" stroke="#000" stroke-width="1.6" />
<line x1="573.25" y1="711.11" x2="576.25" y2="711.11" stroke="#000" stroke-width="1.6" />
<line x1="573.25" y1="684.39" x2="576.25" y2="684.39" stroke="#000" stroke-width="1.6" />
<line x1="573.25" y1="657.66" x2="576.25" y2="657.66" stroke="#000" stroke-width="1.6" />
<line x1="573.25" y1="630.94" x2="576.25" y2="630.94" stroke="#000" stroke-width="1.6" />
<line x1="573.25" y1="604.21" x2="576.25" y2="604.21" stroke="#000" stroke-width="1.6" />
<line x1="573.25" y1="577.49" x2="576.25" y2="577.49" stroke="#000" stroke-width="1.6" />
<line x1="573.25" y1="550.76" x2="576.25" y2="550.76" stroke="#000" stroke-width="1.6" />
<line x1="573.25" y1="524.04" x2="576.25" y2="524.04" stroke="#000" stroke-width="1.6" />
<line x1="604.9" y1="777.93" x2="604.9" y2="782.93" stroke="#000" stroke-width="1.6" />
<text x="604.9" y="801.03" font-family="'Liberation Sans', sans-serif" font-size="18.7" font-weight="bold" fill="#000" text-anchor="middle" >10</text>
<line x1="662.2" y1="777.93" x2="662.2" y2="782.93" stroke="#000" stroke-width="1.6" />
<text x="662.2" y="801.03" font-family="'Liberation Sans', sans-serif" font-size="18.7" font-weight="bold" fill="#000" text-anchor="middle" >0</text>
<line x1="719.5" y1="777.93" x2="719.5" y2="782.93" stroke="#000" stroke-width="1.6" />
<text x="719.5" y="801.03" font-family="'Liberation Sans', sans-serif" font-size="18.7" font-weight="bold" fill="#000" text-anchor="middle" >-10</text>
<line x1="776.8" y1="777.93" x2="776.8" y2="782.93" stroke="#000" stroke-width="1.6" />
<text x="776.8" y="801.03" font-family="'Liberation Sans', sans-serif" font-size="18.7" font-weight="bold" fill="#000" text-anchor="middle" >-20</text>
<line x1="834.1" y1="777.93" x2="834.1" y2="782.93" stroke="#000" stroke-width="1.6" />
<text x="834.1" y="801.03" font-family="'Liberation Sans', sans-serif" font-size="18.7" font-weight="bold" fill="#000" text-anchor="middle" >-30</text>
<line x1="891.4" y1="777.93" x2="891.4" y2="782.93" stroke="#000" stroke-width="1.6" />
<text x="891.4" y="801.03" font-family="'Liberation Sans', sans-serif" font-size="18.7" font-weight="bold" fill="#000" text-anchor="middle" >-40</text>
<line x1="576.25" y1="777.93" x2="576.25" y2="780.93" stroke="#000" stroke-width="1.6" />
<line x1="633.55" y1="777.93" x2="633.55" y2="780.93" stroke="#000" stroke-width="1.6" />
<line x1="690.85" y1="777.93" x2="690.85" y2="780.93" stroke="#000" stroke-width="1.6" />
<line x1="748.15" y1="777.93" x2="748.15" y2="780.93" stroke="#000" stroke-width="1.6" />
<line x1="805.45" y1="777.93" x2="805.45" y2="780.93" stroke="#000" stroke-width="1.6" />
<line x1="862.75" y1="777.93" x2="862.75" y2="780.93" stroke="#000" stroke-width="1.6" />
<line x1="920.05" y1="777.93" x2="920.05" y2="780.93" stroke="#000" stroke-width="1.6" />
<line x1="651.7" y1="780.4" x2="723.8" y2="585.7" stroke="#e8874a" stroke-width="1.25" />
<path d="M616.36,751.2 L639.28,751.2 L662.2,751.2 L685.12,688.02 L708.04,659.43 L730.96,637.62 L753.88,621.21 L776.8,607.1 L799.72,595.18 L822.64,584.12 L845.56,573.8 L868.48,565.09 L891.4,557.02" fill="none" stroke="#000" stroke-width="3" stroke-linejoin="round"/>
<rect x="613.76" y="748.6" width="5.2" height="5.2" fill="#000"/>
<rect x="636.68" y="748.6" width="5.2" height="5.2" fill="#000"/>
<rect x="659.6" y="748.6" width="5.2" height="5.2" fill="#000"/>
<rect x="682.52" y="685.42" width="5.2" height="5.2" fill="#000"/>
<rect x="705.44" y="656.83" width="5.2" height="5.2" fill="#000"/>
<rect x="728.36" y="635.02" width="5.2" height="5.2" fill="#000"/>
<rect x="751.28" y="618.61" width="5.2" height="5.2" fill="#000"/>
<rect x="774.2" y="604.5" width="5.2" height="5.2" fill="#000"/>
<rect x="797.12" y="592.58" width="5.2" height="5.2" fill="#000"/>
<rect x="820.04" y="581.52" width="5.2" height="5.2" fill="#000"/>
<rect x="842.96" y="571.2" width="5.2" height="5.2" fill="#000"/>
<rect x="865.88" y="562.49" width="5.2" height="5.2" fill="#000"/>
<rect x="888.8" y="554.42" width="5.2" height="5.2" fill="#000"/>
<path d="M1078.16,87.01 L1078.16,335.89 L1413.37,335.89" fill="none" stroke="#000" stroke-width="1.6" stroke-linecap="square"/>
<line x1="1073.16" y1="311" x2="1078.16" y2="311" stroke="#000" stroke-width="1.6" />
<text x="1069.46" y="316" font-family="'Liberation Sans', sans-serif" font-size="19" font-weight="bold" fill="#000" text-anchor="end" >0.0</text>
<line x1="1073.16" y1="261.23" x2="1078.16" y2="261.23" stroke="#000" stroke-width="1.6" />
<text x="1069.46" y="266.23" font-family="'Liberation Sans', sans-serif" font-size="19" font-weight="bold" fill="#000" text-anchor="end" >0.1</text>
<line x1="1073.16" y1="211.45" x2="1078.16" y2="211.45" stroke="#000" stroke-width="1.6" />
<text x="1069.46" y="216.45" font-family="'Liberation Sans', sans-serif" font-size="19" font-weight="bold" fill="#000" text-anchor="end" >0.2</text>
<line x1="1073.16" y1="161.68" x2="1078.16" y2="161.68" stroke="#000" stroke-width="1.6" />
<text x="1069.46" y="166.68" font-family="'Liberation Sans', sans-serif" font-size="19" font-weight="bold" fill="#000" text-anchor="end" >0.3</text>
<line x1="1073.16" y1="111.9" x2="1078.16" y2="111.9" stroke="#000" stroke-width="1.6" />
<text x="1069.46" y="116.9" font-family="'Liberation Sans', sans-serif" font-size="19" font-weight="bold" fill="#000" text-anchor="end" >0.4</text>
<line x1="1075.16" y1="335.89" x2="1078.16" y2="335.89" stroke="#000" stroke-width="1.6" />
<line x1="1075.16" y1="286.11" x2="1078.16" y2="286.11" stroke="#000" stroke-width="1.6" />
<line x1="1075.16" y1="236.34" x2="1078.16" y2="236.34" stroke="#000" stroke-width="1.6" />
<line x1="1075.16" y1="186.56" x2="1078.16" y2="186.56" stroke="#000" stroke-width="1.6" />
<line x1="1075.16" y1="136.79" x2="1078.16" y2="136.79" stroke="#000" stroke-width="1.6" />
<line x1="1075.16" y1="87.01" x2="1078.16" y2="87.01" stroke="#000" stroke-width="1.6" />
<line x1="1078.16" y1="335.89" x2="1078.16" y2="340.89" stroke="#000" stroke-width="1.6" />
<text x="1078.16" y="357.99" font-family="'Liberation Sans', sans-serif" font-size="19" font-weight="bold" fill="#000" text-anchor="middle" >20</text>
<line x1="1129.73" y1="335.89" x2="1129.73" y2="340.89" stroke="#000" stroke-width="1.6" />
<text x="1129.73" y="357.99" font-family="'Liberation Sans', sans-serif" font-size="19" font-weight="bold" fill="#000" text-anchor="middle" >10</text>
<line x1="1181.3" y1="335.89" x2="1181.3" y2="340.89" stroke="#000" stroke-width="1.6" />
<text x="1181.3" y="357.99" font-family="'Liberation Sans', sans-serif" font-size="19" font-weight="bold" fill="#000" text-anchor="middle" >0</text>
<line x1="1232.87" y1="335.89" x2="1232.87" y2="340.89" stroke="#000" stroke-width="1.6" />
<text x="1232.87" y="357.99" font-family="'Liberation Sans', sans-serif" font-size="19" font-weight="bold" fill="#000" text-anchor="middle" >-10</text>
<line x1="1284.44" y1="335.89" x2="1284.44" y2="340.89" stroke="#000" stroke-width="1.6" />
<text x="1284.44" y="357.99" font-family="'Liberation Sans', sans-serif" font-size="19" font-weight="bold" fill="#000" text-anchor="middle" >-20</text>
<line x1="1336.01" y1="335.89" x2="1336.01" y2="340.89" stroke="#000" stroke-width="1.6" />
<text x="1336.01" y="357.99" font-family="'Liberation Sans', sans-serif" font-size="19" font-weight="bold" fill="#000" text-anchor="middle" >-30</text>
<line x1="1387.58" y1="335.89" x2="1387.58" y2="340.89" stroke="#000" stroke-width="1.6" />
<text x="1387.58" y="357.99" font-family="'Liberation Sans', sans-serif" font-size="19" font-weight="bold" fill="#000" text-anchor="middle" >-40</text>
<line x1="1103.94" y1="335.89" x2="1103.94" y2="338.89" stroke="#000" stroke-width="1.6" />
<line x1="1155.51" y1="335.89" x2="1155.51" y2="338.89" stroke="#000" stroke-width="1.6" />
<line x1="1207.09" y1="335.89" x2="1207.09" y2="338.89" stroke="#000" stroke-width="1.6" />
<line x1="1258.65" y1="335.89" x2="1258.65" y2="338.89" stroke="#000" stroke-width="1.6" />
<line x1="1310.22" y1="335.89" x2="1310.22" y2="338.89" stroke="#000" stroke-width="1.6" />
<line x1="1361.8" y1="335.89" x2="1361.8" y2="338.89" stroke="#000" stroke-width="1.6" />
<line x1="1413.37" y1="335.89" x2="1413.37" y2="338.89" stroke="#000" stroke-width="1.6" />
<path d="M1119.42,311 L1140.04,311 L1160.67,311 L1181.3,234.1 L1201.93,99.46 L1222.56,114.89 L1243.18,126.33 L1263.81,136.79 L1284.44,144.75 L1305.07,152.22 L1325.7,160.18 L1346.32,166.65 L1366.95,173.12 L1387.58,178.6" fill="none" stroke="#000" stroke-width="2.9" stroke-linejoin="round"/>
<rect x="1116.82" y="308.4" width="5.2" height="5.2" fill="#000"/>
<rect x="1137.44" y="308.4" width="5.2" height="5.2" fill="#000"/>
<rect x="1158.07" y="308.4" width="5.2" height="5.2" fill="#000"/>
<rect x="1178.7" y="231.5" width="5.2" height="5.2" fill="#000"/>
<rect x="1199.33" y="96.86" width="5.2" height="5.2" fill="#000"/>
<rect x="1219.96" y="112.29" width="5.2" height="5.2" fill="#000"/>
<rect x="1240.58" y="123.73" width="5.2" height="5.2" fill="#000"/>
<rect x="1261.21" y="134.19" width="5.2" height="5.2" fill="#000"/>
<rect x="1281.84" y="142.15" width="5.2" height="5.2" fill="#000"/>
<rect x="1302.47" y="149.62" width="5.2" height="5.2" fill="#000"/>
<rect x="1323.1" y="157.58" width="5.2" height="5.2" fill="#000"/>
<rect x="1343.72" y="164.05" width="5.2" height="5.2" fill="#000"/>
<rect x="1364.35" y="170.52" width="5.2" height="5.2" fill="#000"/>
<rect x="1384.98" y="176" width="5.2" height="5.2" fill="#000"/>
<path d="M1081.2,523.91 L1081.2,775.79 L1422,775.79" fill="none" stroke="#000" stroke-width="1.6" stroke-linecap="square"/>
<line x1="1076.2" y1="750.6" x2="1081.2" y2="750.6" stroke="#000" stroke-width="1.6" />
<text x="1072.2" y="755.6" font-family="'Liberation Sans', sans-serif" font-size="19" font-weight="bold" fill="#000" text-anchor="end" >0.0</text>
<line x1="1076.2" y1="700.23" x2="1081.2" y2="700.23" stroke="#000" stroke-width="1.6" />
<text x="1072.2" y="705.23" font-family="'Liberation Sans', sans-serif" font-size="19" font-weight="bold" fill="#000" text-anchor="end" >0.1</text>
<line x1="1076.2" y1="649.85" x2="1081.2" y2="649.85" stroke="#000" stroke-width="1.6" />
<text x="1072.2" y="654.85" font-family="'Liberation Sans', sans-serif" font-size="19" font-weight="bold" fill="#000" text-anchor="end" >0.2</text>
<line x1="1076.2" y1="599.48" x2="1081.2" y2="599.48" stroke="#000" stroke-width="1.6" />
<text x="1072.2" y="604.48" font-family="'Liberation Sans', sans-serif" font-size="19" font-weight="bold" fill="#000" text-anchor="end" >0.3</text>
<line x1="1076.2" y1="549.1" x2="1081.2" y2="549.1" stroke="#000" stroke-width="1.6" />
<text x="1072.2" y="554.1" font-family="'Liberation Sans', sans-serif" font-size="19" font-weight="bold" fill="#000" text-anchor="end" >0.4</text>
<line x1="1078.2" y1="775.79" x2="1081.2" y2="775.79" stroke="#000" stroke-width="1.6" />
<line x1="1078.2" y1="725.41" x2="1081.2" y2="725.41" stroke="#000" stroke-width="1.6" />
<line x1="1078.2" y1="675.04" x2="1081.2" y2="675.04" stroke="#000" stroke-width="1.6" />
<line x1="1078.2" y1="624.66" x2="1081.2" y2="624.66" stroke="#000" stroke-width="1.6" />
<line x1="1078.2" y1="574.29" x2="1081.2" y2="574.29" stroke="#000" stroke-width="1.6" />
<line x1="1078.2" y1="523.91" x2="1081.2" y2="523.91" stroke="#000" stroke-width="1.6" />
<line x1="1109.6" y1="775.79" x2="1109.6" y2="780.79" stroke="#000" stroke-width="1.6" />
<text x="1109.6" y="799.29" font-family="'Liberation Sans', sans-serif" font-size="19" font-weight="bold" fill="#000" text-anchor="middle" >10</text>
<line x1="1166.4" y1="775.79" x2="1166.4" y2="780.79" stroke="#000" stroke-width="1.6" />
<text x="1166.4" y="799.29" font-family="'Liberation Sans', sans-serif" font-size="19" font-weight="bold" fill="#000" text-anchor="middle" >0</text>
<line x1="1223.2" y1="775.79" x2="1223.2" y2="780.79" stroke="#000" stroke-width="1.6" />
<text x="1223.2" y="799.29" font-family="'Liberation Sans', sans-serif" font-size="19" font-weight="bold" fill="#000" text-anchor="middle" >-10</text>
<line x1="1280" y1="775.79" x2="1280" y2="780.79" stroke="#000" stroke-width="1.6" />
<text x="1280" y="799.29" font-family="'Liberation Sans', sans-serif" font-size="19" font-weight="bold" fill="#000" text-anchor="middle" >-20</text>
<line x1="1336.8" y1="775.79" x2="1336.8" y2="780.79" stroke="#000" stroke-width="1.6" />
<text x="1336.8" y="799.29" font-family="'Liberation Sans', sans-serif" font-size="19" font-weight="bold" fill="#000" text-anchor="middle" >-30</text>
<line x1="1393.6" y1="775.79" x2="1393.6" y2="780.79" stroke="#000" stroke-width="1.6" />
<text x="1393.6" y="799.29" font-family="'Liberation Sans', sans-serif" font-size="19" font-weight="bold" fill="#000" text-anchor="middle" >-40</text>
<line x1="1081.2" y1="775.79" x2="1081.2" y2="778.79" stroke="#000" stroke-width="1.6" />
<line x1="1138" y1="775.79" x2="1138" y2="778.79" stroke="#000" stroke-width="1.6" />
<line x1="1194.8" y1="775.79" x2="1194.8" y2="778.79" stroke="#000" stroke-width="1.6" />
<line x1="1251.6" y1="775.79" x2="1251.6" y2="778.79" stroke="#000" stroke-width="1.6" />
<line x1="1308.4" y1="775.79" x2="1308.4" y2="778.79" stroke="#000" stroke-width="1.6" />
<line x1="1365.2" y1="775.79" x2="1365.2" y2="778.79" stroke="#000" stroke-width="1.6" />
<line x1="1422" y1="775.79" x2="1422" y2="778.79" stroke="#000" stroke-width="1.6" />
<path d="M1120.96,750.6 L1143.68,750.6 L1166.4,750.6 L1189.12,578.32 L1211.84,550.11 L1234.56,560.69 L1257.28,570.26 L1280,578.82 L1302.72,586.88 L1325.44,593.93 L1348.16,600.99 L1370.88,607.54 L1393.6,613.58" fill="none" stroke="#000" stroke-width="2.9" stroke-linejoin="round"/>
<rect x="1118.36" y="748" width="5.2" height="5.2" fill="#000"/>
<rect x="1141.08" y="748" width="5.2" height="5.2" fill="#000"/>
<rect x="1163.8" y="748" width="5.2" height="5.2" fill="#000"/>
<rect x="1186.52" y="575.72" width="5.2" height="5.2" fill="#000"/>
<rect x="1209.24" y="547.51" width="5.2" height="5.2" fill="#000"/>
<rect x="1231.96" y="558.09" width="5.2" height="5.2" fill="#000"/>
<rect x="1254.68" y="567.66" width="5.2" height="5.2" fill="#000"/>
<rect x="1277.4" y="576.22" width="5.2" height="5.2" fill="#000"/>
<rect x="1300.12" y="584.28" width="5.2" height="5.2" fill="#000"/>
<rect x="1322.84" y="591.33" width="5.2" height="5.2" fill="#000"/>
<rect x="1345.56" y="598.39" width="5.2" height="5.2" fill="#000"/>
<rect x="1368.28" y="604.94" width="5.2" height="5.2" fill="#000"/>
<rect x="1391" y="610.98" width="5.2" height="5.2" fill="#000"/>
<text x="213.77" y="390.3" font-family="'Liberation Sans', sans-serif" font-size="18.8" font-weight="bold" font-style="normal" fill="#000" xml:space="preserve" >V</text>
<text x="226.84" y="394.7" font-family="'Liberation Sans', sans-serif" font-size="18.8" font-weight="bold" font-style="normal" fill="#000" xml:space="preserve" >DS</text>
<text x="260.24" y="390.3" font-family="'Liberation Sans', sans-serif" font-size="18.8" font-weight="bold" font-style="normal" fill="#000" xml:space="preserve" >[V]</text>
<text x="213.78" y="829" font-family="'Liberation Sans', sans-serif" font-size="18.2" font-weight="bold" font-style="normal" fill="#000" xml:space="preserve" >V</text>
<text x="225.58" y="836.2" font-family="'Liberation Sans', sans-serif" font-size="18.2" font-weight="bold" font-style="normal" fill="#000" xml:space="preserve" >DS</text>
<text x="257.18" y="829" font-family="'Liberation Sans', sans-serif" font-size="18.2" font-weight="bold" font-style="normal" fill="#000" xml:space="preserve" >[V]</text>
<text x="687.47" y="383" font-family="'Liberation Sans', sans-serif" font-size="18.6" font-weight="bold" font-style="normal" fill="#000" xml:space="preserve" >V</text>
<text x="700.74" y="387.8" font-family="'Liberation Sans', sans-serif" font-size="18.6" font-weight="bold" font-style="normal" fill="#000" xml:space="preserve" >GS</text>
<text x="735.26" y="383" font-family="'Liberation Sans', sans-serif" font-size="18.6" font-weight="bold" font-style="normal" fill="#000" xml:space="preserve" >[V]</text>
<text x="706.47" y="826" font-family="'Liberation Sans', sans-serif" font-size="18.6" font-weight="bold" font-style="normal" fill="#000" xml:space="preserve" >V</text>
<text x="719.84" y="830.4" font-family="'Liberation Sans', sans-serif" font-size="18.6" font-weight="bold" font-style="normal" fill="#000" xml:space="preserve" >GS</text>
<text x="753.36" y="826" font-family="'Liberation Sans', sans-serif" font-size="18.6" font-weight="bold" font-style="normal" fill="#000" xml:space="preserve" >[V]</text>
<text x="1206.47" y="382.5" font-family="'Liberation Sans', sans-serif" font-size="18.6" font-weight="bold" font-style="normal" fill="#000" xml:space="preserve" >V</text>
<text x="1219.14" y="387.4" font-family="'Liberation Sans', sans-serif" font-size="18.6" font-weight="bold" font-style="normal" fill="#000" xml:space="preserve" >GS</text>
<text x="1252.16" y="382.5" font-family="'Liberation Sans', sans-serif" font-size="18.6" font-weight="bold" font-style="normal" fill="#000" xml:space="preserve" >[V]</text>
<text x="1215.47" y="832" font-family="'Liberation Sans', sans-serif" font-size="18.6" font-weight="bold" font-style="normal" fill="#000" xml:space="preserve" >V</text>
<text x="1228.44" y="836.7" font-family="'Liberation Sans', sans-serif" font-size="18.6" font-weight="bold" font-style="normal" fill="#000" xml:space="preserve" >GS</text>
<text x="1262.66" y="832" font-family="'Liberation Sans', sans-serif" font-size="18.6" font-weight="bold" font-style="normal" fill="#000" xml:space="preserve" >[V]</text>
<text x="0" y="0" font-family="'Liberation Sans', sans-serif" font-size="20" font-weight="bold" font-style="normal" fill="#000" xml:space="preserve" transform="translate(17.6,291.04) rotate(-90)">I</text>
<text x="0" y="0" font-family="'Liberation Sans', sans-serif" font-size="20.3" font-weight="bold" font-style="normal" fill="#000" xml:space="preserve" transform="translate(22.6,286.26) rotate(-90)">DS</text>
<text x="0" y="0" font-family="'Liberation Sans', sans-serif" font-size="20" font-weight="bold" font-style="normal" fill="#000" xml:space="preserve" transform="translate(17.8,251.85) rotate(-90)">[mA/mm]</text>
<text x="0" y="0" font-family="'Liberation Sans', sans-serif" font-size="20" font-weight="bold" font-style="normal" fill="#000" xml:space="preserve" transform="translate(25.4,734.44) rotate(-90)">I</text>
<text x="0" y="0" font-family="'Liberation Sans', sans-serif" font-size="20.3" font-weight="bold" font-style="normal" fill="#000" xml:space="preserve" transform="translate(32.6,729.46) rotate(-90)">DS</text>
<text x="0" y="0" font-family="'Liberation Sans', sans-serif" font-size="20" font-weight="bold" font-style="normal" fill="#000" xml:space="preserve" transform="translate(25.3,693.85) rotate(-90)">[mA/mm]</text>
<text x="0" y="0" font-family="'Liberation Sans', sans-serif" font-size="19.5" font-weight="bold" font-style="normal" fill="#000" xml:space="preserve" transform="translate(1032.9,282.6) rotate(-90)">gm [mS/mm]</text>
<text x="0" y="0" font-family="'Liberation Sans', sans-serif" font-size="19.8" font-weight="bold" font-style="normal" fill="#000" xml:space="preserve" transform="translate(1035.3,722.61) rotate(-90)">gm [mS/mm]</text>
<text x="0" y="0" font-family="'Liberation Serif', serif" font-size="28" font-weight="bold" font-style="italic" fill="#000" xml:space="preserve" transform="translate(506.5,261.73) rotate(-90)">I</text>
<text x="0" y="0" font-family="'Liberation Serif', serif" font-size="20" font-weight="bold" font-style="italic" fill="#000" xml:space="preserve" transform="translate(512.3,249.35) rotate(-90)">DS</text>
<text x="0" y="0" font-family="'Liberation Serif', serif" font-size="29.31" font-weight="bold" font-style="normal" fill="#000" xml:space="preserve" transform="translate(506.5,216.89) rotate(-90)">(mA/mm)</text>
<path d="M482.5,93.7 L482.5,264.8 L514.3,273.4" fill="none" stroke="#000" stroke-width="1.7" stroke-linejoin="miter"/>
<path d="M514.3,273.4 L501.8,278.6" fill="none" stroke="#000" stroke-width="2.6" stroke-linecap="butt"/>
<path d="M501.8,278.6 L502.6,281.6" fill="none" stroke="#000" stroke-width="1.4"/>
<text x="0" y="0" font-family="'Liberation Serif', serif" font-size="25.5" font-weight="bold" font-style="italic" fill="#000" xml:space="preserve" transform="translate(527.9,713.05) rotate(-90)">I</text>
<text x="0" y="0" font-family="'Liberation Serif', serif" font-size="18" font-weight="bold" font-style="italic" fill="#000" xml:space="preserve" transform="translate(533.5,701.27) rotate(-90)">DS</text>
<text x="0" y="0" font-family="'Liberation Serif', serif" font-size="26.49" font-weight="bold" font-style="normal" fill="#000" xml:space="preserve" transform="translate(528.6,671.66) rotate(-90)">(mA/mm)</text>
<path d="M506,559.5 L506,715.9 L534.9,724.2" fill="none" stroke="#000" stroke-width="1.7" stroke-linejoin="miter"/>
<path d="M534.9,724.2 L523.7,729" fill="none" stroke="#000" stroke-width="2.6" stroke-linecap="butt"/>
<path d="M523.7,729 L524.8,731.4" fill="none" stroke="#000" stroke-width="1.4"/>
<text x="88.2" y="65.5" font-family="'Liberation Serif', serif" font-size="20" font-weight="bold" fill="#000" xml:space="preserve" ><tspan fill="#ff0000">Negative charge model</tspan></text>
<text x="87.82" y="89.9" font-family="'Liberation Serif', serif" font-size="20" font-weight="bold" font-style="normal" fill="#000" xml:space="preserve" >Qf=</text>
<text x="126.17" y="89.9" font-family="'Liberation Serif', serif" font-size="20" font-weight="bold" font-style="normal" fill="#ff0000" xml:space="preserve" >-1</text>
<text x="142.84" y="90.2" font-family="'Liberation Serif', serif" font-size="25" font-weight="bold" font-style="normal" fill="#ff0000" xml:space="preserve" >×</text>
<text x="161.8" y="89.9" font-family="'Liberation Serif', serif" font-size="20" font-weight="bold" font-style="normal" fill="#ff0000" xml:space="preserve" letter-spacing="2.6">10</text>
<text x="186.28" y="82.7" font-family="'Liberation Sans', sans-serif" font-size="14.6" font-weight="bold" font-style="normal" fill="#ff0000" xml:space="preserve" >12</text>
<text x="208.42" y="89.9" font-family="'Liberation Serif', serif" font-size="20" font-weight="bold" font-style="normal" fill="#000" xml:space="preserve" >cm</text>
<text x="234.22" y="83.3" font-family="'Liberation Serif', serif" font-size="13" font-weight="bold" font-style="normal" fill="#000" xml:space="preserve" >-2</text>
<text x="87.73" y="113.4" font-family="'Liberation Serif', serif" font-size="20" font-weight="bold" font-style="normal" fill="#000" xml:space="preserve" >I</text>
<text x="95.87" y="117.4" font-family="'Liberation Serif', serif" font-size="13.2" font-weight="bold" font-style="normal" fill="#000" xml:space="preserve" >DS max</text>
<text x="139.9" y="113.4" font-family="'Liberation Serif', serif" font-size="20" font-weight="bold" font-style="normal" fill="#000" xml:space="preserve" >=</text>
<text x="156.07" y="113.4" font-family="'Liberation Serif', serif" font-size="20" font-weight="bold" font-style="normal" fill="#ff0000" xml:space="preserve" >-331</text>
<text x="192.73" y="113.4" font-family="'Liberation Serif', serif" font-size="20" font-weight="bold" fill="#000" xml:space="preserve" ><tspan > mA/mm</tspan></text>
<text x="88.2" y="136.3" font-family="'Liberation Serif', serif" font-size="20" font-weight="bold" fill="#000" xml:space="preserve" ><tspan font-weight="normal">@</tspan><tspan >V</tspan><tspan font-size="13.2" dy="4">DS</tspan><tspan dy="-4"> </tspan><tspan font-size="19" font-family="'Liberation Sans', sans-serif">-30</tspan><tspan > V, V</tspan><tspan font-size="13.2" dy="4">GS</tspan><tspan dy="-4"> </tspan><tspan font-size="19" font-family="'Liberation Sans', sans-serif">-40</tspan><tspan > V</tspan></text>
<text x="88.2" y="160.3" font-family="'Liberation Serif', serif" font-size="20" font-weight="bold" fill="#000" xml:space="preserve" ><tspan font-weight="normal">Δ</tspan><tspan >V= </tspan><tspan font-size="19" font-family="'Liberation Sans', sans-serif">4</tspan><tspan > V</tspan></text>
<text x="88.2" y="183.5" font-family="'Liberation Serif', serif" font-size="20" font-weight="bold" fill="#000" xml:space="preserve" ><tspan fill="#ff0000">Simulation</tspan></text>
<text x="92.1" y="509.9" font-family="'Liberation Serif', serif" font-size="20" font-weight="bold" fill="#000" xml:space="preserve" ><tspan fill="#ff0000">Negative charge model</tspan></text>
<text x="91.72" y="534.8" font-family="'Liberation Serif', serif" font-size="20" font-weight="bold" font-style="normal" fill="#000" xml:space="preserve" >Qf=</text>
<text x="129.47" y="534.8" font-family="'Liberation Serif', serif" font-size="20" font-weight="bold" font-style="normal" fill="#ff0000" xml:space="preserve" >-5</text>
<text x="146.94" y="535.1" font-family="'Liberation Serif', serif" font-size="25" font-weight="bold" font-style="normal" fill="#ff0000" xml:space="preserve" >×</text>
<text x="166.3" y="534.8" font-family="'Liberation Serif', serif" font-size="20" font-weight="bold" font-style="normal" fill="#ff0000" xml:space="preserve" letter-spacing="2.6">10</text>
<text x="190.58" y="527.6" font-family="'Liberation Sans', sans-serif" font-size="14.6" font-weight="bold" font-style="normal" fill="#ff0000" xml:space="preserve" >11</text>
<text x="213.32" y="534.8" font-family="'Liberation Serif', serif" font-size="20" font-weight="bold" font-style="normal" fill="#000" xml:space="preserve" >cm</text>
<text x="238.32" y="528.2" font-family="'Liberation Serif', serif" font-size="13" font-weight="bold" font-style="normal" fill="#000" xml:space="preserve" >-2</text>
<text x="91.63" y="559.6" font-family="'Liberation Serif', serif" font-size="20" font-weight="bold" font-style="normal" fill="#000" xml:space="preserve" >I</text>
<text x="99.77" y="563.6" font-family="'Liberation Serif', serif" font-size="13.2" font-weight="bold" font-style="normal" fill="#000" xml:space="preserve" >DS max</text>
<text x="143.8" y="559.6" font-family="'Liberation Serif', serif" font-size="20" font-weight="bold" font-style="normal" fill="#000" xml:space="preserve" >=</text>
<text x="159.87" y="559.6" font-family="'Liberation Serif', serif" font-size="20" font-weight="bold" font-style="normal" fill="#ff0000" xml:space="preserve" >-314</text>
<text x="196.53" y="559.6" font-family="'Liberation Serif', serif" font-size="20" font-weight="bold" fill="#000" xml:space="preserve" ><tspan > mA/mm</tspan></text>
<text x="92.1" y="584.5" font-family="'Liberation Serif', serif" font-size="20" font-weight="bold" fill="#000" xml:space="preserve" ><tspan font-weight="normal">@</tspan><tspan >V</tspan><tspan font-size="13.2" dy="4">DS</tspan><tspan dy="-4"> </tspan><tspan font-size="19" font-family="'Liberation Sans', sans-serif">-30</tspan><tspan > V, V</tspan><tspan font-size="13.2" dy="4">GS</tspan><tspan dy="-4"> </tspan><tspan font-size="19" font-family="'Liberation Sans', sans-serif">-40</tspan><tspan > V</tspan></text>
<text x="92.1" y="608.5" font-family="'Liberation Serif', serif" font-size="20" font-weight="bold" fill="#000" xml:space="preserve" ><tspan font-weight="normal">Δ</tspan><tspan >V= </tspan><tspan font-size="19" font-family="'Liberation Sans', sans-serif">4</tspan><tspan > V</tspan></text>
<text x="92.1" y="632.4" font-family="'Liberation Serif', serif" font-size="20" font-weight="bold" fill="#000" xml:space="preserve" ><tspan fill="#ff0000">Simulation</tspan></text>
<text x="329.1" y="92.9" font-family="'Liberation Serif', serif" font-size="19.3" font-weight="bold" fill="#000" xml:space="preserve" ><tspan >V</tspan><tspan font-size="12.9" dy="3.9">GS</tspan><tspan dy="-3.9"> = -40 V</tspan></text>
<text x="338.7" y="545.3" font-family="'Liberation Serif', serif" font-size="20" font-weight="bold" fill="#000" xml:space="preserve" ><tspan >V</tspan><tspan font-size="13.6" dy="4">GS</tspan><tspan dy="-4"> -40 V</tspan></text>
<text x="573.2" y="91.6" font-family="'Liberation Serif', serif" font-size="23.5" font-weight="bold" fill="#000" xml:space="preserve" transform="translate(573.2,91.6) scale(1,1.08) translate(-573.2,-91.6)"><tspan >V</tspan><tspan font-size="16.0" dy="4">DS</tspan><tspan dy="-4"> = -0.5 [V]</tspan></text>
<text x="573.2" y="120.3" font-family="'Liberation Serif', serif" font-size="23.5" font-weight="bold" fill="#000" xml:space="preserve" ><tspan >V</tspan><tspan font-size="16.0" dy="4">th</tspan><tspan dy="-4">= 5 [V]</tspan></text>
<text x="573.2" y="148.9" font-family="'Liberation Serif', serif" font-size="23.5" font-weight="bold" fill="#000" xml:space="preserve" ><tspan >Normally-on</tspan></text>
<text x="573.2" y="176.7" font-family="'Liberation Serif', serif" font-size="23.5" font-weight="bold" fill="#000" xml:space="preserve" ><tspan fill="#ff0000">Simulation</tspan></text>
<text x="593.9" y="520.1" font-family="'Liberation Serif', serif" font-size="21.6" font-weight="bold" fill="#000" xml:space="preserve" transform="translate(593.9,520.1) scale(1,1.05) translate(-593.9,-520.1)"><tspan >V</tspan><tspan font-size="14.7" dy="3.7">DS</tspan><tspan dy="-3.7"> = -0.5 [V]</tspan></text>
<text x="593.9" y="546.3" font-family="'Liberation Serif', serif" font-size="21.6" font-weight="bold" fill="#000" xml:space="preserve" ><tspan >V</tspan><tspan font-size="14.7" dy="3.7">th</tspan><tspan dy="-3.7">= 1 [V]</tspan></text>
<text x="593.9" y="572.7" font-family="'Liberation Serif', serif" font-size="21.6" font-weight="bold" fill="#000" xml:space="preserve" ><tspan >Normally-on</tspan></text>
<text x="593.9" y="599.1" font-family="'Liberation Serif', serif" font-size="21.6" font-weight="bold" fill="#000" xml:space="preserve" ><tspan fill="#ff0000">Simulation</tspan></text>
<text x="1094.3" y="61.6" font-family="'Liberation Serif', serif" font-size="19.2" font-weight="bold" fill="#000" xml:space="preserve" ><tspan >V</tspan><tspan font-size="13.1" dy="4">DS</tspan><tspan dy="-4"> = -0.5 [V]</tspan></text>
<text x="1094.3" y="85.2" font-family="'Liberation Serif', serif" font-size="19.2" font-weight="bold" fill="#000" xml:space="preserve" ><tspan >gm = 0.43 [mS/mm]</tspan></text>
<text x="1094.3" y="108" font-family="'Liberation Serif', serif" font-size="19.2" font-weight="bold" fill="#000" xml:space="preserve" ><tspan fill="#ff0000">Simulation</tspan></text>
<text x="1090.2" y="515.6" font-family="'Liberation Serif', serif" font-size="20.3" font-weight="bold" fill="#000" xml:space="preserve" ><tspan >V</tspan><tspan font-size="13.8" dy="4.3">DS</tspan><tspan dy="-4.3"> = -0.5 [V]</tspan></text>
<text x="1090.2" y="539.8" font-family="'Liberation Serif', serif" font-size="20.3" font-weight="bold" fill="#000" xml:space="preserve" ><tspan >gm = 0.4 [mS/mm]</tspan></text>
<text x="1090.2" y="564.2" font-family="'Liberation Serif', serif" font-size="20.3" font-weight="bold" fill="#000" xml:space="preserve" ><tspan fill="#ff0000">Simulation</tspan></text>
<line x1="409.3" y1="102" x2="412.8" y2="321.2" stroke="#000" stroke-width="1.5" />
<polygon points="412.9,327.7 409.8,321.25 415.8,321.15" fill="#000"/>
<line x1="402.8" y1="556" x2="405.22" y2="757.6" stroke="#000" stroke-width="1.5" />
<polygon points="405.3,764.1 402.22,757.64 408.22,757.56" fill="#000"/>
</svg>
</body></html>
